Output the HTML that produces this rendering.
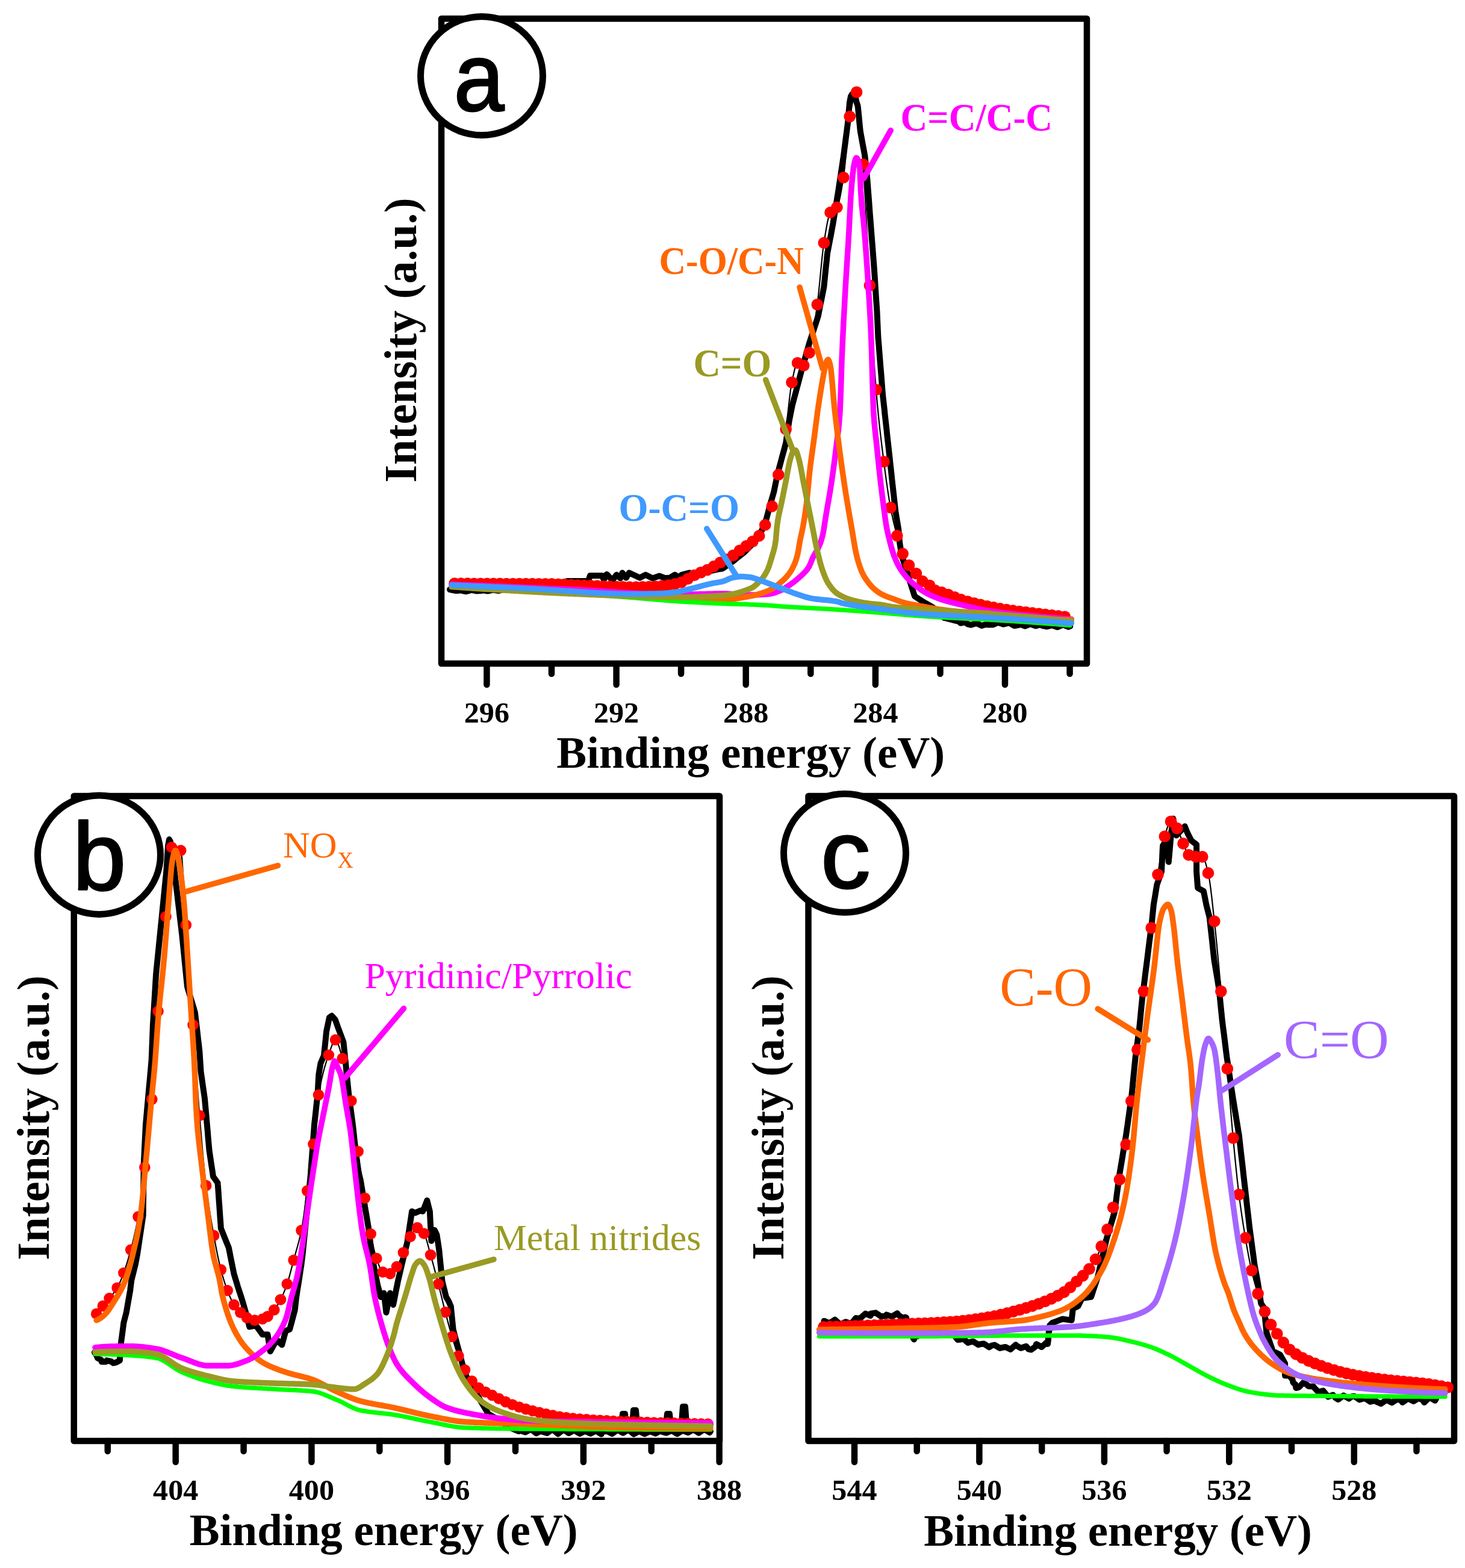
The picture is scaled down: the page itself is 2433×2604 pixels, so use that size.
<!DOCTYPE html><html><head><meta charset="utf-8"><title>XPS spectra</title><style>html,body{margin:0;padding:0;background:#fff}svg{display:block}</style></head><body>
<svg width="2433" height="2604" viewBox="0 0 2433 2604">
<rect width="2433" height="2604" fill="#fff"/>
<rect x="733" y="31" width="1072" height="1071" fill="none" stroke="#000" stroke-width="10.5" stroke-linejoin="round"/>
<line x1="808.4" y1="1102" x2="808.4" y2="1137" stroke="#000" stroke-width="10.5" stroke-linecap="round"/>
<g transform="translate(808.4,0) scale(1.045,1) translate(-808.4,0)">
<text x="772.4" y="1200" font-family="Liberation Serif, serif" font-size="48" font-weight="bold" fill="#000">296</text>
</g>
<line x1="1023.6" y1="1102" x2="1023.6" y2="1137" stroke="#000" stroke-width="10.5" stroke-linecap="round"/>
<g transform="translate(1023.6,0) scale(1.045,1) translate(-1023.6,0)">
<text x="987.6" y="1200" font-family="Liberation Serif, serif" font-size="48" font-weight="bold" fill="#000">292</text>
</g>
<line x1="1238.7" y1="1102" x2="1238.7" y2="1137" stroke="#000" stroke-width="10.5" stroke-linecap="round"/>
<g transform="translate(1238.7,0) scale(1.045,1) translate(-1238.7,0)">
<text x="1202.7" y="1200" font-family="Liberation Serif, serif" font-size="48" font-weight="bold" fill="#000">288</text>
</g>
<line x1="1453.9" y1="1102" x2="1453.9" y2="1137" stroke="#000" stroke-width="10.5" stroke-linecap="round"/>
<g transform="translate(1453.9,0) scale(1.045,1) translate(-1453.9,0)">
<text x="1417.9" y="1200" font-family="Liberation Serif, serif" font-size="48" font-weight="bold" fill="#000">284</text>
</g>
<line x1="1669" y1="1102" x2="1669" y2="1137" stroke="#000" stroke-width="10.5" stroke-linecap="round"/>
<g transform="translate(1669,0) scale(1.045,1) translate(-1669,0)">
<text x="1633" y="1200" font-family="Liberation Serif, serif" font-size="48" font-weight="bold" fill="#000">280</text>
</g>
<line x1="916" y1="1102" x2="916" y2="1119" stroke="#000" stroke-width="10.5" stroke-linecap="round"/>
<line x1="1131.1" y1="1102" x2="1131.1" y2="1119" stroke="#000" stroke-width="10.5" stroke-linecap="round"/>
<line x1="1346.3" y1="1102" x2="1346.3" y2="1119" stroke="#000" stroke-width="10.5" stroke-linecap="round"/>
<line x1="1561.5" y1="1102" x2="1561.5" y2="1119" stroke="#000" stroke-width="10.5" stroke-linecap="round"/>
<line x1="1776.6" y1="1102" x2="1776.6" y2="1119" stroke="#000" stroke-width="10.5" stroke-linecap="round"/>
<text x="924.3" y="1275.4" font-family="Liberation Serif, serif" font-size="74.9" font-weight="bold" fill="#000">Binding energy (eV)</text>
<text transform="translate(690.8,801.4) rotate(-90)" x="0" y="0" font-family="Liberation Serif, serif" font-size="75.7" font-weight="bold" fill="#000">Intensity (a.u.)</text>
<polyline points="747,979 755.9,980.9 760,981 764.8,980.3 773.8,982.3 782.8,979.9 791.8,981.5 800,981 800.8,980.1 809.8,981.6 818.8,979.6 827.8,981.1 836.8,979 845.8,980 850,979 854.8,977.4 863.7,978.1 872.6,974.9 880,975 881.5,974.6 890.2,972.2 898.8,969.7 905,968 907.6,967.6 912,967 916.5,967 925.5,967 933,967 934.5,966.7 943,965 943.3,965 952.3,965 961.3,965 970.3,965 977,965 977.7,962.8 980,956 981.8,956 990.8,956 999.8,956 1000,956 1002.8,962.8 1003.5,961.5 1007.6,953.7 1007.7,953.8 1014,960.3 1017.3,963.6 1019.8,960.1 1023.8,954.6 1025.4,956.1 1030.2,960.4 1031.1,958 1033.5,951.3 1034.7,952.8 1039.9,959.6 1040.1,959.2 1044.7,951.5 1044.8,951.3 1052.8,955 1055,956 1060.9,958.8 1062.6,959.6 1068.9,956.3 1072.2,954.6 1076.9,957 1083.6,960.4 1085,959.9 1093.6,957 1094.9,956.5 1102,959.2 1104,960 1110.8,959.7 1112.6,959.6 1118.7,955.8 1120.7,954.6 1126.4,958.1 1128,959 1132,954.7 1133.3,954.4 1142,952.1 1145,951.3 1150.7,952.6 1155,953.5 1159.4,952.1 1164.3,950.5 1168.1,949.9 1177,948.5 1180,948 1185.8,946.8 1193.9,945.1 1194.6,945 1200,944.2 1202.9,942.1 1210.3,937 1217.7,931.8 1218.1,931.5 1224.7,926.2 1231.7,920.6 1236.2,917 1238.5,914.7 1244.9,908.3 1251.3,901.9 1254.3,898.9 1256.7,894.9 1261.4,887.2 1265.2,880.8 1265.8,879.4 1269.1,871 1272.5,862.7 1272.5,862.7 1274.8,854 1277.1,845.3 1279.4,836.6 1279.7,835.5 1282,827.9 1284.5,819.3 1285.1,817.4 1286.5,810.5 1288.3,801.7 1290.1,792.9 1290.6,790.2 1292.2,784.1 1294.5,775.4 1296.8,766.7 1297.8,763 1299.1,758 1301.5,749.4 1303.8,740.7 1305.1,735.9 1305.7,731.9 1307,723 1308.3,714.1 1309.7,705.2 1310.5,699.6 1311.2,696.3 1312.9,687.5 1314.7,678.6 1315.9,672.5 1316.6,669.9 1318.9,661.2 1321.3,652.5 1323.2,645.3 1323.6,643.8 1325.9,635.1 1328.2,626.4 1330.4,618.1 1330.5,617.7 1333,609 1335.4,600.4 1337.9,591.7 1340.3,583 1342.8,574.4 1344,570 1345.4,565.8 1348.2,557.2 1351,548.7 1353.8,540.1 1356.6,531.6 1358.6,525.4 1359.1,522.9 1360.9,514.1 1362.6,505.3 1364.4,496.5 1366.2,487.6 1367.9,478.8 1368.3,477 1369,469.9 1369.9,460.9 1370.8,452 1371.7,443 1372.7,434.1 1373.6,425.1 1374,420.8 1374.9,416.2 1376.6,407.4 1378,400 1378.3,398.5 1380,389.7 1381.6,380.9 1383.3,372 1383.3,372 1384.7,363.1 1386.2,354.2 1387.6,345.4 1389.1,336.5 1390.5,327.6 1392,318.7 1392.4,316 1393.3,309.8 1394.7,300.9 1396,292 1397.3,283.1 1398.7,274.2 1400,265.3 1400.8,260 1401.3,256.4 1402.4,247.5 1403.6,238.5 1404.7,229.6 1405.9,220.7 1407,211.8 1408,204 1408.1,202.8 1408.9,193.9 1409.7,184.9 1410.5,175.9 1411,170 1411.6,167 1413,160 1414,158.4 1415.5,156 1419,159 1419.5,160.4 1422.3,169 1424.6,176 1424.8,177.6 1425.7,186.6 1426.6,195.5 1427.4,204.5 1428.3,213.4 1428.8,218 1429.6,222.3 1431.2,231.2 1432.8,240 1434.5,248.9 1436.1,257.7 1436.5,260 1437.2,266.7 1438.1,275.6 1439,284.6 1439.9,293.5 1440.7,302 1440.7,302.5 1441.4,311.5 1442.1,320.4 1442.8,329.4 1443.5,338.4 1444.1,347.4 1444.8,356.3 1445.5,365.3 1446,372 1446.2,374.3 1446.9,383.3 1447.6,392.2 1448.3,401.2 1449,410.2 1449.7,419.1 1450.4,428.1 1451.1,437.1 1451.7,445 1451.8,446.1 1452.4,455 1453,464 1453.5,473 1454.1,482 1454.7,491 1455.3,500 1455.9,508.9 1456.5,517.7 1456.5,517.9 1456.9,526.9 1457.3,535.9 1457.7,544.9 1458.1,553.9 1458.4,560 1458.6,562.9 1459.4,571.8 1460.1,580.8 1460.8,589.8 1461.5,598.7 1462.2,607.7 1463,616.7 1463.7,625.7 1464.4,634.6 1465.1,643.6 1465.8,652.6 1466.2,657 1466.7,661.5 1467.7,670.5 1468.7,679.4 1469.6,688.4 1470.6,697.3 1471.6,706.3 1472.6,715.2 1473.5,724.2 1474.5,733.1 1475.5,742 1476.5,751 1476.8,753.9 1477.5,759.9 1478.4,768.9 1479.4,777.8 1480.4,786.8 1481.3,795.7 1482,802 1482.3,804.7 1483.3,813.6 1484.3,822.6 1485.3,831.5 1486.3,840.5 1487.3,849.4 1487.5,850.8 1488.7,858.3 1490.2,867.2 1491.7,876.1 1492.3,880 1492.7,885 1493.5,893.9 1494,900 1494.4,902.9 1495.8,911.8 1497.1,920.7 1497.6,923.7 1499.6,929.3 1502.5,937.8 1505.5,946.3 1505.9,947.4 1508.1,954.9 1510.6,963.6 1511,965 1513.3,972.2 1516,980.8 1518.7,989.3 1518.9,990 1525.8,994.6 1533.3,999.5 1535.6,1001 1541.1,1004 1548,1007.8 1548.9,1008.5 1556.2,1013.7 1558,1015 1562.6,1020.1 1568,1026 1568.9,1026.2 1577.7,1028.4 1586.4,1030.6 1593.9,1032.4 1595.1,1034.8 1603.8,1033 1606.8,1036.3 1612.6,1037.8 1621.6,1035 1630.6,1039.1 1639.6,1036.2 1640,1037.5 1648.6,1037.6 1657.5,1033.8 1666.5,1036.8 1672.6,1035.1 1675.5,1034.2 1684.4,1039.2 1692,1038 1693.3,1036.3 1702.3,1039.8 1711.3,1036.4 1720.3,1039.5 1729.3,1037 1730.8,1039 1738.3,1040.6 1747.3,1038.4 1756.3,1041.5 1765.3,1037.4 1774.3,1041 1777.3,1040" fill="none" stroke="#000" stroke-width="10" stroke-linejoin="round" stroke-linecap="round"/>
<polyline points="755,969 757,969 759,969 761,969 763,969 765,969.1 767,969.1 769,969.1 771,969.1 773,969.1 775,969.1 777,969.1 779,969.1 781,969.1 783,969.2 785,969.2 787,969.2 789,969.2 791,969.2 793,969.2 795,969.2 797,969.2 799,969.2 801,969.2 803,969.3 805,969.3 807,969.3 809,969.3 811,969.3 813,969.3 815,969.3 817,969.3 819,969.3 821,969.4 823,969.4 825,969.4 827,969.4 829,969.4 831,969.4 833,969.4 835,969.4 837,969.4 839,969.4 841,969.4 843,969.5 845,969.5 847,969.5 849,969.5 851,969.5 853,969.5 855,969.5 857,969.5 859,969.5 861,969.5 863,969.5 865,969.5 867,969.5 869,969.6 871,969.6 873,969.6 875,969.6 877,969.6 879,969.6 881,969.6 883,969.6 885,969.6 887,969.6 889,969.6 891,969.6 893,969.7 895,969.7 897,969.7 899,969.7 901,969.7 903,969.7 905,969.7 907,969.8 909,969.8 911,969.8 913,969.8 915,969.8 917,969.9 919,969.9 921,970 923,970 925,970.1 927,970.2 929,970.3 931,970.3 933,970.4 935,970.5 937,970.6 939,970.7 941,970.8 943,970.9 945,971 947,971.1 949,971.2 951,971.3 953,971.4 955,971.5 957,971.6 959,971.7 961,971.8 963,971.9 965,972 967,972 969,972.1 971,972.2 973,972.3 975,972.4 977,972.5 979,972.5 981,972.6 983,972.7 985,972.8 987,972.9 989,973 991,973.1 993,973.2 995,973.3 997,973.4 999,973.5 1001,973.6 1003,973.7 1005,973.8 1007,973.9 1009,973.9 1011,974 1013,974.1 1015,974.2 1017,974.3 1019,974.4 1021,974.4 1023,974.5 1025,974.6 1027,974.6 1029,974.7 1031,974.7 1033,974.8 1035,974.8 1037,974.9 1039,974.9 1041,974.9 1043,975 1045,975 1047,975 1049,975 1051,975 1053,975 1055,975 1057,975 1059,974.9 1061,974.9 1063,974.9 1065,974.8 1067,974.8 1069,974.8 1071,974.7 1073,974.7 1075,974.6 1077,974.6 1079,974.5 1081,974.4 1083,974.4 1085,974.3 1087,974.1 1089,974 1091,973.9 1093,973.7 1095,973.5 1097,973.4 1099,973.2 1101,972.9 1103,972.7 1105,972.5 1107,972.2 1109,971.9 1111,971.6 1113,971.3 1115,971 1117,970.7 1119,970.3 1121,970 1123,969.6 1125,969.2 1127,968.7 1129,968.1 1131,967.3 1133,966.4 1135,965.4 1137,964.3 1139,963.1 1141,962 1143,960.8 1145,959.6 1147,958.4 1149,957.3 1151,956.2 1153,955.2 1155,954.3 1157,953.5 1159,952.7 1161,951.9 1163,951.2 1165,950.4 1167,949.7 1169,948.9 1171,948.1 1173,947.2 1175,946.4 1177,945.4 1179,944.4 1181,943.3 1183,942.1 1185,940.9 1187,939.6 1189,938.3 1191,937.1 1193,935.9 1195,934.8 1197,933.8 1199,932.9 1201,931.9 1203,931 1205,930.1 1207,929.1 1209,928 1211,926.8 1213,925.5 1215,924.1 1217,922.7 1219,921.2 1221,919.7 1223,918.2 1225,916.8 1227,915.3 1229,913.9 1231,912.6 1233,911.2 1235,909.8 1237,908.5 1239,907.1 1241,905.7 1243,904.2 1245,902.7 1247,901.2 1249,899.8 1251,898.4 1253,897 1255,895.4 1257,893.7 1259,891.8 1261,889.5 1263,886.8 1265,883.4 1267,879.5 1269,875.3 1271,871.1 1273,866.6 1275,861.9 1277,856.8 1279,851.2 1281,845 1283,838 1285,829.5 1287,819.8 1289,809.3 1291,798.3 1293,787.3 1295,776.2 1297,764.7 1299,752.8 1301,740.5 1303,727.6 1305,714.1 1307,698.8 1309,681.1 1311,663.2 1313,647.1 1315,635 1317,625.5 1319,616.4 1321,608.9 1323,604 1325,602.7 1327,603.3 1329,604.4 1331,605.7 1333,606.6 1335,607 1337,605.2 1339,601.1 1341,595.5 1343,589 1345,582.1 1347,573.3 1349,562.6 1351,550.3 1353,536.9 1355,522.6 1357,508 1359,491.7 1361,472 1363,451 1365,430.5 1367,412.7 1369,399 1371,386.6 1373,375 1375,365 1377,357.4 1379,352.9 1381,350.8 1383,349.4 1385,348.4 1387,347.2 1389,345.5 1391,342.4 1393,336.5 1395,328 1397,317.6 1399,305.9 1401,293.5 1403,276.5 1405,254.6 1407,231.3 1409,210.1 1411,194.6 1413,184.1 1415,174.1 1417,165.4 1419,158.5 1421,154.2 1423,153.3 1425,162.2 1427,181.3 1429,207.1 1431,236.5 1433,266 1435,295.7 1437,330.8 1439,369.6 1441,409.6 1443,448.6 1445,484.5 1447,520.4 1449,556.3 1451,590.7 1453,621.9 1455,648.4 1457,671.1 1459,691.6 1461,710.5 1463,728 1465,744.5 1467,760.4 1469,776 1471,791.2 1473,805.6 1475,819.2 1477,831.7 1479,843 1481,853.1 1483,862.4 1485,871 1487,879 1489,886.7 1491,894 1493,901.1 1495,907.8 1497,913.8 1499,919.1 1501,923.7 1503,927.8 1505,931.5 1507,934.9 1509,938 1511,940.8 1513,943.2 1515,945.5 1517,947.6 1519,949.8 1521,952 1523,954.5 1525,957.1 1527,959.8 1529,962.3 1531,964.4 1533,966 1535,967.3 1537,968.4 1539,969.5 1541,970.5 1543,971.7 1545,973.3 1547,975.2 1549,977.3 1551,979.1 1553,980.5 1555,981.4 1557,982 1559,982.6 1561,983.1 1563,983.6 1565,984.1 1567,984.7 1569,985.3 1571,986.1 1573,986.8 1575,987.6 1577,988.4 1579,989.2 1581,990.1 1583,990.9 1585,991.8 1587,992.6 1589,993.3 1591,994.1 1593,994.8 1595,995.5 1597,996.1 1599,996.7 1601,997.3 1603,997.9 1605,998.4 1607,999 1609,999.5 1611,1000.1 1613,1000.6 1615,1001.1 1617,1001.6 1619,1002.1 1621,1002.6 1623,1003 1625,1003.5 1627,1004 1629,1004.4 1631,1004.9 1633,1005.3 1635,1005.7 1637,1006.2 1639,1006.6 1641,1007 1643,1007.4 1645,1007.8 1647,1008.3 1649,1008.7 1651,1009 1653,1009.4 1655,1009.8 1657,1010.2 1659,1010.5 1661,1010.9 1663,1011.3 1665,1011.6 1667,1011.9 1669,1012.2 1671,1012.6 1673,1012.9 1675,1013.2 1677,1013.4 1679,1013.7 1681,1014 1683,1014.2 1685,1014.5 1687,1014.7 1689,1015 1691,1015.2 1693,1015.5 1695,1015.7 1697,1015.9 1699,1016.2 1701,1016.4 1703,1016.6 1705,1016.8 1707,1017.1 1709,1017.3 1711,1017.6 1713,1017.8 1715,1018 1717,1018.3 1719,1018.5 1721,1018.8 1723,1019 1725,1019.2 1727,1019.5 1729,1019.7 1731,1019.9 1733,1020.2 1735,1020.4 1737,1020.7 1739,1020.9 1741,1021.1 1743,1021.4 1745,1021.6 1747,1021.8 1749,1022.1 1751,1022.3 1753,1022.5 1755,1022.8 1757,1023 1759,1023.2 1761,1023.5 1763,1023.7 1765,1023.9 1767,1024.1 1769,1024.4 1771,1024.6 1773,1024.8 1775,1025.1 1777,1025.3 1778,1025.4" fill="none" stroke="#000" stroke-width="2.2" stroke-linejoin="round"/>
<g fill="#FF0000"><circle cx="1260.7" cy="889.9" r="9.8"/><circle cx="1270.7" cy="871.7" r="9.8"/><circle cx="1282.2" cy="840.9" r="9.8"/><circle cx="1292.8" cy="788.4" r="9.8"/><circle cx="1305.2" cy="712.7" r="9.8"/><circle cx="1315" cy="635" r="9.8"/><circle cx="1324.6" cy="602.7" r="9.8"/><circle cx="1334.8" cy="607" r="9.8"/><circle cx="1344" cy="585.7" r="9.8"/><circle cx="1357.3" cy="505.8" r="9.8"/><circle cx="1368.3" cy="403.4" r="9.8"/><circle cx="1379" cy="352.9" r="9.8"/><circle cx="1389.9" cy="344.4" r="9.8"/><circle cx="1400.8" cy="294.8" r="9.8"/><circle cx="1411.2" cy="193.5" r="9.8"/><circle cx="1422.6" cy="153" r="9.8"/><circle cx="1433.5" cy="273" r="9.8"/><circle cx="1444.4" cy="474" r="9.8"/><circle cx="1454.9" cy="647.2" r="9.8"/><circle cx="1467.8" cy="766.7" r="9.8"/><circle cx="1479" cy="843" r="9.8"/><circle cx="1489.8" cy="889.6" r="9.8"/><circle cx="1499.2" cy="919.6" r="9.8"/><circle cx="1509.5" cy="938.7" r="9.8"/><circle cx="1521.4" cy="952.5" r="9.8"/><circle cx="1531.9" cy="965.2" r="9.8"/><circle cx="1543.8" cy="972.3" r="9.8"/><circle cx="1553.2" cy="980.6" r="9.8"/><circle cx="1249.9" cy="899.2" r="9.8"/><circle cx="1239.2" cy="906.9" r="9.8"/><circle cx="1228.4" cy="914.3" r="9.8"/><circle cx="1217.7" cy="922.2" r="9.8"/><circle cx="1206.9" cy="929.1" r="9.8"/><circle cx="1196.1" cy="934.2" r="9.8"/><circle cx="1185.4" cy="940.6" r="9.8"/><circle cx="1174.6" cy="946.5" r="9.8"/><circle cx="1163.9" cy="950.8" r="9.8"/><circle cx="1153.1" cy="955.2" r="9.8"/><circle cx="1142.3" cy="961.2" r="9.8"/><circle cx="1131.6" cy="967" r="9.8"/><circle cx="1120.8" cy="970" r="9.8"/><circle cx="1110.1" cy="971.8" r="9.8"/><circle cx="1099.3" cy="973.1" r="9.8"/><circle cx="1088.5" cy="974" r="9.8"/><circle cx="1077.8" cy="974.5" r="9.8"/><circle cx="1067" cy="974.8" r="9.8"/><circle cx="1056.3" cy="975" r="9.8"/><circle cx="1045.5" cy="975" r="9.8"/><circle cx="1034.7" cy="974.8" r="9.8"/><circle cx="1024" cy="974.5" r="9.8"/><circle cx="1013.2" cy="974.1" r="9.8"/><circle cx="1002.5" cy="973.7" r="9.8"/><circle cx="991.7" cy="973.1" r="9.8"/><circle cx="980.9" cy="972.6" r="9.8"/><circle cx="970.2" cy="972.2" r="9.8"/><circle cx="959.4" cy="971.7" r="9.8"/><circle cx="948.7" cy="971.2" r="9.8"/><circle cx="937.9" cy="970.7" r="9.8"/><circle cx="927.1" cy="970.2" r="9.8"/><circle cx="916.4" cy="969.9" r="9.8"/><circle cx="905.6" cy="969.7" r="9.8"/><circle cx="894.9" cy="969.7" r="9.8"/><circle cx="884.1" cy="969.6" r="9.8"/><circle cx="873.3" cy="969.6" r="9.8"/><circle cx="862.6" cy="969.5" r="9.8"/><circle cx="851.8" cy="969.5" r="9.8"/><circle cx="841.1" cy="969.5" r="9.8"/><circle cx="830.3" cy="969.4" r="9.8"/><circle cx="819.5" cy="969.3" r="9.8"/><circle cx="808.8" cy="969.3" r="9.8"/><circle cx="798" cy="969.2" r="9.8"/><circle cx="787.3" cy="969.2" r="9.8"/><circle cx="776.5" cy="969.1" r="9.8"/><circle cx="765.7" cy="969.1" r="9.8"/><circle cx="755" cy="969" r="9.8"/><circle cx="1564" cy="983.9" r="9.8"/><circle cx="1574.7" cy="987.5" r="9.8"/><circle cx="1585.5" cy="991.9" r="9.8"/><circle cx="1596.2" cy="995.9" r="9.8"/><circle cx="1607" cy="999" r="9.8"/><circle cx="1617.8" cy="1001.8" r="9.8"/><circle cx="1628.5" cy="1004.3" r="9.8"/><circle cx="1639.3" cy="1006.7" r="9.8"/><circle cx="1650" cy="1008.9" r="9.8"/><circle cx="1660.8" cy="1010.9" r="9.8"/><circle cx="1671.6" cy="1012.6" r="9.8"/><circle cx="1682.3" cy="1014.1" r="9.8"/><circle cx="1693.1" cy="1015.5" r="9.8"/><circle cx="1703.8" cy="1016.7" r="9.8"/><circle cx="1714.6" cy="1018" r="9.8"/><circle cx="1725.4" cy="1019.3" r="9.8"/><circle cx="1736.1" cy="1020.6" r="9.8"/><circle cx="1746.9" cy="1021.8" r="9.8"/><circle cx="1757.6" cy="1023.1" r="9.8"/><circle cx="1768.4" cy="1024.3" r="9.8"/></g>
<polyline points="750,970.5 751.5,970.6 753,970.6 754.5,970.7 756,970.7 757.5,970.8 759,970.9 760.5,970.9 762,971 763.5,971 765,971.1 766.5,971.2 768,971.2 769.5,971.3 771,971.3 772.5,971.4 774,971.5 775.5,971.5 777,971.6 778.5,971.6 780,971.7 781.5,971.8 783,971.8 784.5,971.9 786,972 787.5,972 789,972.1 790.5,972.1 792,972.2 793.5,972.3 795,972.3 796.5,972.4 798,972.4 799.5,972.5 801,972.6 802.5,972.6 804,972.7 805.5,972.8 807,972.8 808.5,972.9 810,972.9 811.5,973 813,973.1 814.5,973.1 816,973.2 817.5,973.3 819,973.3 820.5,973.4 822,973.4 823.5,973.5 825,973.6 826.5,973.6 828,973.7 829.5,973.8 831,973.8 832.5,973.9 834,973.9 835.5,974 837,974.1 838.5,974.1 840,974.2 841.5,974.3 843,974.3 844.5,974.4 846,974.5 847.5,974.5 849,974.6 850.5,974.6 852,974.7 853.5,974.8 855,974.8 856.5,974.9 858,975 859.5,975 861,975.1 862.5,975.2 864,975.2 865.5,975.3 867,975.4 868.5,975.4 870,975.5 871.5,975.5 873,975.6 874.5,975.7 876,975.7 877.5,975.8 879,975.9 880.5,975.9 882,976 883.5,976.1 885,976.1 886.5,976.2 888,976.3 889.5,976.3 891,976.4 892.5,976.5 894,976.5 895.5,976.6 897,976.7 898.5,976.7 900,976.8 901.5,976.8 903,976.9 904.5,977 906,977 907.5,977.1 909,977.2 910.5,977.2 912,977.3 913.5,977.4 915,977.4 916.5,977.5 918,977.6 919.5,977.6 921,977.7 922.5,977.8 924,977.8 925.5,977.9 927,978 928.5,978 930,978.1 931.5,978.2 933,978.2 934.5,978.3 936,978.4 937.5,978.4 939,978.5 940.5,978.6 942,978.6 943.5,978.7 945,978.8 946.5,978.8 948,978.9 949.5,979 951,979 952.5,979.1 954,979.2 955.5,979.3 957,979.3 958.5,979.4 960,979.5 961.5,979.6 963,979.6 964.5,979.7 966,979.8 967.5,979.9 969,979.9 970.5,980 972,980.1 973.5,980.2 975,980.3 976.5,980.4 978,980.5 979.5,980.5 981,980.6 982.5,980.7 984,980.8 985.5,980.9 987,981 988.5,981.1 990,981.2 991.5,981.3 993,981.4 994.5,981.4 996,981.5 997.5,981.6 999,981.7 1000.5,981.8 1002,981.9 1003.5,982 1005,982.1 1006.5,982.2 1008,982.3 1009.5,982.4 1011,982.5 1012.5,982.6 1014,982.7 1015.5,982.8 1017,982.9 1018.5,983 1020,983.1 1021.5,983.1 1023,983.2 1024.5,983.3 1026,983.4 1027.5,983.5 1029,983.6 1030.5,983.7 1032,983.8 1033.5,983.9 1035,984 1036.5,984.1 1038,984.2 1039.5,984.3 1041,984.3 1042.5,984.4 1044,984.5 1045.5,984.6 1047,984.7 1048.5,984.8 1050,984.9 1051.5,984.9 1053,985 1054.5,985.1 1056,985.2 1057.5,985.3 1059,985.3 1060.5,985.4 1062,985.5 1063.5,985.6 1065,985.6 1066.5,985.7 1068,985.8 1069.5,985.9 1071,985.9 1072.5,986 1074,986.1 1075.5,986.1 1077,986.2 1078.5,986.3 1080,986.3 1081.5,986.4 1083,986.4 1084.5,986.5 1086,986.6 1087.5,986.6 1089,986.7 1090.5,986.7 1092,986.8 1093.5,986.8 1095,986.8 1096.5,986.9 1098,986.9 1099.5,987 1101,987 1102.5,987 1104,987.1 1105.5,987.1 1107,987.1 1108.5,987.2 1110,987.2 1111.5,987.2 1113,987.2 1114.5,987.2 1116,987.3 1117.5,987.3 1119,987.3 1120.5,987.3 1122,987.3 1123.5,987.3 1125,987.3 1126.5,987.3 1128,987.3 1129.5,987.3 1131,987.3 1132.5,987.3 1134,987.2 1135.5,987.2 1137,987.2 1138.5,987.2 1140,987.2 1141.5,987.1 1143,987.1 1144.5,987.1 1146,987.1 1147.5,987 1149,987 1150.5,987 1152,986.9 1153.5,986.9 1155,986.8 1156.5,986.8 1158,986.8 1159.5,986.7 1161,986.7 1162.5,986.6 1164,986.6 1165.5,986.6 1167,986.5 1168.5,986.5 1170,986.5 1171.5,986.4 1173,986.4 1174.5,986.3 1176,986.3 1177.5,986.3 1179,986.2 1180.5,986.2 1182,986.2 1183.5,986.2 1185,986.1 1186.5,986.1 1188,986.1 1189.5,986.1 1191,986.1 1192.5,986 1194,986 1195.5,986 1197,986 1198.5,986 1200,986 1201.5,986 1203,986 1204.5,986.1 1206,986.1 1207.5,986.1 1209,986.2 1210.5,986.3 1212,986.3 1213.5,986.4 1215,986.5 1216.5,986.6 1218,986.7 1219.5,986.7 1221,986.8 1222.5,986.9 1224,987 1225.5,987.1 1227,987.2 1228.5,987.3 1230,987.4 1231.5,987.5 1233,987.6 1234.5,987.7 1236,987.7 1237.5,987.8 1239,987.8 1240.5,987.9 1242,987.9 1243.5,988 1245,988 1246.5,988 1248,988 1249.5,988 1251,988 1252.5,987.9 1254,987.9 1255.5,987.9 1257,987.8 1258.5,987.8 1260,987.7 1261.5,987.6 1263,987.6 1264.5,987.5 1266,987.4 1267.5,987.3 1269,987.2 1270.5,987.1 1272,987 1273.5,986.8 1275,986.7 1276.5,986.6 1278,986.4 1279.5,986.2 1281,985.9 1282.5,985.5 1284,985.1 1285.5,984.7 1287,984.2 1288.5,983.7 1290,983.1 1291.5,982.5 1293,981.9 1294.5,981.3 1296,980.7 1297.5,980.1 1299,979.3 1300.5,978.5 1302,977.7 1303.5,976.8 1305,975.8 1306.5,974.8 1308,973.8 1309.5,972.8 1311,971.8 1312.5,970.8 1314,969.7 1315.5,968.6 1317,967.5 1318.5,966.4 1320,965.2 1321.5,964 1323,962.8 1324.5,961.5 1326,960.2 1327.5,958.8 1329,957.5 1330.5,956.1 1332,954.7 1333.5,953.3 1335,951.9 1336.5,950.3 1338,948.6 1339.5,946.9 1341,944.9 1342.5,942.8 1344,940.2 1345.5,936.9 1347,933.2 1348.5,929.4 1350,926 1351.5,923.1 1353,920.4 1354.5,917.9 1356,915.3 1357.5,912.7 1359,909.8 1360.5,906.5 1362,902.8 1363.5,898.6 1365,893.7 1366.5,887.8 1368,879.8 1369.5,870.3 1371,860.5 1372.5,851.2 1374,842.5 1375.5,833.9 1377,825.3 1378.5,816.4 1380,807.1 1381.5,797.3 1383,786.9 1384.5,776 1386,764.6 1387.5,752.5 1389,740 1390.5,728.8 1392,717.4 1393.5,703.2 1395,683.9 1396.5,646.1 1398,598.9 1399.5,564.3 1401,534.3 1402.5,506.4 1404,479.2 1405.5,454.4 1407,431.1 1408.5,407.7 1410,382.7 1411.5,353.2 1413,325.8 1414.5,306.6 1416,290.5 1417.5,278.5 1419,270.7 1420.5,264.6 1422,262 1423.5,262.9 1425,265.8 1426.5,270.4 1428,280.9 1429.5,316.5 1431,339.6 1432.5,353.4 1434,366.7 1435.5,383.6 1437,402.3 1438.5,422.5 1440,443.9 1441.5,466.6 1443,490.3 1444.5,514.8 1446,542.4 1447.5,580.4 1449,637.1 1450.5,681 1452,702 1453.5,717.4 1455,730.6 1456.5,745 1458,759.8 1459.5,774.3 1461,788.2 1462.5,801.4 1464,814 1465.5,826 1467,837.5 1468.5,848.7 1470,860 1471.5,870.3 1473,878.7 1474.5,885.8 1476,892.2 1477.5,898.1 1479,903.8 1480.5,909.4 1482,914.6 1483.5,919.4 1485,923.6 1486.5,927.3 1488,930.8 1489.5,934.1 1491,937.2 1492.5,940.1 1494,942.7 1495.5,945.2 1497,947.5 1498.5,949.6 1500,951.7 1501.5,953.6 1503,955.5 1504.5,957.3 1506,959 1507.5,960.6 1509,962.2 1510.5,963.7 1512,965.1 1513.5,966.5 1515,967.9 1516.5,969.2 1518,970.5 1519.5,971.7 1521,972.9 1522.5,974.1 1524,975.3 1525.5,976.4 1527,977.6 1528.5,978.6 1530,979.7 1531.5,980.7 1533,981.7 1534.5,982.6 1536,983.5 1537.5,984.4 1539,985.2 1540.5,986 1542,986.8 1543.5,987.5 1545,988.3 1546.5,988.9 1548,989.6 1549.5,990.3 1551,990.9 1552.5,991.5 1554,992.1 1555.5,992.7 1557,993.3 1558.5,993.8 1560,994.4 1561.5,994.9 1563,995.4 1564.5,995.9 1566,996.4 1567.5,996.8 1569,997.3 1570.5,997.8 1572,998.2 1573.5,998.6 1575,999 1576.5,999.4 1578,999.8 1579.5,1000.2 1581,1000.6 1582.5,1001 1584,1001.3 1585.5,1001.7 1587,1002.1 1588.5,1002.4 1590,1002.8 1591.5,1003.1 1593,1003.5 1594.5,1003.9 1596,1004.2 1597.5,1004.6 1599,1004.9 1600.5,1005.3 1602,1005.7 1603.5,1006.1 1605,1006.4 1606.5,1006.8 1608,1007.2 1609.5,1007.5 1611,1007.9 1612.5,1008.3 1614,1008.6 1615.5,1009 1617,1009.3 1618.5,1009.7 1620,1010 1621.5,1010.4 1623,1010.7 1624.5,1011 1626,1011.4 1627.5,1011.7 1629,1012 1630.5,1012.3 1632,1012.6 1633.5,1012.9 1635,1013.1 1636.5,1013.4 1638,1013.7 1639.5,1013.9 1641,1014.2 1642.5,1014.4 1644,1014.6 1645.5,1014.8 1647,1015.1 1648.5,1015.3 1650,1015.5 1651.5,1015.7 1653,1015.9 1654.5,1016.1 1656,1016.3 1657.5,1016.5 1659,1016.7 1660.5,1016.9 1662,1017.1 1663.5,1017.3 1665,1017.5 1666.5,1017.7 1668,1017.9 1669.5,1018.1 1671,1018.2 1672.5,1018.4 1674,1018.6 1675.5,1018.8 1677,1018.9 1678.5,1019.1 1680,1019.3 1681.5,1019.4 1683,1019.6 1684.5,1019.8 1686,1019.9 1687.5,1020.1 1689,1020.2 1690.5,1020.4 1692,1020.5 1693.5,1020.7 1695,1020.9 1696.5,1021 1698,1021.2 1699.5,1021.3 1701,1021.5 1702.5,1021.6 1704,1021.8 1705.5,1021.9 1707,1022.1 1708.5,1022.2 1710,1022.4 1711.5,1022.5 1713,1022.7 1714.5,1022.8 1716,1023 1717.5,1023.1 1719,1023.2 1720.5,1023.4 1722,1023.5 1723.5,1023.7 1725,1023.8 1726.5,1024 1728,1024.1 1729.5,1024.2 1731,1024.4 1732.5,1024.5 1734,1024.7 1735.5,1024.8 1737,1024.9 1738.5,1025.1 1740,1025.2 1741.5,1025.3 1743,1025.5 1744.5,1025.6 1746,1025.7 1747.5,1025.8 1749,1026 1750.5,1026.1 1752,1026.2 1753.5,1026.3 1755,1026.5 1756.5,1026.6 1758,1026.7 1759.5,1026.8 1761,1026.9 1762.5,1027.1 1764,1027.2 1765.5,1027.3 1767,1027.4 1768.5,1027.5 1770,1027.6 1771.5,1027.7 1773,1027.9 1774.5,1028 1776,1028.1 1777.5,1028.2 1779,1028.3 1779.3,1028.3" fill="none" stroke="#FF00FF" stroke-width="9.5" stroke-linejoin="round" stroke-linecap="round"/>
<polyline points="750,973.5 751.5,973.6 753,973.6 754.5,973.7 756,973.8 757.5,973.9 759,973.9 760.5,974 762,974.1 763.5,974.2 765,974.2 766.5,974.3 768,974.4 769.5,974.4 771,974.5 772.5,974.6 774,974.7 775.5,974.7 777,974.8 778.5,974.9 780,975 781.5,975 783,975.1 784.5,975.2 786,975.3 787.5,975.3 789,975.4 790.5,975.5 792,975.6 793.5,975.6 795,975.7 796.5,975.8 798,975.8 799.5,975.9 801,976 802.5,976.1 804,976.1 805.5,976.2 807,976.3 808.5,976.4 810,976.4 811.5,976.5 813,976.6 814.5,976.7 816,976.7 817.5,976.8 819,976.9 820.5,977 822,977 823.5,977.1 825,977.2 826.5,977.3 828,977.3 829.5,977.4 831,977.5 832.5,977.6 834,977.6 835.5,977.7 837,977.8 838.5,977.9 840,977.9 841.5,978 843,978.1 844.5,978.2 846,978.2 847.5,978.3 849,978.4 850.5,978.5 852,978.5 853.5,978.6 855,978.7 856.5,978.8 858,978.9 859.5,978.9 861,979 862.5,979.1 864,979.2 865.5,979.2 867,979.3 868.5,979.4 870,979.5 871.5,979.5 873,979.6 874.5,979.7 876,979.8 877.5,979.8 879,979.9 880.5,980 882,980.1 883.5,980.2 885,980.2 886.5,980.3 888,980.4 889.5,980.5 891,980.5 892.5,980.6 894,980.7 895.5,980.8 897,980.8 898.5,980.9 900,981 901.5,981.1 903,981.2 904.5,981.2 906,981.3 907.5,981.4 909,981.5 910.5,981.5 912,981.6 913.5,981.7 915,981.8 916.5,981.9 918,981.9 919.5,982 921,982.1 922.5,982.2 924,982.3 925.5,982.3 927,982.4 928.5,982.5 930,982.6 931.5,982.6 933,982.7 934.5,982.8 936,982.9 937.5,983 939,983 940.5,983.1 942,983.2 943.5,983.3 945,983.4 946.5,983.4 948,983.5 949.5,983.6 951,983.7 952.5,983.8 954,983.8 955.5,983.9 957,984 958.5,984.1 960,984.2 961.5,984.2 963,984.3 964.5,984.4 966,984.5 967.5,984.6 969,984.6 970.5,984.7 972,984.8 973.5,984.9 975,985 976.5,985 978,985.1 979.5,985.2 981,985.3 982.5,985.4 984,985.5 985.5,985.5 987,985.6 988.5,985.7 990,985.8 991.5,985.9 993,985.9 994.5,986 996,986.1 997.5,986.2 999,986.3 1000.5,986.3 1002,986.4 1003.5,986.5 1005,986.6 1006.5,986.7 1008,986.7 1009.5,986.8 1011,986.9 1012.5,987 1014,987.1 1015.5,987.1 1017,987.2 1018.5,987.3 1020,987.4 1021.5,987.5 1023,987.6 1024.5,987.6 1026,987.7 1027.5,987.8 1029,987.9 1030.5,988 1032,988 1033.5,988.1 1035,988.2 1036.5,988.3 1038,988.4 1039.5,988.4 1041,988.5 1042.5,988.6 1044,988.7 1045.5,988.8 1047,988.8 1048.5,988.9 1050,989 1051.5,989.1 1053,989.2 1054.5,989.2 1056,989.3 1057.5,989.4 1059,989.5 1060.5,989.6 1062,989.7 1063.5,989.7 1065,989.8 1066.5,989.9 1068,990 1069.5,990.1 1071,990.2 1072.5,990.2 1074,990.3 1075.5,990.4 1077,990.5 1078.5,990.6 1080,990.7 1081.5,990.7 1083,990.8 1084.5,990.9 1086,991 1087.5,991.1 1089,991.2 1090.5,991.2 1092,991.3 1093.5,991.4 1095,991.5 1096.5,991.6 1098,991.6 1099.5,991.7 1101,991.8 1102.5,991.9 1104,992 1105.5,992 1107,992.1 1108.5,992.2 1110,992.3 1111.5,992.3 1113,992.4 1114.5,992.5 1116,992.6 1117.5,992.6 1119,992.7 1120.5,992.8 1122,992.9 1123.5,992.9 1125,993 1126.5,993.1 1128,993.1 1129.5,993.2 1131,993.3 1132.5,993.4 1134,993.4 1135.5,993.5 1137,993.6 1138.5,993.7 1140,993.8 1141.5,993.8 1143,993.9 1144.5,994 1146,994.1 1147.5,994.2 1149,994.2 1150.5,994.3 1152,994.4 1153.5,994.5 1155,994.5 1156.5,994.6 1158,994.7 1159.5,994.8 1161,994.9 1162.5,994.9 1164,995 1165.5,995.1 1167,995.1 1168.5,995.2 1170,995.3 1171.5,995.3 1173,995.4 1174.5,995.5 1176,995.5 1177.5,995.6 1179,995.6 1180.5,995.7 1182,995.7 1183.5,995.8 1185,995.8 1186.5,995.8 1188,995.9 1189.5,995.9 1191,995.9 1192.5,995.9 1194,996 1195.5,996 1197,996 1198.5,996 1200,996 1201.5,996 1203,996 1204.5,995.9 1206,995.8 1207.5,995.8 1209,995.7 1210.5,995.5 1212,995.4 1213.5,995.3 1215,995.1 1216.5,994.9 1218,994.8 1219.5,994.6 1221,994.3 1222.5,994.1 1224,993.9 1225.5,993.7 1227,993.4 1228.5,993.2 1230,992.9 1231.5,992.7 1233,992.4 1234.5,992.1 1236,991.9 1237.5,991.6 1239,991.3 1240.5,991 1242,990.7 1243.5,990.5 1245,990.2 1246.5,989.9 1248,989.6 1249.5,989.3 1251,989 1252.5,988.6 1254,988.3 1255.5,987.9 1257,987.5 1258.5,987.1 1260,986.6 1261.5,986.2 1263,985.7 1264.5,985.3 1266,984.8 1267.5,984.3 1269,983.7 1270.5,983.2 1272,982.7 1273.5,982.1 1275,981.4 1276.5,980.8 1278,980.1 1279.5,979.3 1281,978.5 1282.5,977.7 1284,976.9 1285.5,975.9 1287,974.9 1288.5,973.8 1290,972.7 1291.5,971.5 1293,970.3 1294.5,969 1296,967.7 1297.5,966.4 1299,965.1 1300.5,963.8 1302,962.4 1303.5,960.9 1305,959.3 1306.5,957.7 1308,955.9 1309.5,954 1311,952 1312.5,949.8 1314,947.4 1315.5,944.8 1317,941.9 1318.5,938.8 1320,935.3 1321.5,931.2 1323,926.5 1324.5,921 1326,913.6 1327.5,904.1 1329,895.9 1330.5,889 1332,882.2 1333.5,874.9 1335,866.5 1336.5,857.2 1338,846.9 1339.5,835.5 1341,821.6 1342.5,805.5 1344,789.6 1345.5,776.1 1347,764.3 1348.5,753.3 1350,742.7 1351.5,732 1353,720.7 1354.5,709.1 1356,697.4 1357.5,686 1359,675.2 1360.5,665.2 1362,655.5 1363.5,646.2 1365,637.3 1366.5,628.7 1368,620.7 1369.5,612.8 1371,605.4 1372.5,600.8 1374,597.8 1375.5,597.2 1377,600.2 1378.5,605 1380,613.8 1381.5,628.2 1383,645.6 1384.5,663.5 1386,679.2 1387.5,692.3 1389,705 1390.5,717.3 1392,729.4 1393.5,741.1 1395,752.5 1396.5,763.7 1398,774.6 1399.5,785.2 1401,795.5 1402.5,805.6 1404,815.4 1405.5,824.7 1407,833.9 1408.5,842.7 1410,851.5 1411.5,860.1 1413,868.7 1414.5,877.3 1416,886.3 1417.5,895.4 1419,904.3 1420.5,912.6 1422,919.9 1423.5,926 1425,931.4 1426.5,936.4 1428,941 1429.5,945.2 1431,948.9 1432.5,952.2 1434,955.2 1435.5,957.8 1437,960.3 1438.5,962.5 1440,964.6 1441.5,966.7 1443,968.6 1444.5,970.5 1446,972.2 1447.5,973.9 1449,975.5 1450.5,976.9 1452,978.3 1453.5,979.5 1455,980.7 1456.5,981.9 1458,983 1459.5,984 1461,985 1462.5,985.9 1464,986.7 1465.5,987.5 1467,988.2 1468.5,988.9 1470,989.6 1471.5,990.2 1473,990.8 1474.5,991.4 1476,991.9 1477.5,992.5 1479,993 1480.5,993.5 1482,994.1 1483.5,994.6 1485,995.1 1486.5,995.7 1488,996.2 1489.5,996.8 1491,997.3 1492.5,997.9 1494,998.4 1495.5,999 1497,999.5 1498.5,1000 1500,1000.4 1501.5,1000.9 1503,1001.3 1504.5,1001.7 1506,1002 1507.5,1002.4 1509,1002.7 1510.5,1003 1512,1003.3 1513.5,1003.6 1515,1003.9 1516.5,1004.2 1518,1004.5 1519.5,1004.8 1521,1005 1522.5,1005.3 1524,1005.6 1525.5,1005.8 1527,1006.1 1528.5,1006.4 1530,1006.6 1531.5,1006.9 1533,1007.2 1534.5,1007.5 1536,1007.7 1537.5,1008 1539,1008.3 1540.5,1008.6 1542,1008.8 1543.5,1009.1 1545,1009.4 1546.5,1009.6 1548,1009.9 1549.5,1010.2 1551,1010.4 1552.5,1010.7 1554,1010.9 1555.5,1011.2 1557,1011.4 1558.5,1011.6 1560,1011.9 1561.5,1012.1 1563,1012.3 1564.5,1012.5 1566,1012.7 1567.5,1012.9 1569,1013.1 1570.5,1013.3 1572,1013.5 1573.5,1013.7 1575,1013.9 1576.5,1014.1 1578,1014.3 1579.5,1014.5 1581,1014.6 1582.5,1014.8 1584,1015 1585.5,1015.1 1587,1015.3 1588.5,1015.4 1590,1015.6 1591.5,1015.7 1593,1015.8 1594.5,1016 1596,1016.1 1597.5,1016.2 1599,1016.3 1600.5,1016.4 1602,1016.5 1603.5,1016.5 1605,1016.6 1606.5,1016.7 1608,1016.8 1609.5,1016.8 1611,1016.9 1612.5,1017 1614,1017.1 1615.5,1017.1 1617,1017.2 1618.5,1017.2 1620,1017.3 1621.5,1017.4 1623,1017.5 1624.5,1017.5 1626,1017.6 1627.5,1017.7 1629,1017.8 1630.5,1017.8 1632,1017.9 1633.5,1018 1635,1018.1 1636.5,1018.2 1638,1018.3 1639.5,1018.5 1641,1018.6 1642.5,1018.7 1644,1018.9 1645.5,1019.1 1647,1019.4 1648.5,1019.6 1650,1019.8 1651.5,1020.1 1653,1020.4 1654.5,1020.6 1656,1020.9 1657.5,1021.2 1659,1021.5 1660.5,1021.8 1662,1022 1663.5,1022.3 1665,1022.5 1666.5,1022.8 1668,1023 1669.5,1023.2 1671,1023.3 1672.5,1023.5 1674,1023.6 1675.5,1023.8 1677,1023.9 1678.5,1024 1680,1024.1 1681.5,1024.3 1683,1024.4 1684.5,1024.5 1686,1024.6 1687.5,1024.8 1689,1024.9 1690.5,1025 1692,1025.1 1693.5,1025.3 1695,1025.4 1696.5,1025.5 1698,1025.6 1699.5,1025.7 1701,1025.9 1702.5,1026 1704,1026.1 1705.5,1026.2 1707,1026.3 1708.5,1026.4 1710,1026.5 1711.5,1026.6 1713,1026.7 1714.5,1026.8 1716,1026.9 1717.5,1027 1719,1027.1 1720.5,1027.2 1722,1027.3 1723.5,1027.4 1725,1027.5 1726.5,1027.6 1728,1027.7 1729.5,1027.8 1731,1027.9 1732.5,1027.9 1734,1028 1735.5,1028.1 1737,1028.2 1738.5,1028.2 1740,1028.3 1741.5,1028.4 1743,1028.5 1744.5,1028.5 1746,1028.6 1747.5,1028.6 1749,1028.7 1750.5,1028.8 1752,1028.8 1753.5,1028.9 1755,1028.9 1756.5,1029 1758,1029 1759.5,1029 1761,1029.1 1762.5,1029.1 1764,1029.1 1765.5,1029.2 1767,1029.2 1768.5,1029.2 1770,1029.2 1771.5,1029.3 1773,1029.3 1774.5,1029.3 1776,1029.3 1777.5,1029.3 1779,1029.3 1779.3,1029.3" fill="none" stroke="#FF6600" stroke-width="9.5" stroke-linejoin="round" stroke-linecap="round"/>
<polyline points="750,975 751.5,975.1 753,975.1 754.5,975.2 756,975.2 757.5,975.3 759,975.4 760.5,975.4 762,975.5 763.5,975.5 765,975.6 766.5,975.7 768,975.7 769.5,975.8 771,975.8 772.5,975.9 774,976 775.5,976 777,976.1 778.5,976.2 780,976.2 781.5,976.3 783,976.3 784.5,976.4 786,976.5 787.5,976.5 789,976.6 790.5,976.7 792,976.7 793.5,976.8 795,976.9 796.5,976.9 798,977 799.5,977.1 801,977.1 802.5,977.2 804,977.3 805.5,977.3 807,977.4 808.5,977.5 810,977.6 811.5,977.6 813,977.7 814.5,977.8 816,977.8 817.5,977.9 819,978 820.5,978 822,978.1 823.5,978.2 825,978.3 826.5,978.3 828,978.4 829.5,978.5 831,978.6 832.5,978.6 834,978.7 835.5,978.8 837,978.9 838.5,978.9 840,979 841.5,979.1 843,979.2 844.5,979.2 846,979.3 847.5,979.4 849,979.5 850.5,979.5 852,979.6 853.5,979.7 855,979.8 856.5,979.9 858,979.9 859.5,980 861,980.1 862.5,980.2 864,980.2 865.5,980.3 867,980.4 868.5,980.5 870,980.6 871.5,980.6 873,980.7 874.5,980.8 876,980.9 877.5,981 879,981.1 880.5,981.1 882,981.2 883.5,981.3 885,981.4 886.5,981.5 888,981.6 889.5,981.6 891,981.7 892.5,981.8 894,981.9 895.5,982 897,982.1 898.5,982.2 900,982.2 901.5,982.3 903,982.4 904.5,982.5 906,982.6 907.5,982.7 909,982.8 910.5,982.9 912,983 913.5,983.1 915,983.1 916.5,983.2 918,983.3 919.5,983.4 921,983.5 922.5,983.6 924,983.7 925.5,983.8 927,983.9 928.5,984 930,984.1 931.5,984.2 933,984.3 934.5,984.4 936,984.5 937.5,984.6 939,984.7 940.5,984.8 942,984.9 943.5,985 945,985.1 946.5,985.2 948,985.3 949.5,985.4 951,985.5 952.5,985.6 954,985.7 955.5,985.8 957,985.9 958.5,986 960,986.1 961.5,986.2 963,986.3 964.5,986.4 966,986.5 967.5,986.6 969,986.7 970.5,986.8 972,986.9 973.5,987 975,987.1 976.5,987.2 978,987.3 979.5,987.4 981,987.5 982.5,987.6 984,987.7 985.5,987.8 987,987.9 988.5,988 990,988.1 991.5,988.2 993,988.3 994.5,988.5 996,988.6 997.5,988.7 999,988.8 1000.5,988.9 1002,989 1003.5,989.1 1005,989.2 1006.5,989.3 1008,989.4 1009.5,989.5 1011,989.6 1012.5,989.7 1014,989.9 1015.5,990 1017,990.1 1018.5,990.2 1020,990.3 1021.5,990.4 1023,990.5 1024.5,990.6 1026,990.7 1027.5,990.8 1029,990.9 1030.5,991.1 1032,991.2 1033.5,991.3 1035,991.4 1036.5,991.5 1038,991.6 1039.5,991.7 1041,991.8 1042.5,991.9 1044,992.1 1045.5,992.2 1047,992.3 1048.5,992.4 1050,992.5 1051.5,992.6 1053,992.7 1054.5,992.8 1056,993 1057.5,993.1 1059,993.2 1060.5,993.3 1062,993.4 1063.5,993.6 1065,993.7 1066.5,993.8 1068,994 1069.5,994.1 1071,994.2 1072.5,994.3 1074,994.5 1075.5,994.6 1077,994.7 1078.5,994.9 1080,995 1081.5,995.1 1083,995.3 1084.5,995.4 1086,995.5 1087.5,995.7 1089,995.8 1090.5,995.9 1092,996.1 1093.5,996.2 1095,996.3 1096.5,996.4 1098,996.6 1099.5,996.7 1101,996.8 1102.5,996.9 1104,997.1 1105.5,997.2 1107,997.3 1108.5,997.4 1110,997.5 1111.5,997.7 1113,997.8 1114.5,997.9 1116,998 1117.5,998.1 1119,998.2 1120.5,998.3 1122,998.4 1123.5,998.5 1125,998.6 1126.5,998.7 1128,998.8 1129.5,998.9 1131,999 1132.5,999.1 1134,999.1 1135.5,999.2 1137,999.3 1138.5,999.4 1140,999.5 1141.5,999.6 1143,999.7 1144.5,999.8 1146,999.8 1147.5,999.9 1149,1000 1150.5,1000.1 1152,1000.2 1153.5,1000.3 1155,1000.3 1156.5,1000.4 1158,1000.5 1159.5,1000.6 1161,1000.6 1162.5,1000.7 1164,1000.8 1165.5,1000.9 1167,1000.9 1168.5,1001 1170,1001.1 1171.5,1001.2 1173,1001.2 1174.5,1001.3 1176,1001.4 1177.5,1001.4 1179,1001.5 1180.5,1001.6 1182,1001.6 1183.5,1001.7 1185,1001.8 1186.5,1001.8 1188,1001.9 1189.5,1002 1191,1002 1192.5,1002.1 1194,1002.2 1195.5,1002.2 1197,1002.3 1198.5,1002.3 1200,1002.4 1201.5,1002.5 1203,1002.5 1204.5,1002.6 1206,1002.6 1207.5,1002.7 1209,1002.7 1210.5,1002.8 1212,1002.8 1213.5,1002.9 1215,1002.9 1216.5,1003 1218,1003 1219.5,1003 1221,1003.1 1222.5,1003.1 1224,1003.2 1225.5,1003.2 1227,1003.3 1228.5,1003.3 1230,1003.4 1231.5,1003.4 1233,1003.4 1234.5,1003.5 1236,1003.5 1237.5,1003.6 1239,1003.6 1240.5,1003.7 1242,1003.7 1243.5,1003.8 1245,1003.9 1246.5,1003.9 1248,1004 1249.5,1004 1251,1004.1 1252.5,1004.2 1254,1004.2 1255.5,1004.3 1257,1004.4 1258.5,1004.5 1260,1004.5 1261.5,1004.6 1263,1004.7 1264.5,1004.8 1266,1004.8 1267.5,1004.9 1269,1005 1270.5,1005.1 1272,1005.2 1273.5,1005.3 1275,1005.3 1276.5,1005.4 1278,1005.5 1279.5,1005.6 1281,1005.7 1282.5,1005.8 1284,1006 1285.5,1006.1 1287,1006.2 1288.5,1006.3 1290,1006.5 1291.5,1006.6 1293,1006.7 1294.5,1006.8 1296,1007 1297.5,1007.1 1299,1007.2 1300.5,1007.3 1302,1007.4 1303.5,1007.5 1305,1007.6 1306.5,1007.7 1308,1007.8 1309.5,1007.9 1311,1008 1312.5,1008.1 1314,1008.2 1315.5,1008.2 1317,1008.3 1318.5,1008.4 1320,1008.5 1321.5,1008.6 1323,1008.6 1324.5,1008.7 1326,1008.8 1327.5,1008.9 1329,1008.9 1330.5,1009 1332,1009.1 1333.5,1009.2 1335,1009.2 1336.5,1009.3 1338,1009.4 1339.5,1009.5 1341,1009.6 1342.5,1009.6 1344,1009.7 1345.5,1009.8 1347,1009.9 1348.5,1010 1350,1010.1 1351.5,1010.1 1353,1010.2 1354.5,1010.3 1356,1010.4 1357.5,1010.5 1359,1010.6 1360.5,1010.6 1362,1010.7 1363.5,1010.8 1365,1010.9 1366.5,1011 1368,1011.1 1369.5,1011.1 1371,1011.2 1372.5,1011.3 1374,1011.4 1375.5,1011.5 1377,1011.6 1378.5,1011.7 1380,1011.8 1381.5,1011.8 1383,1011.9 1384.5,1012 1386,1012.1 1387.5,1012.2 1389,1012.3 1390.5,1012.4 1392,1012.5 1393.5,1012.6 1395,1012.7 1396.5,1012.8 1398,1012.9 1399.5,1013 1401,1013.1 1402.5,1013.2 1404,1013.3 1405.5,1013.4 1407,1013.5 1408.5,1013.6 1410,1013.7 1411.5,1013.8 1413,1013.9 1414.5,1014 1416,1014.1 1417.5,1014.2 1419,1014.3 1420.5,1014.4 1422,1014.5 1423.5,1014.6 1425,1014.7 1426.5,1014.9 1428,1015 1429.5,1015.1 1431,1015.2 1432.5,1015.3 1434,1015.4 1435.5,1015.5 1437,1015.6 1438.5,1015.8 1440,1015.9 1441.5,1016 1443,1016.1 1444.5,1016.2 1446,1016.3 1447.5,1016.5 1449,1016.6 1450.5,1016.7 1452,1016.8 1453.5,1016.9 1455,1017 1456.5,1017.1 1458,1017.3 1459.5,1017.4 1461,1017.5 1462.5,1017.6 1464,1017.7 1465.5,1017.8 1467,1018 1468.5,1018.1 1470,1018.2 1471.5,1018.3 1473,1018.5 1474.5,1018.6 1476,1018.7 1477.5,1018.8 1479,1019 1480.5,1019.1 1482,1019.2 1483.5,1019.3 1485,1019.5 1486.5,1019.6 1488,1019.7 1489.5,1019.8 1491,1020 1492.5,1020.1 1494,1020.2 1495.5,1020.4 1497,1020.5 1498.5,1020.6 1500,1020.7 1501.5,1020.9 1503,1021 1504.5,1021.1 1506,1021.2 1507.5,1021.3 1509,1021.5 1510.5,1021.6 1512,1021.7 1513.5,1021.8 1515,1022 1516.5,1022.1 1518,1022.2 1519.5,1022.3 1521,1022.4 1522.5,1022.5 1524,1022.6 1525.5,1022.7 1527,1022.9 1528.5,1023 1530,1023.1 1531.5,1023.2 1533,1023.3 1534.5,1023.4 1536,1023.5 1537.5,1023.6 1539,1023.7 1540.5,1023.8 1542,1023.9 1543.5,1024 1545,1024.1 1546.5,1024.2 1548,1024.3 1549.5,1024.4 1551,1024.5 1552.5,1024.6 1554,1024.6 1555.5,1024.7 1557,1024.8 1558.5,1024.9 1560,1025 1561.5,1025.1 1563,1025.2 1564.5,1025.3 1566,1025.3 1567.5,1025.4 1569,1025.5 1570.5,1025.6 1572,1025.7 1573.5,1025.7 1575,1025.8 1576.5,1025.9 1578,1026 1579.5,1026 1581,1026.1 1582.5,1026.2 1584,1026.3 1585.5,1026.3 1587,1026.4 1588.5,1026.5 1590,1026.5 1591.5,1026.6 1593,1026.7 1594.5,1026.7 1596,1026.8 1597.5,1026.9 1599,1027 1600.5,1027 1602,1027.1 1603.5,1027.2 1605,1027.2 1606.5,1027.3 1608,1027.4 1609.5,1027.4 1611,1027.5 1612.5,1027.6 1614,1027.7 1615.5,1027.7 1617,1027.8 1618.5,1027.9 1620,1027.9 1621.5,1028 1623,1028.1 1624.5,1028.2 1626,1028.2 1627.5,1028.3 1629,1028.4 1630.5,1028.5 1632,1028.6 1633.5,1028.6 1635,1028.7 1636.5,1028.8 1638,1028.9 1639.5,1029 1641,1029.1 1642.5,1029.1 1644,1029.2 1645.5,1029.3 1647,1029.4 1648.5,1029.5 1650,1029.6 1651.5,1029.7 1653,1029.8 1654.5,1029.8 1656,1029.9 1657.5,1030 1659,1030.1 1660.5,1030.2 1662,1030.3 1663.5,1030.4 1665,1030.5 1666.5,1030.6 1668,1030.7 1669.5,1030.8 1671,1030.9 1672.5,1031 1674,1031 1675.5,1031.1 1677,1031.2 1678.5,1031.3 1680,1031.4 1681.5,1031.5 1683,1031.6 1684.5,1031.7 1686,1031.8 1687.5,1031.9 1689,1032 1690.5,1032.1 1692,1032.2 1693.5,1032.3 1695,1032.4 1696.5,1032.5 1698,1032.6 1699.5,1032.7 1701,1032.8 1702.5,1032.9 1704,1033 1705.5,1033.1 1707,1033.2 1708.5,1033.3 1710,1033.4 1711.5,1033.5 1713,1033.6 1714.5,1033.8 1716,1033.9 1717.5,1034 1719,1034.1 1720.5,1034.2 1722,1034.3 1723.5,1034.4 1725,1034.5 1726.5,1034.6 1728,1034.7 1729.5,1034.8 1731,1034.9 1732.5,1035 1734,1035.2 1735.5,1035.3 1737,1035.4 1738.5,1035.5 1740,1035.6 1741.5,1035.7 1743,1035.8 1744.5,1035.9 1746,1036.1 1747.5,1036.2 1749,1036.3 1750.5,1036.4 1752,1036.5 1753.5,1036.6 1755,1036.7 1756.5,1036.9 1758,1037 1759.5,1037.1 1761,1037.2 1762.5,1037.3 1764,1037.5 1765.5,1037.6 1767,1037.7 1768.5,1037.8 1770,1037.9 1771.5,1038.1 1773,1038.2 1774.5,1038.3 1776,1038.4 1777,1038.5" fill="none" stroke="#00FF00" stroke-width="7.5" stroke-linejoin="round" stroke-linecap="round"/>
<polyline points="750,974.5 751.5,974.6 753,974.7 754.5,974.8 756,974.9 757.5,975 759,975.1 760.5,975.2 762,975.3 763.5,975.5 765,975.6 766.5,975.7 768,975.8 769.5,975.9 771,976 772.5,976.1 774,976.2 775.5,976.3 777,976.4 778.5,976.5 780,976.6 781.5,976.7 783,976.8 784.5,976.9 786,977 787.5,977.1 789,977.2 790.5,977.3 792,977.4 793.5,977.5 795,977.6 796.5,977.7 798,977.8 799.5,977.9 801,978 802.5,978.1 804,978.2 805.5,978.3 807,978.4 808.5,978.5 810,978.5 811.5,978.6 813,978.7 814.5,978.8 816,978.9 817.5,979 819,979.1 820.5,979.2 822,979.3 823.5,979.4 825,979.5 826.5,979.6 828,979.7 829.5,979.8 831,979.8 832.5,979.9 834,980 835.5,980.1 837,980.2 838.5,980.3 840,980.4 841.5,980.5 843,980.6 844.5,980.6 846,980.7 847.5,980.8 849,980.9 850.5,981 852,981.1 853.5,981.2 855,981.3 856.5,981.3 858,981.4 859.5,981.5 861,981.6 862.5,981.7 864,981.8 865.5,981.8 867,981.9 868.5,982 870,982.1 871.5,982.2 873,982.3 874.5,982.3 876,982.4 877.5,982.5 879,982.6 880.5,982.7 882,982.8 883.5,982.8 885,982.9 886.5,983 888,983.1 889.5,983.2 891,983.2 892.5,983.3 894,983.4 895.5,983.5 897,983.5 898.5,983.6 900,983.7 901.5,983.8 903,983.9 904.5,983.9 906,984 907.5,984.1 909,984.2 910.5,984.2 912,984.3 913.5,984.4 915,984.5 916.5,984.5 918,984.6 919.5,984.7 921,984.7 922.5,984.8 924,984.9 925.5,985 927,985 928.5,985.1 930,985.2 931.5,985.3 933,985.3 934.5,985.4 936,985.5 937.5,985.5 939,985.6 940.5,985.7 942,985.7 943.5,985.8 945,985.9 946.5,985.9 948,986 949.5,986.1 951,986.1 952.5,986.2 954,986.3 955.5,986.4 957,986.4 958.5,986.5 960,986.5 961.5,986.6 963,986.7 964.5,986.7 966,986.8 967.5,986.9 969,986.9 970.5,987 972,987.1 973.5,987.1 975,987.2 976.5,987.3 978,987.3 979.5,987.4 981,987.4 982.5,987.5 984,987.6 985.5,987.6 987,987.7 988.5,987.7 990,987.8 991.5,987.9 993,987.9 994.5,988 996,988 997.5,988.1 999,988.2 1000.5,988.2 1002,988.3 1003.5,988.3 1005,988.4 1006.5,988.5 1008,988.5 1009.5,988.6 1011,988.6 1012.5,988.7 1014,988.7 1015.5,988.8 1017,988.8 1018.5,988.9 1020,989 1021.5,989 1023,989.1 1024.5,989.1 1026,989.2 1027.5,989.2 1029,989.3 1030.5,989.3 1032,989.4 1033.5,989.4 1035,989.5 1036.5,989.5 1038,989.6 1039.5,989.6 1041,989.7 1042.5,989.7 1044,989.8 1045.5,989.9 1047,989.9 1048.5,990 1050,990 1051.5,990.1 1053,990.1 1054.5,990.2 1056,990.2 1057.5,990.3 1059,990.3 1060.5,990.4 1062,990.4 1063.5,990.5 1065,990.5 1066.5,990.6 1068,990.6 1069.5,990.7 1071,990.7 1072.5,990.8 1074,990.9 1075.5,990.9 1077,991 1078.5,991 1080,991.1 1081.5,991.1 1083,991.2 1084.5,991.2 1086,991.3 1087.5,991.3 1089,991.4 1090.5,991.4 1092,991.4 1093.5,991.5 1095,991.5 1096.5,991.6 1098,991.6 1099.5,991.7 1101,991.7 1102.5,991.7 1104,991.8 1105.5,991.8 1107,991.8 1108.5,991.8 1110,991.9 1111.5,991.9 1113,991.9 1114.5,991.9 1116,992 1117.5,992 1119,992 1120.5,992 1122,992 1123.5,992 1125,992 1126.5,992 1128,992 1129.5,992 1131,992 1132.5,992 1134,992 1135.5,991.9 1137,991.9 1138.5,991.9 1140,991.9 1141.5,991.8 1143,991.8 1144.5,991.8 1146,991.7 1147.5,991.7 1149,991.7 1150.5,991.6 1152,991.6 1153.5,991.5 1155,991.5 1156.5,991.4 1158,991.4 1159.5,991.3 1161,991.2 1162.5,991.2 1164,991.1 1165.5,991.1 1167,991 1168.5,990.9 1170,990.8 1171.5,990.8 1173,990.7 1174.5,990.6 1176,990.5 1177.5,990.5 1179,990.4 1180.5,990.3 1182,990.2 1183.5,990.1 1185,990 1186.5,989.9 1188,989.8 1189.5,989.7 1191,989.6 1192.5,989.5 1194,989.4 1195.5,989.3 1197,989.2 1198.5,989.1 1200,989 1201.5,988.9 1203,988.7 1204.5,988.6 1206,988.4 1207.5,988.2 1209,988 1210.5,987.8 1212,987.5 1213.5,987.3 1215,987 1216.5,986.7 1218,986.4 1219.5,986 1221,985.7 1222.5,985.3 1224,984.9 1225.5,984.5 1227,984.1 1228.5,983.7 1230,983.2 1231.5,982.8 1233,982.3 1234.5,981.8 1236,981.3 1237.5,980.7 1239,980.2 1240.5,979.6 1242,979 1243.5,978.4 1245,977.8 1246.5,977.2 1248,976.5 1249.5,975.7 1251,974.8 1252.5,973.7 1254,972.5 1255.5,971.2 1257,969.9 1258.5,968.5 1260,967 1261.5,965.5 1263,964 1264.5,962.3 1266,960.5 1267.5,958.5 1269,956.4 1270.5,954.1 1272,951.6 1273.5,948.8 1275,945.7 1276.5,942 1278,937.7 1279.5,932.9 1281,927.9 1282.5,922.8 1284,917.9 1285.5,912.5 1287,905.7 1288.5,895.8 1290,877.4 1291.5,865.6 1293,857.2 1294.5,850.2 1296,843.7 1297.5,837 1299,829.5 1300.5,822.1 1302,814.7 1303.5,807.3 1305,799.8 1306.5,791.9 1308,783.5 1309.5,775.4 1311,768.1 1312.5,762.3 1314,757.4 1315.5,753 1317,749.9 1318.5,748.5 1320,747.7 1321.5,747.7 1323,750.2 1324.5,754.7 1326,760.2 1327.5,765.6 1329,772.3 1330.5,780 1332,788.2 1333.5,796.2 1335,803.8 1336.5,811.4 1338,818.9 1339.5,826.5 1341,834 1342.5,841.5 1344,848.9 1345.5,856.3 1347,863.7 1348.5,871.2 1350,878.9 1351.5,886.7 1353,894.5 1354.5,902 1356,908.9 1357.5,915.4 1359,921.8 1360.5,927.9 1362,933.7 1363.5,939.2 1365,944.1 1366.5,948.5 1368,952.6 1369.5,956.4 1371,960 1372.5,963.2 1374,966.2 1375.5,968.7 1377,971 1378.5,973.2 1380,975.2 1381.5,977.1 1383,978.9 1384.5,980.5 1386,982.1 1387.5,983.4 1389,984.7 1390.5,985.8 1392,986.8 1393.5,987.7 1395,988.5 1396.5,989.3 1398,990.1 1399.5,990.8 1401,991.5 1402.5,992.2 1404,992.8 1405.5,993.5 1407,994.1 1408.5,994.6 1410,995.2 1411.5,995.6 1413,996.1 1414.5,996.5 1416,996.9 1417.5,997.3 1419,997.7 1420.5,998 1422,998.4 1423.5,998.7 1425,999.1 1426.5,999.4 1428,999.7 1429.5,1000 1431,1000.3 1432.5,1000.6 1434,1000.8 1435.5,1001.1 1437,1001.3 1438.5,1001.6 1440,1001.8 1441.5,1002 1443,1002.2 1444.5,1002.4 1446,1002.6 1447.5,1002.7 1449,1002.9 1450.5,1003 1452,1003.2 1453.5,1003.3 1455,1003.4 1456.5,1003.6 1458,1003.7 1459.5,1003.9 1461,1004 1462.5,1004.2 1464,1004.4 1465.5,1004.6 1467,1004.9 1468.5,1005.2 1470,1005.5 1471.5,1005.8 1473,1006.1 1474.5,1006.4 1476,1006.7 1477.5,1007 1479,1007.3 1480.5,1007.6 1482,1007.8 1483.5,1008 1485,1008.2 1486.5,1008.3 1488,1008.5 1489.5,1008.7 1491,1008.8 1492.5,1009 1494,1009.2 1495.5,1009.3 1497,1009.5 1498.5,1009.6 1500,1009.8 1501.5,1009.9 1503,1010 1504.5,1010.2 1506,1010.3 1507.5,1010.4 1509,1010.5 1510.5,1010.7 1512,1010.8 1513.5,1010.9 1515,1011 1516.5,1011.1 1518,1011.2 1519.5,1011.3 1521,1011.5 1522.5,1011.6 1524,1011.7 1525.5,1011.8 1527,1011.9 1528.5,1012 1530,1012.1 1531.5,1012.2 1533,1012.3 1534.5,1012.3 1536,1012.4 1537.5,1012.5 1539,1012.6 1540.5,1012.7 1542,1012.7 1543.5,1012.8 1545,1012.9 1546.5,1013 1548,1013 1549.5,1013.1 1551,1013.2 1552.5,1013.3 1554,1013.4 1555.5,1013.4 1557,1013.5 1558.5,1013.6 1560,1013.7 1561.5,1013.8 1563,1013.9 1564.5,1014 1566,1014.1 1567.5,1014.2 1569,1014.3 1570.5,1014.4 1572,1014.5 1573.5,1014.6 1575,1014.6 1576.5,1014.7 1578,1014.8 1579.5,1014.9 1581,1015 1582.5,1015.1 1584,1015.2 1585.5,1015.3 1587,1015.4 1588.5,1015.5 1590,1015.6 1591.5,1015.7 1593,1015.8 1594.5,1015.9 1596,1016 1597.5,1016.1 1599,1016.2 1600.5,1016.3 1602,1016.4 1603.5,1016.5 1605,1016.6 1606.5,1016.7 1608,1016.8 1609.5,1016.9 1611,1017 1612.5,1017.1 1614,1017.2 1615.5,1017.4 1617,1017.5 1618.5,1017.6 1620,1017.7 1621.5,1017.8 1623,1017.9 1624.5,1018 1626,1018.1 1627.5,1018.2 1629,1018.3 1630.5,1018.4 1632,1018.5 1633.5,1018.6 1635,1018.7 1636.5,1018.9 1638,1019 1639.5,1019.1 1641,1019.2 1642.5,1019.3 1644,1019.4 1645.5,1019.5 1647,1019.6 1648.5,1019.7 1650,1019.9 1651.5,1020 1653,1020.1 1654.5,1020.2 1656,1020.3 1657.5,1020.4 1659,1020.5 1660.5,1020.7 1662,1020.8 1663.5,1020.9 1665,1021 1666.5,1021.1 1668,1021.2 1669.5,1021.4 1671,1021.5 1672.5,1021.6 1674,1021.7 1675.5,1021.8 1677,1021.9 1678.5,1022.1 1680,1022.2 1681.5,1022.3 1683,1022.4 1684.5,1022.6 1686,1022.7 1687.5,1022.8 1689,1022.9 1690.5,1023 1692,1023.2 1693.5,1023.3 1695,1023.4 1696.5,1023.5 1698,1023.7 1699.5,1023.8 1701,1023.9 1702.5,1024.1 1704,1024.2 1705.5,1024.3 1707,1024.4 1708.5,1024.6 1710,1024.7 1711.5,1024.8 1713,1025 1714.5,1025.1 1716,1025.2 1717.5,1025.4 1719,1025.5 1720.5,1025.6 1722,1025.7 1723.5,1025.9 1725,1026 1726.5,1026.2 1728,1026.3 1729.5,1026.4 1731,1026.6 1732.5,1026.7 1734,1026.8 1735.5,1027 1737,1027.1 1738.5,1027.2 1740,1027.4 1741.5,1027.5 1743,1027.7 1744.5,1027.8 1746,1027.9 1747.5,1028.1 1749,1028.2 1750.5,1028.4 1752,1028.5 1753.5,1028.7 1755,1028.8 1756.5,1028.9 1758,1029.1 1759.5,1029.2 1761,1029.4 1762.5,1029.5 1764,1029.7 1765.5,1029.8 1767,1030 1768.5,1030.1 1770,1030.3 1771.5,1030.4 1773,1030.6 1774.5,1030.7 1776,1030.9 1777.5,1031 1779,1031.2 1779.3,1031.2" fill="none" stroke="#9A9A24" stroke-width="9.5" stroke-linejoin="round" stroke-linecap="round"/>
<polyline points="750,971.7 751.5,971.8 753,971.8 754.5,971.9 756,972 757.5,972 759,972.1 760.5,972.2 762,972.2 763.5,972.3 765,972.4 766.5,972.4 768,972.5 769.5,972.6 771,972.6 772.5,972.7 774,972.8 775.5,972.8 777,972.9 778.5,973 780,973 781.5,973.1 783,973.2 784.5,973.2 786,973.3 787.5,973.4 789,973.4 790.5,973.5 792,973.6 793.5,973.6 795,973.7 796.5,973.8 798,973.8 799.5,973.9 801,974 802.5,974 804,974.1 805.5,974.2 807,974.3 808.5,974.3 810,974.4 811.5,974.5 813,974.5 814.5,974.6 816,974.7 817.5,974.7 819,974.8 820.5,974.9 822,974.9 823.5,975 825,975.1 826.5,975.2 828,975.2 829.5,975.3 831,975.4 832.5,975.4 834,975.5 835.5,975.6 837,975.6 838.5,975.7 840,975.8 841.5,975.9 843,975.9 844.5,976 846,976.1 847.5,976.1 849,976.2 850.5,976.3 852,976.4 853.5,976.4 855,976.5 856.5,976.6 858,976.6 859.5,976.7 861,976.8 862.5,976.9 864,976.9 865.5,977 867,977.1 868.5,977.1 870,977.2 871.5,977.3 873,977.4 874.5,977.4 876,977.5 877.5,977.6 879,977.7 880.5,977.7 882,977.8 883.5,977.9 885,978 886.5,978 888,978.1 889.5,978.2 891,978.3 892.5,978.4 894,978.5 895.5,978.5 897,978.6 898.5,978.7 900,978.8 901.5,978.9 903,979 904.5,979.1 906,979.2 907.5,979.3 909,979.4 910.5,979.5 912,979.6 913.5,979.7 915,979.8 916.5,979.9 918,980 919.5,980.1 921,980.2 922.5,980.3 924,980.4 925.5,980.5 927,980.6 928.5,980.7 930,980.8 931.5,980.9 933,981 934.5,981.1 936,981.2 937.5,981.3 939,981.4 940.5,981.5 942,981.6 943.5,981.7 945,981.8 946.5,981.9 948,982 949.5,982.1 951,982.2 952.5,982.3 954,982.4 955.5,982.5 957,982.6 958.5,982.7 960,982.8 961.5,982.9 963,983 964.5,983.1 966,983.2 967.5,983.3 969,983.4 970.5,983.5 972,983.6 973.5,983.7 975,983.8 976.5,983.9 978,984 979.5,984.1 981,984.2 982.5,984.2 984,984.3 985.5,984.4 987,984.5 988.5,984.6 990,984.7 991.5,984.8 993,984.8 994.5,984.9 996,985 997.5,985.1 999,985.1 1000.5,985.2 1002,985.3 1003.5,985.3 1005,985.4 1006.5,985.5 1008,985.5 1009.5,985.6 1011,985.7 1012.5,985.7 1014,985.8 1015.5,985.8 1017,985.9 1018.5,985.9 1020,986 1021.5,986 1023,986.1 1024.5,986.1 1026,986.2 1027.5,986.2 1029,986.2 1030.5,986.3 1032,986.3 1033.5,986.3 1035,986.4 1036.5,986.4 1038,986.4 1039.5,986.4 1041,986.5 1042.5,986.5 1044,986.5 1045.5,986.5 1047,986.5 1048.5,986.5 1050,986.5 1051.5,986.5 1053,986.5 1054.5,986.5 1056,986.5 1057.5,986.5 1059,986.5 1060.5,986.4 1062,986.4 1063.5,986.4 1065,986.4 1066.5,986.4 1068,986.4 1069.5,986.3 1071,986.3 1072.5,986.3 1074,986.2 1075.5,986.2 1077,986.2 1078.5,986.1 1080,986.1 1081.5,986.1 1083,986 1084.5,986 1086,986 1087.5,985.9 1089,985.9 1090.5,985.8 1092,985.8 1093.5,985.7 1095,985.7 1096.5,985.6 1098,985.6 1099.5,985.5 1101,985.5 1102.5,985.4 1104,985.3 1105.5,985.2 1107,985.1 1108.5,984.9 1110,984.8 1111.5,984.6 1113,984.5 1114.5,984.3 1116,984.1 1117.5,983.9 1119,983.7 1120.5,983.5 1122,983.3 1123.5,983.1 1125,982.9 1126.5,982.6 1128,982.4 1129.5,982.1 1131,981.8 1132.5,981.5 1134,981.1 1135.5,980.7 1137,980.4 1138.5,980 1140,979.6 1141.5,979.2 1143,978.8 1144.5,978.4 1146,978 1147.5,977.6 1149,977.2 1150.5,976.9 1152,976.5 1153.5,976.1 1155,975.8 1156.5,975.4 1158,975 1159.5,974.6 1161,974.2 1162.5,973.8 1164,973.4 1165.5,973 1167,972.6 1168.5,972.2 1170,971.9 1171.5,971.5 1173,971.1 1174.5,970.7 1176,970.4 1177.5,970 1179,969.7 1180.5,969.3 1182,969 1183.5,968.7 1185,968.4 1186.5,968.1 1188,967.9 1189.5,967.6 1191,967.4 1192.5,967.1 1194,966.9 1195.5,966.6 1197,966.3 1198.5,966 1200,965.6 1201.5,965.2 1203,964.7 1204.5,964.1 1206,963.4 1207.5,962.8 1209,962.1 1210.5,961.4 1212,960.7 1213.5,960.2 1215,959.7 1216.5,959.4 1218,959.1 1219.5,958.8 1221,958.5 1222.5,958.3 1224,958.1 1225.5,957.9 1227,957.7 1228.5,957.6 1230,957.5 1231.5,957.5 1233,957.5 1234.5,957.6 1236,957.7 1237.5,957.8 1239,957.9 1240.5,958 1242,958.2 1243.5,958.3 1245,958.5 1246.5,958.7 1248,958.9 1249.5,959.3 1251,959.7 1252.5,960.2 1254,960.7 1255.5,961.2 1257,961.7 1258.5,962.2 1260,962.7 1261.5,963.2 1263,963.8 1264.5,964.4 1266,964.9 1267.5,965.5 1269,966.1 1270.5,966.7 1272,967.3 1273.5,967.8 1275,968.4 1276.5,969 1278,969.5 1279.5,970.1 1281,970.7 1282.5,971.2 1284,971.8 1285.5,972.4 1287,973 1288.5,973.5 1290,974.1 1291.5,974.7 1293,975.2 1294.5,975.8 1296,976.4 1297.5,976.9 1299,977.5 1300.5,978.1 1302,978.7 1303.5,979.3 1305,979.8 1306.5,980.4 1308,981 1309.5,981.6 1311,982.2 1312.5,982.7 1314,983.3 1315.5,983.8 1317,984.4 1318.5,984.9 1320,985.4 1321.5,985.9 1323,986.4 1324.5,986.9 1326,987.5 1327.5,988 1329,988.5 1330.5,989 1332,989.5 1333.5,990 1335,990.5 1336.5,990.9 1338,991.4 1339.5,991.8 1341,992.2 1342.5,992.6 1344,993 1345.5,993.3 1347,993.6 1348.5,993.9 1350,994.1 1351.5,994.4 1353,994.6 1354.5,994.8 1356,995 1357.5,995.2 1359,995.3 1360.5,995.5 1362,995.6 1363.5,995.8 1365,995.9 1366.5,996.1 1368,996.2 1369.5,996.4 1371,996.5 1372.5,996.6 1374,996.8 1375.5,997 1377,997.1 1378.5,997.3 1380,997.5 1381.5,997.6 1383,997.9 1384.5,998.1 1386,998.3 1387.5,998.5 1389,998.8 1390.5,999.1 1392,999.5 1393.5,1000 1395,1000.5 1396.5,1001 1398,1001.5 1399.5,1001.9 1401,1002.2 1402.5,1002.5 1404,1002.9 1405.5,1003.2 1407,1003.4 1408.5,1003.7 1410,1004 1411.5,1004.3 1413,1004.6 1414.5,1004.8 1416,1005.1 1417.5,1005.3 1419,1005.6 1420.5,1005.8 1422,1006 1423.5,1006.3 1425,1006.5 1426.5,1006.7 1428,1006.9 1429.5,1007.2 1431,1007.4 1432.5,1007.6 1434,1007.8 1435.5,1008 1437,1008.2 1438.5,1008.4 1440,1008.6 1441.5,1008.8 1443,1009 1444.5,1009.2 1446,1009.4 1447.5,1009.6 1449,1009.7 1450.5,1009.9 1452,1010.1 1453.5,1010.3 1455,1010.5 1456.5,1010.7 1458,1010.9 1459.5,1011.1 1461,1011.3 1462.5,1011.5 1464,1011.7 1465.5,1012 1467,1012.2 1468.5,1012.4 1470,1012.6 1471.5,1012.8 1473,1013 1474.5,1013.2 1476,1013.4 1477.5,1013.6 1479,1013.8 1480.5,1014 1482,1014.2 1483.5,1014.4 1485,1014.6 1486.5,1014.8 1488,1015 1489.5,1015.2 1491,1015.4 1492.5,1015.6 1494,1015.7 1495.5,1015.9 1497,1016.1 1498.5,1016.3 1500,1016.5 1501.5,1016.7 1503,1016.8 1504.5,1017 1506,1017.2 1507.5,1017.4 1509,1017.5 1510.5,1017.7 1512,1017.9 1513.5,1018 1515,1018.2 1516.5,1018.3 1518,1018.5 1519.5,1018.6 1521,1018.8 1522.5,1018.9 1524,1019.1 1525.5,1019.2 1527,1019.3 1528.5,1019.4 1530,1019.6 1531.5,1019.7 1533,1019.8 1534.5,1019.9 1536,1020 1537.5,1020.1 1539,1020.2 1540.5,1020.3 1542,1020.4 1543.5,1020.5 1545,1020.6 1546.5,1020.7 1548,1020.8 1549.5,1020.9 1551,1021 1552.5,1021.1 1554,1021.2 1555.5,1021.2 1557,1021.3 1558.5,1021.4 1560,1021.5 1561.5,1021.6 1563,1021.7 1564.5,1021.8 1566,1021.8 1567.5,1021.9 1569,1022 1570.5,1022.1 1572,1022.2 1573.5,1022.2 1575,1022.3 1576.5,1022.4 1578,1022.5 1579.5,1022.5 1581,1022.6 1582.5,1022.7 1584,1022.8 1585.5,1022.8 1587,1022.9 1588.5,1023 1590,1023 1591.5,1023.1 1593,1023.2 1594.5,1023.3 1596,1023.3 1597.5,1023.4 1599,1023.5 1600.5,1023.5 1602,1023.6 1603.5,1023.7 1605,1023.7 1606.5,1023.8 1608,1023.9 1609.5,1023.9 1611,1024 1612.5,1024.1 1614,1024.2 1615.5,1024.2 1617,1024.3 1618.5,1024.4 1620,1024.5 1621.5,1024.5 1623,1024.6 1624.5,1024.7 1626,1024.7 1627.5,1024.8 1629,1024.9 1630.5,1025 1632,1025.1 1633.5,1025.1 1635,1025.2 1636.5,1025.3 1638,1025.4 1639.5,1025.5 1641,1025.6 1642.5,1025.6 1644,1025.7 1645.5,1025.8 1647,1025.9 1648.5,1026 1650,1026.1 1651.5,1026.2 1653,1026.3 1654.5,1026.3 1656,1026.4 1657.5,1026.5 1659,1026.6 1660.5,1026.7 1662,1026.8 1663.5,1026.9 1665,1027 1666.5,1027.1 1668,1027.2 1669.5,1027.2 1671,1027.3 1672.5,1027.4 1674,1027.5 1675.5,1027.6 1677,1027.7 1678.5,1027.8 1680,1027.9 1681.5,1028 1683,1028.1 1684.5,1028.2 1686,1028.3 1687.5,1028.4 1689,1028.5 1690.5,1028.6 1692,1028.7 1693.5,1028.8 1695,1028.9 1696.5,1029 1698,1029.1 1699.5,1029.2 1701,1029.3 1702.5,1029.4 1704,1029.5 1705.5,1029.6 1707,1029.7 1708.5,1029.8 1710,1029.9 1711.5,1030 1713,1030.1 1714.5,1030.2 1716,1030.3 1717.5,1030.4 1719,1030.5 1720.5,1030.6 1722,1030.7 1723.5,1030.8 1725,1030.9 1726.5,1031 1728,1031.1 1729.5,1031.2 1731,1031.3 1732.5,1031.5 1734,1031.6 1735.5,1031.7 1737,1031.8 1738.5,1031.9 1740,1032 1741.5,1032.1 1743,1032.2 1744.5,1032.3 1746,1032.4 1747.5,1032.5 1749,1032.7 1750.5,1032.8 1752,1032.9 1753.5,1033 1755,1033.1 1756.5,1033.2 1758,1033.3 1759.5,1033.5 1761,1033.6 1762.5,1033.7 1764,1033.8 1765.5,1033.9 1767,1034 1768.5,1034.1 1770,1034.3 1771.5,1034.4 1773,1034.5 1774.5,1034.6 1776,1034.7 1777.5,1034.9 1779,1035 1779.3,1035" fill="none" stroke="#3F99FF" stroke-width="9.5" stroke-linejoin="round" stroke-linecap="round"/>
<line x1="1479.2" y1="216.6" x2="1434.4" y2="296.5" stroke="#FF00FF" stroke-width="9.5" stroke-linecap="round"/>
<line x1="1328" y1="477" x2="1366" y2="612" stroke="#FF6600" stroke-width="9.5" stroke-linecap="round"/>
<line x1="1271.6" y1="630.8" x2="1317.8" y2="750.4" stroke="#9A9A24" stroke-width="9.5" stroke-linecap="round"/>
<line x1="1173.7" y1="878" x2="1223" y2="956.4" stroke="#3F99FF" stroke-width="9.5" stroke-linecap="round"/>
<text transform="translate(1495.5,217.3) scale(0.9475,1)" x="0" y="0" font-family="Liberation Serif, serif" font-size="65.5" font-weight="bold" fill="#FF00FF">C=C/C-C</text>
<text transform="translate(1094.4,455) scale(0.9589,1)" x="0" y="0" font-family="Liberation Serif, serif" font-size="64.5" font-weight="bold" fill="#FF6600">C-O/C-N</text>
<text transform="translate(1151.4,625.3) scale(0.9737,1)" x="0" y="0" font-family="Liberation Serif, serif" font-size="64.5" font-weight="bold" fill="#9A9A24">C=O</text>
<text transform="translate(1027.4,864.8) scale(0.9780,1)" x="0" y="0" font-family="Liberation Serif, serif" font-size="64.5" font-weight="bold" fill="#3F99FF">O-C=O</text>
<ellipse cx="800" cy="126" rx="101.5" ry="98.5" fill="#fff" stroke="#000" stroke-width="11"/>
<text transform="translate(795.5,182.5) scale(0.91,0.97)" x="-46" y="0" font-family="Liberation Sans, sans-serif" font-size="165" fill="#000" stroke="#000" stroke-width="3" stroke-linejoin="round">a</text>
<rect x="122.8" y="1322" width="1072.2" height="1071" fill="none" stroke="#000" stroke-width="10.5" stroke-linejoin="round"/>
<line x1="291.7" y1="2393" x2="291.7" y2="2428" stroke="#000" stroke-width="10.5" stroke-linecap="round"/>
<g transform="translate(291.7,0) scale(1.045,1) translate(-291.7,0)">
<text x="255.7" y="2491" font-family="Liberation Serif, serif" font-size="48" font-weight="bold" fill="#000">404</text>
</g>
<line x1="517.4" y1="2393" x2="517.4" y2="2428" stroke="#000" stroke-width="10.5" stroke-linecap="round"/>
<g transform="translate(517.4,0) scale(1.045,1) translate(-517.4,0)">
<text x="481.4" y="2491" font-family="Liberation Serif, serif" font-size="48" font-weight="bold" fill="#000">400</text>
</g>
<line x1="743.1" y1="2393" x2="743.1" y2="2428" stroke="#000" stroke-width="10.5" stroke-linecap="round"/>
<g transform="translate(743.1,0) scale(1.045,1) translate(-743.1,0)">
<text x="707.1" y="2491" font-family="Liberation Serif, serif" font-size="48" font-weight="bold" fill="#000">396</text>
</g>
<line x1="968.9" y1="2393" x2="968.9" y2="2428" stroke="#000" stroke-width="10.5" stroke-linecap="round"/>
<g transform="translate(968.9,0) scale(1.045,1) translate(-968.9,0)">
<text x="932.9" y="2491" font-family="Liberation Serif, serif" font-size="48" font-weight="bold" fill="#000">392</text>
</g>
<line x1="1194.6" y1="2393" x2="1194.6" y2="2428" stroke="#000" stroke-width="10.5" stroke-linecap="round"/>
<g transform="translate(1194.6,0) scale(1.045,1) translate(-1194.6,0)">
<text x="1158.6" y="2491" font-family="Liberation Serif, serif" font-size="48" font-weight="bold" fill="#000">388</text>
</g>
<line x1="178.8" y1="2393" x2="178.8" y2="2410" stroke="#000" stroke-width="10.5" stroke-linecap="round"/>
<line x1="404.6" y1="2393" x2="404.6" y2="2410" stroke="#000" stroke-width="10.5" stroke-linecap="round"/>
<line x1="630.3" y1="2393" x2="630.3" y2="2410" stroke="#000" stroke-width="10.5" stroke-linecap="round"/>
<line x1="856" y1="2393" x2="856" y2="2410" stroke="#000" stroke-width="10.5" stroke-linecap="round"/>
<line x1="1081.7" y1="2393" x2="1081.7" y2="2410" stroke="#000" stroke-width="10.5" stroke-linecap="round"/>
<text x="314.8" y="2566.3" font-family="Liberation Serif, serif" font-size="74.9" font-weight="bold" fill="#000">Binding energy (eV)</text>
<text transform="translate(80.8,2092.8) rotate(-90)" x="0" y="0" font-family="Liberation Serif, serif" font-size="75.7" font-weight="bold" fill="#000">Intensity (a.u.)</text>
<polyline points="157,2246 160.2,2250.8 162.2,2255.5 167.9,2258.2 168.8,2261.5 176.1,2261.4 177.4,2259.4 184.5,2261 188.2,2263.7 192.9,2262.7 198.9,2259.4 199.1,2255.5 199.7,2249.4 200.4,2239 201,2230 201.1,2229.2 202.2,2221.1 203.4,2212.1 204.6,2203.2 205.4,2196.9 206,2194.4 208.3,2185.6 209.7,2180 210.3,2176.9 211.8,2168 213.4,2159.1 214.9,2150.3 216.2,2143.1 216.4,2141.4 217.5,2132.5 218.3,2126.2 218.9,2123.6 221.1,2114.9 223.3,2106.1 224.8,2100 225.3,2097.3 227,2088.5 228,2083.1 228.5,2079.6 229.9,2070.7 231.2,2061.8 232.5,2052.9 233.9,2044 235.2,2035.1 236.5,2026.2 237.7,2018.5 237.7,2017.3 237.8,2008.3 237.9,1999.3 238.1,1990.3 238.2,1981.3 238.3,1972.3 238.4,1963.3 238.5,1954.3 238.6,1945.3 238.7,1936.3 238.8,1932.3 239,1927.3 239.5,1918.3 239.9,1909.4 240.4,1900.4 240.8,1891.4 241.3,1882.4 241.7,1873.4 242,1867.7 242.3,1864.4 243.1,1855.5 243.9,1846.5 244.7,1837.5 245.5,1828.6 246.3,1819.6 247.1,1810.6 247.9,1801.7 248.8,1792.7 249.6,1783.8 250.4,1774.8 251.2,1765.8 251.7,1760 251.8,1756.9 252.2,1747.9 252.5,1738.9 252.9,1729.9 253.2,1720.9 253.6,1711.9 253.9,1703 253.9,1702.9 254.5,1693.9 255,1684.9 255.6,1675.9 256.1,1667 256.7,1658 257.2,1649 257.8,1640 258.3,1631 258.9,1622 259.2,1617 259.6,1613.1 260.5,1604.1 261.4,1595.2 262.3,1586.2 263.2,1577.3 264.1,1568.3 265,1559.3 265.9,1550.4 266.8,1541.4 267.7,1532.5 267.9,1530.8 268.6,1523.5 269.5,1514.6 270.4,1505.6 271.3,1496.7 272.2,1487.7 273.1,1478.7 274,1469.8 274.9,1460.8 275.8,1451.9 276.5,1444.6 276.6,1442.9 277.2,1433.9 277.7,1425 278.3,1416 278.9,1407 279,1405 280.3,1398.1 281,1394 283,1398 283,1398.3 284.3,1407.3 285.5,1416.2 286.7,1425.1 287.9,1434 289.2,1442.9 289.4,1444.6 290.3,1451.9 291.3,1460.8 292.4,1469.7 293.5,1478.7 294.6,1487.6 295.6,1496.5 296.7,1505.5 297.8,1514.4 298.8,1523.3 299.9,1532.3 301,1541.2 302,1550.2 302.3,1552.3 303,1559.1 303.9,1568.1 304.8,1577 305.7,1586 306.6,1594.9 307.5,1603.9 308.4,1612.8 309.3,1621.8 310.2,1630.7 311,1638.5 311.3,1639.7 313.9,1648.3 316.5,1656.9 319.1,1665.5 321.7,1674.1 323.9,1681.6 324,1682.8 325.1,1691.7 326.1,1700.7 327.2,1709.6 328.2,1718.6 329.2,1727.5 330.3,1736.4 331.3,1745.4 331.4,1746.2 331.9,1754.4 332.5,1763.3 333.1,1772.3 333.6,1780 333.8,1781.3 335.1,1790.2 336.3,1799.1 337.6,1808 338.9,1816.9 340,1824.6 340.1,1825.8 340.9,1834.8 341.7,1843.8 342.5,1852.7 343.3,1861.7 344.1,1870.7 344.9,1879.6 345.6,1888.6 346.4,1897.6 347.2,1906.5 347.6,1910.8 348.3,1915.5 349.6,1924.4 350.9,1933.3 352.3,1942.2 353.6,1951.1 354,1953.9 357.6,1958.9 361.6,1964.6 361.7,1966.6 362.4,1975.6 363,1984.6 363.6,1993.5 364.3,2002.5 364.9,2011.5 365.5,2020.5 366.2,2029.5 366.8,2038.4 366.9,2040 369.7,2046.9 373,2055.2 376.4,2063.6 379.8,2071.9 379.9,2072.3 381.6,2080.8 383.3,2089.6 385.1,2098.4 386.9,2107.2 388.5,2115.4 388.7,2116 391.3,2124.7 393.9,2133.3 395,2137 396.6,2141.9 399.4,2150.4 402.2,2159 402.5,2160 404.7,2167.6 407.2,2176.3 409.6,2184.9 410,2186.2 411.9,2193.6 414,2202.4 414.3,2203.4 422.1,2201.8 425.1,2201.2 428.5,2206 433.8,2213.3 435.9,2216.3 441.3,2216.3 444.5,2216.3 445.4,2222 446.7,2230.9 448.1,2239.8 448.8,2244.3 451,2240.4 455.3,2232.6 459.6,2224.9 459.8,2225.1 466.1,2231.4 468.2,2233.5 469.8,2227.7 472.1,2219 474.5,2210.3 474.6,2209.9 481.1,2207.7 481.5,2206 483.9,2197.3 486.2,2188.6 488.5,2179.9 489.7,2175.4 490.2,2171.1 491.2,2162.2 492,2155 492.3,2153.2 493.6,2144.3 495,2135.4 496.4,2126.6 497.8,2117.7 499.1,2108.8 500.5,2100 500.5,2099.9 501.6,2090.9 502.6,2083.1 502.7,2082 503.6,2073 504.5,2064.1 505.4,2055.1 506.3,2046.2 507.2,2037.2 508.1,2028.3 509,2019.3 509.1,2018.5 509.9,2010.4 510.8,2001.4 511.7,1992.5 512.6,1983.5 513.5,1974.5 514.4,1965.6 515.3,1956.6 515.6,1953.9 516.1,1947.7 516.7,1938.7 517.4,1929.7 518.1,1920.7 518.7,1911.8 519.4,1902.8 520.1,1893.8 520.7,1884.8 521.4,1875.9 522,1867.7 522.1,1866.9 523.1,1857.9 524.1,1849 525,1840.1 526,1831.1 527,1822.2 527.5,1817.7 527.7,1813.2 528.2,1804.2 528.7,1795.2 529.2,1786.2 529.2,1785.4 530.5,1777.3 532,1768.5 532.4,1766 535,1760 538,1753 538.1,1751.7 539,1742.7 540,1733.7 540.9,1724.8 541.8,1715.8 542.1,1712.7 543.3,1707 545.2,1698.2 546.9,1690 547.4,1689.6 551,1687 554,1690.4 556.6,1693.3 558.4,1698.1 561.4,1706.6 563.1,1711.1 564.6,1715 567.7,1723.4 570.4,1730.5 570.5,1731.9 571.5,1740.9 572.4,1749.9 573.3,1758.8 574.3,1767.8 574.4,1769.2 575.1,1776.7 576,1785.7 576.9,1794.6 577.8,1803.6 578.7,1812.5 579.2,1817.7 579.7,1821.5 580.9,1830.4 582.1,1839.3 583.3,1848.2 584.5,1857.2 585.7,1866.1 585.7,1866.2 586.7,1875 587.7,1884 588.6,1892.9 589.6,1901.9 590.6,1910.8 591.6,1919.8 592.6,1928.7 593.5,1937.6 593.8,1940 595.4,1946.4 597.6,1955.2 598.8,1960 599.5,1964 600.9,1972.8 602.4,1981.7 603.9,1990.6 605.4,1999.5 606.8,2008.4 608.3,2017.2 609.8,2026.1 611.3,2035 611.7,2037.5 612.5,2043.9 613.6,2052.8 614.8,2061.8 615.9,2070.7 617,2079.6 618.1,2088.6 618.2,2089.2 619.8,2097.4 621.6,2106.2 623.3,2115 625.1,2123.9 626.8,2132.7 627.2,2134.5 629.1,2141.4 631.4,2150.1 632.4,2153.9 635.5,2149.9 637.5,2147.4 638.2,2153.2 639.3,2162.1 640.4,2171 641.4,2179.7 641.5,2179.4 643.2,2170.6 645,2161.8 646.8,2153 647.9,2147.4 648.8,2150.6 651.1,2159.3 653.1,2166.8 653.3,2165.6 655.1,2156.7 656.8,2147.9 658.6,2139.1 660.4,2130.3 660.8,2128 662.3,2121.5 664.4,2112.7 666.4,2104 668.5,2095.2 669.9,2089.2 670.6,2086.4 672.7,2077.7 674.9,2069 676.3,2063.4 676.8,2060.2 678.1,2051.3 679.5,2042.4 680.8,2033.5 682.2,2024.6 683.5,2015.7 684.1,2011.7 688.5,2014 689.2,2014.3 696.8,2011.1 698.3,2010.4 702.2,2011.7 703.4,2008.7 706.7,2000.3 709.3,1993.6 709.7,1995.3 711.9,2004.1 713.8,2011.7 713.9,2012.8 714.3,2021.8 714.8,2030.8 715.3,2039.8 715.8,2048.8 716.2,2057.8 716.4,2060.8 718,2055.1 720.5,2046.4 721.6,2042.7 723.9,2047.3 725.4,2050.5 726.2,2055.9 727.6,2064.8 728.9,2073.7 729.3,2076.3 729.9,2082.6 730.8,2091.6 731.7,2100.5 732.6,2109.5 733.5,2118.5 734.4,2127.4 734.5,2128 736.5,2136.2 738.7,2144.9 740.8,2153.6 740.9,2153.9 744.8,2160.3 745.3,2161.4 748.8,2169.4 748.8,2169.7 749.7,2178.6 750.6,2187.6 751.5,2196.6 752.4,2205.5 752.7,2208.2 754.3,2214.3 756.6,2223 758.9,2231.7 760.4,2237.2 761.3,2240.4 763.6,2249.1 765.9,2257.8 768.2,2266.3 768.3,2266.5 771.1,2275 773.9,2283.5 775.9,2289.6 777.3,2291.8 782,2299.5 786.7,2307.2 791.4,2314.8 791.4,2314.8 796,2322.6 800.5,2330.4 805.1,2338.1 809.7,2345.9 810.8,2347.8 816.6,2351.3 824.3,2355.9 830.2,2359.4 832,2360.6 839.6,2365.5 847.1,2370.4 849.6,2372 855.1,2374.4 861.2,2377 863.6,2375.7 872.6,2378.5 881.6,2373.3 890.6,2380.4 899.6,2375.6 900,2377.5 908.6,2380 917.6,2373.7 926.6,2381.3 935.6,2374.1 944.6,2380 953.6,2375.2 962.6,2380.9 971.6,2376.5 980.6,2380.7 989.6,2376 998.6,2381.7 1000,2378 1007.6,2376.6 1016.6,2381.1 1025.6,2374.4 1034.6,2379.8 1043.6,2374.3 1052.6,2381.6 1061.6,2376.7 1070.6,2381.2 1079.6,2376.8 1088.6,2380.6 1097.6,2375.6 1100,2378 1106.6,2379.7 1115.6,2375.7 1124.6,2381.2 1133.6,2375.5 1142.6,2379.1 1151.6,2374.2 1160.6,2379.7 1169.6,2373.7 1178.6,2378.9 1180,2377" fill="none" stroke="#000" stroke-width="10" stroke-linejoin="round" stroke-linecap="round"/>
<polyline points="1031,2376 1034,2348 1038,2348 1041,2376" fill="none" stroke="#000" stroke-width="10" stroke-linejoin="round" stroke-linecap="round"/>
<polyline points="1049,2376 1052,2342 1056,2342 1059,2376" fill="none" stroke="#000" stroke-width="10" stroke-linejoin="round" stroke-linecap="round"/>
<polyline points="1105,2376 1108,2348 1112,2348 1115,2376" fill="none" stroke="#000" stroke-width="10" stroke-linejoin="round" stroke-linecap="round"/>
<polyline points="1131,2376 1134,2336 1138,2336 1141,2376" fill="none" stroke="#000" stroke-width="10" stroke-linejoin="round" stroke-linecap="round"/>
<polyline points="160.2,2181.9 162.2,2179.5 164.2,2177 166.2,2174.6 168.2,2172.2 170.2,2169.7 172.2,2167.3 174.2,2165 176.2,2162.6 178.2,2160.3 180.2,2157.9 182.2,2155.4 184.2,2152.9 186.2,2150.5 188.2,2148.1 190.2,2145.4 192.2,2142.6 194.2,2139.5 196.2,2135.9 198.2,2131.8 200.2,2127.3 202.2,2122.4 204.2,2117.2 206.2,2111.8 208.2,2106.1 210.2,2099.9 212.2,2093.4 214.2,2086.5 216.2,2079.3 218.2,2071.8 220.2,2064.1 222.2,2055.9 224.2,2047.3 226.2,2037.9 228.2,2027.7 230.2,2016.5 232.2,2003.5 234.2,1988.8 236.2,1973 238.2,1956.4 240.2,1939.6 242.2,1922.8 244.2,1905.6 246.2,1887.8 248.2,1868.9 250.2,1848.7 252.2,1826.8 254.2,1801.8 256.2,1773 258.2,1742.5 260.2,1712 262.2,1683.4 264.2,1657.3 266.2,1632.3 268.2,1608 270.2,1584.1 272.2,1560.4 274.2,1536.6 276.2,1511.8 278.2,1481.5 280.2,1450.1 282.2,1423.7 284.2,1408.5 286.2,1407 288.2,1407.2 290.2,1407.6 292.2,1408.1 294.2,1408.8 296.2,1409.8 298.2,1410.9 300.2,1412.3 302.2,1425.1 304.2,1454.5 306.2,1491.5 308.2,1527.1 310.2,1556.1 312.2,1584.3 314.2,1612.4 316.2,1640.5 318.2,1668.4 320.2,1696.4 322.2,1724.7 324.2,1753.7 326.2,1782.7 328.2,1810.9 330.2,1837.6 332.2,1862.3 334.2,1886.3 336.2,1909.5 338.2,1931.3 340.2,1951.3 342.2,1968.9 344.2,1984.4 346.2,1998.6 348.2,2011.8 350.2,2024.1 352.2,2035.7 354.2,2046.9 356.2,2057.9 358.2,2068.5 360.2,2078.8 362.2,2088.5 364.2,2097.5 366.2,2105.9 368.2,2113.5 370.2,2120.6 372.2,2127.2 374.2,2133.4 376.2,2139.1 378.2,2144.4 380.2,2149.5 382.2,2154.3 384.2,2158.8 386.2,2162.8 388.2,2166.3 390.2,2169.3 392.2,2172 394.2,2174.4 396.2,2176.6 398.2,2178.6 400.2,2180.6 402.2,2182.5 404.2,2184.3 406.2,2185.9 408.2,2187.3 410.2,2188.4 412.2,2189.3 414.2,2190.3 416.2,2191.1 418.2,2191.8 420.2,2192.3 422.2,2192.6 424.2,2192.6 426.2,2192.4 428.2,2192.2 430.2,2191.8 432.2,2191.4 434.2,2190.9 436.2,2190.4 438.2,2189.7 440.2,2188.8 442.2,2187.7 444.2,2186.4 446.2,2185 448.2,2183.2 450.2,2181.3 452.2,2179.1 454.2,2176.7 456.2,2174.3 458.2,2171.5 460.2,2168.4 462.2,2165.1 464.2,2161.6 466.2,2157.8 468.2,2153.8 470.2,2149.4 472.2,2144.6 474.2,2139.5 476.2,2134 478.2,2128 480.2,2121.1 482.2,2113.7 484.2,2105.9 486.2,2098.1 488.2,2090.6 490.2,2083.5 492.2,2076.5 494.2,2069.5 496.2,2062 498.2,2053.9 500.2,2044.8 502.2,2034 504.2,2021.1 506.2,2006.9 508.2,1992.2 510.2,1977.6 512.2,1963.4 514.2,1949 516.2,1934.2 518.2,1918.8 520.2,1902.5 522.2,1883.9 524.2,1862.4 526.2,1841.2 528.2,1823.6 530.2,1811.5 532.2,1801.1 534.2,1791.8 536.2,1783.4 538.2,1775.8 540.2,1768.9 542.2,1762.5 544.2,1756.5 546.2,1750.9 548.2,1744.9 550.2,1738.9 552.2,1733.5 554.2,1729.4 556.2,1727.1 558.2,1727.3 560.2,1730.2 562.2,1735.3 564.2,1741.7 566.2,1748.9 568.2,1756.2 570.2,1763.3 572.2,1771.2 574.2,1780 576.2,1789.5 578.2,1799.7 580.2,1810.5 582.2,1821.8 584.2,1833.7 586.2,1847.5 588.2,1862.6 590.2,1878.4 592.2,1894.2 594.2,1909.3 596.2,1923.6 598.2,1937.7 600.2,1951.5 602.2,1965.2 604.2,1978.6 606.2,1991.6 608.2,2004.7 610.2,2017.7 612.2,2030.3 614.2,2041.8 616.2,2052.2 618.2,2061.9 620.2,2071 622.2,2079.3 624.2,2086.5 626.2,2092.5 628.2,2098.4 630.2,2103.8 632.2,2108.3 634.2,2111.4 636.2,2112.7 638.2,2113.4 640.2,2114 642.2,2114.5 644.2,2114.8 646.2,2115 648.2,2115.1 650.2,2114.3 652.2,2112.6 654.2,2110.2 656.2,2107.4 658.2,2104.5 660.2,2101.5 662.2,2097.7 664.2,2093.4 666.2,2088.8 668.2,2084.1 670.2,2079.5 672.2,2074.8 674.2,2069.9 676.2,2064.9 678.2,2060.2 680.2,2056 682.2,2052.5 684.2,2049 686.2,2045.6 688.2,2042.6 690.2,2040.2 692.2,2038.9 694.2,2038.9 696.2,2039.8 698.2,2041.4 700.2,2043.5 702.2,2045.9 704.2,2048.6 706.2,2052.7 708.2,2058.6 710.2,2065.7 712.2,2073.3 714.2,2080.9 716.2,2088 718.2,2095.1 720.2,2102.5 722.2,2110.1 724.2,2117.8 726.2,2125.5 728.2,2133.3 730.2,2141.2 732.2,2149.3 734.2,2157.5 736.2,2165.7 738.2,2173.7 740.2,2181.4 742.2,2189.1 744.2,2196.6 746.2,2204.1 748.2,2211.3 750.2,2218.1 752.2,2224.7 754.2,2231.1 756.2,2237.3 758.2,2243.2 760.2,2248.7 762.2,2253.8 764.2,2258.6 766.2,2263.2 768.2,2267.5 770.2,2271.6 772.2,2275.4 774.2,2279 776.2,2282.4 778.2,2285.7 780.2,2288.8 782.2,2291.6 784.2,2294.1 786.2,2296.5 788.2,2298.7 790.2,2300.7 792.2,2302.6 794.2,2304.3 796.2,2305.7 798.2,2307.1 800.2,2308.4 802.2,2309.6 804.2,2310.7 806.2,2311.7 808.2,2312.8 810.2,2313.8 812.2,2314.7 814.2,2315.7 816.2,2316.6 818.2,2317.6 820.2,2318.6 822.2,2319.6 824.2,2320.6 826.2,2321.6 828.2,2322.5 830.2,2323.5 832.2,2324.5 834.2,2325.5 836.2,2326.4 838.2,2327.4 840.2,2328.3 842.2,2329.2 844.2,2330 846.2,2330.9 848.2,2331.7 850.2,2332.4 852.2,2333.2 854.2,2333.9 856.2,2334.6 858.2,2335.3 860.2,2336 862.2,2336.7 864.2,2337.4 866.2,2338 868.2,2338.6 870.2,2339.2 872.2,2339.8 874.2,2340.4 876.2,2340.9 878.2,2341.4 880.2,2341.9 882.2,2342.4 884.2,2342.9 886.2,2343.4 888.2,2343.9 890.2,2344.4 892.2,2344.9 894.2,2345.4 896.2,2345.8 898.2,2346.3 900.2,2346.8 902.2,2347.2 904.2,2347.7 906.2,2348.1 908.2,2348.6 910.2,2349 912.2,2349.4 914.2,2349.8 916.2,2350.2 918.2,2350.6 920.2,2351 922.2,2351.4 924.2,2351.8 926.2,2352.1 928.2,2352.5 930.2,2352.8 932.2,2353.1 934.2,2353.5 936.2,2353.8 938.2,2354 940.2,2354.3 942.2,2354.6 944.2,2354.8 946.2,2355.1 948.2,2355.3 950.2,2355.5 952.2,2355.7 954.2,2355.8 956.2,2356 958.2,2356.2 960.2,2356.4 962.2,2356.5 964.2,2356.7 966.2,2356.8 968.2,2357 970.2,2357.2 972.2,2357.3 974.2,2357.4 976.2,2357.6 978.2,2357.7 980.2,2357.9 982.2,2358 984.2,2358.1 986.2,2358.2 988.2,2358.4 990.2,2358.5 992.2,2358.6 994.2,2358.7 996.2,2358.8 998.2,2358.9 1000.2,2359.1 1002.2,2359.2 1004.2,2359.3 1006.2,2359.4 1008.2,2359.5 1010.2,2359.6 1012.2,2359.7 1014.2,2359.8 1016.2,2359.9 1018.2,2359.9 1020.2,2360 1022.2,2360.1 1024.2,2360.2 1026.2,2360.3 1028.2,2360.4 1030.2,2360.5 1032.2,2360.6 1034.2,2360.6 1036.2,2360.7 1038.2,2360.8 1040.2,2360.9 1042.2,2361 1044.2,2361 1046.2,2361.1 1048.2,2361.2 1050.2,2361.3 1052.2,2361.4 1054.2,2361.4 1056.2,2361.5 1058.2,2361.6 1060.2,2361.6 1062.2,2361.7 1064.2,2361.8 1066.2,2361.8 1068.2,2361.9 1070.2,2362 1072.2,2362 1074.2,2362.1 1076.2,2362.2 1078.2,2362.2 1080.2,2362.3 1082.2,2362.3 1084.2,2362.4 1086.2,2362.5 1088.2,2362.5 1090.2,2362.6 1092.2,2362.6 1094.2,2362.7 1096.2,2362.7 1098.2,2362.8 1100.2,2362.8 1102.2,2362.9 1104.2,2363 1106.2,2363 1108.2,2363.1 1110.2,2363.1 1112.2,2363.2 1114.2,2363.2 1116.2,2363.3 1118.2,2363.3 1120.2,2363.4 1122.2,2363.5 1124.2,2363.5 1126.2,2363.6 1128.2,2363.6 1130.2,2363.7 1132.2,2363.7 1134.2,2363.8 1136.2,2363.8 1138.2,2363.9 1140.2,2364 1142.2,2364 1144.2,2364.1 1146.2,2364.1 1148.2,2364.2 1150.2,2364.2 1152.2,2364.3 1154.2,2364.4 1156.2,2364.4 1158.2,2364.5 1160.2,2364.5 1162.2,2364.6 1164.2,2364.6 1166.2,2364.7 1168.2,2364.7 1170.2,2364.8 1172.2,2364.8 1174.2,2364.9 1176.2,2365 1178,2365" fill="none" stroke="#000" stroke-width="2.2" stroke-linejoin="round"/>
<g fill="#FF0000"><circle cx="160.2" cy="2181.9" r="9.3"/><circle cx="170.9" cy="2168.9" r="9.3"/><circle cx="181.7" cy="2156" r="9.3"/><circle cx="194.6" cy="2138.8" r="9.3"/><circle cx="205.4" cy="2114" r="9.3"/><circle cx="217.2" cy="2075.6" r="9.3"/><circle cx="229.5" cy="2020.6" r="9.3"/><circle cx="240.3" cy="1938.8" r="9.3"/><circle cx="252.3" cy="1825.7" r="9.3"/><circle cx="262.5" cy="1679.4" r="9.3"/><circle cx="275.4" cy="1522.2" r="9.3"/><circle cx="285" cy="1407" r="9.3"/><circle cx="300.2" cy="1412.3" r="9.3"/><circle cx="308.8" cy="1536.2" r="9.3"/><circle cx="320.6" cy="1702" r="9.3"/><circle cx="331.4" cy="1852.6" r="9.3"/><circle cx="342.2" cy="1968.9" r="9.3"/><circle cx="355.1" cy="2051.9" r="9.3"/><circle cx="366.9" cy="2108.6" r="9.3"/><circle cx="377.7" cy="2143.1" r="9.3"/><circle cx="388.5" cy="2166.8" r="9.3"/><circle cx="399.3" cy="2179.7" r="9.3"/><circle cx="410" cy="2188.3" r="9.3"/><circle cx="423" cy="2192.6" r="9.3"/><circle cx="435.9" cy="2190.5" r="9.3"/><circle cx="444.5" cy="2186.2" r="9.3"/><circle cx="455.3" cy="2175.4" r="9.3"/><circle cx="466" cy="2158.2" r="9.3"/><circle cx="476.8" cy="2132.3" r="9.3"/><circle cx="487.6" cy="2092.8" r="9.3"/><circle cx="500.5" cy="2043.3" r="9.3"/><circle cx="510.2" cy="1977.6" r="9.3"/><circle cx="520.5" cy="1900" r="9.3"/><circle cx="529" cy="1818.3" r="9.3"/><circle cx="545.8" cy="1752" r="9.3"/><circle cx="557.1" cy="1726.8" r="9.3"/><circle cx="568.7" cy="1757.9" r="9.3"/><circle cx="583.3" cy="1828.2" r="9.3"/><circle cx="594.6" cy="1912.2" r="9.3"/><circle cx="605.9" cy="1989.7" r="9.3"/><circle cx="615.6" cy="2049.2" r="9.3"/><circle cx="625.3" cy="2089.9" r="9.3"/><circle cx="635.6" cy="2112.5" r="9.3"/><circle cx="647.9" cy="2115.1" r="9.3"/><circle cx="658.9" cy="2103.5" r="9.3"/><circle cx="669.9" cy="2080.2" r="9.3"/><circle cx="681.5" cy="2053.7" r="9.3"/><circle cx="693.1" cy="2038.8" r="9.3"/><circle cx="704.1" cy="2048.5" r="9.3"/><circle cx="715.1" cy="2084.1" r="9.3"/><circle cx="728" cy="2132.5" r="9.3"/><circle cx="739.6" cy="2179.1" r="9.3"/><circle cx="750.7" cy="2219.8" r="9.3"/><circle cx="761.4" cy="2251.8" r="9.3"/><circle cx="772" cy="2275" r="9.3"/><circle cx="783.7" cy="2293.5" r="9.3"/><circle cx="794.9" cy="2304.8" r="9.3"/><circle cx="806.1" cy="2311.7" r="9.3"/><circle cx="817.3" cy="2317.1" r="9.3"/><circle cx="828.5" cy="2322.7" r="9.3"/><circle cx="839.7" cy="2328.1" r="9.3"/><circle cx="850.9" cy="2332.7" r="9.3"/><circle cx="862.1" cy="2336.7" r="9.3"/><circle cx="873.3" cy="2340.1" r="9.3"/><circle cx="884.5" cy="2343" r="9.3"/><circle cx="895.7" cy="2345.7" r="9.3"/><circle cx="906.9" cy="2348.3" r="9.3"/><circle cx="918.1" cy="2350.6" r="9.3"/><circle cx="929.3" cy="2352.7" r="9.3"/><circle cx="940.5" cy="2354.4" r="9.3"/><circle cx="951.7" cy="2355.6" r="9.3"/><circle cx="962.9" cy="2356.6" r="9.3"/><circle cx="974.1" cy="2357.4" r="9.3"/><circle cx="985.3" cy="2358.2" r="9.3"/><circle cx="996.5" cy="2358.9" r="9.3"/><circle cx="1007.7" cy="2359.4" r="9.3"/><circle cx="1018.9" cy="2360" r="9.3"/><circle cx="1030.1" cy="2360.5" r="9.3"/><circle cx="1041.3" cy="2360.9" r="9.3"/><circle cx="1052.5" cy="2361.4" r="9.3"/><circle cx="1063.7" cy="2361.8" r="9.3"/><circle cx="1074.9" cy="2362.1" r="9.3"/><circle cx="1086.1" cy="2362.5" r="9.3"/><circle cx="1097.3" cy="2362.8" r="9.3"/><circle cx="1108.5" cy="2363.1" r="9.3"/><circle cx="1119.7" cy="2363.4" r="9.3"/><circle cx="1130.9" cy="2363.7" r="9.3"/><circle cx="1142.1" cy="2364" r="9.3"/><circle cx="1153.3" cy="2364.3" r="9.3"/><circle cx="1164.5" cy="2364.6" r="9.3"/><circle cx="1175.7" cy="2364.9" r="9.3"/></g>
<polyline points="158,2248.6 159.5,2248.6 161,2248.6 162.5,2248.6 164,2248.6 165.5,2248.7 167,2248.7 168.5,2248.7 170,2248.7 171.5,2248.8 173,2248.8 174.5,2248.9 176,2248.9 177.5,2248.9 179,2249 180.5,2249 182,2249.1 183.5,2249.2 185,2249.2 186.5,2249.3 188,2249.3 189.5,2249.4 191,2249.5 192.5,2249.5 194,2249.6 195.5,2249.7 197,2249.8 198.5,2249.8 200,2249.9 201.5,2250 203,2250.1 204.5,2250.2 206,2250.2 207.5,2250.3 209,2250.4 210.5,2250.5 212,2250.6 213.5,2250.6 215,2250.7 216.5,2250.8 218,2250.9 219.5,2251 221,2251.1 222.5,2251.2 224,2251.3 225.5,2251.4 227,2251.5 228.5,2251.6 230,2251.7 231.5,2251.8 233,2251.9 234.5,2252.1 236,2252.2 237.5,2252.3 239,2252.5 240.5,2252.6 242,2252.8 243.5,2252.9 245,2253.1 246.5,2253.3 248,2253.5 249.5,2253.7 251,2253.9 252.5,2254.1 254,2254.3 255.5,2254.5 257,2254.7 258.5,2255 260,2255.2 261.5,2255.6 263,2256 264.5,2256.5 266,2257.1 267.5,2257.8 269,2258.5 270.5,2259.2 272,2260.1 273.5,2260.9 275,2261.8 276.5,2262.8 278,2263.7 279.5,2264.7 281,2265.7 282.5,2266.7 284,2267.8 285.5,2268.8 287,2269.8 288.5,2270.8 290,2271.8 291.5,2272.8 293,2273.8 294.5,2274.7 296,2275.6 297.5,2276.4 299,2277.2 300.5,2278 302,2278.7 303.5,2279.3 305,2279.9 306.5,2280.6 308,2281.2 309.5,2281.8 311,2282.4 312.5,2283 314,2283.6 315.5,2284.2 317,2284.8 318.5,2285.3 320,2285.9 321.5,2286.4 323,2287 324.5,2287.5 326,2288 327.5,2288.6 329,2289.1 330.5,2289.6 332,2290 333.5,2290.5 335,2291 336.5,2291.4 338,2291.9 339.5,2292.3 341,2292.7 342.5,2293.1 344,2293.5 345.5,2293.9 347,2294.3 348.5,2294.7 350,2295.1 351.5,2295.4 353,2295.8 354.5,2296.2 356,2296.5 357.5,2296.9 359,2297.2 360.5,2297.6 362,2297.9 363.5,2298.3 365,2298.6 366.5,2298.9 368,2299.2 369.5,2299.5 371,2299.8 372.5,2300.1 374,2300.4 375.5,2300.7 377,2300.9 378.5,2301.2 380,2301.4 381.5,2301.6 383,2301.8 384.5,2302 386,2302.2 387.5,2302.4 389,2302.6 390.5,2302.7 392,2302.8 393.5,2303 395,2303.1 396.5,2303.3 398,2303.4 399.5,2303.5 401,2303.6 402.5,2303.8 404,2303.9 405.5,2304 407,2304.1 408.5,2304.2 410,2304.3 411.5,2304.4 413,2304.5 414.5,2304.6 416,2304.7 417.5,2304.8 419,2304.9 420.5,2305 422,2305 423.5,2305.1 425,2305.2 426.5,2305.3 428,2305.4 429.5,2305.5 431,2305.5 432.5,2305.6 434,2305.7 435.5,2305.8 437,2305.9 438.5,2305.9 440,2306 441.5,2306.1 443,2306.2 444.5,2306.3 446,2306.4 447.5,2306.5 449,2306.5 450.5,2306.6 452,2306.7 453.5,2306.8 455,2306.9 456.5,2307 458,2307.1 459.5,2307.2 461,2307.3 462.5,2307.3 464,2307.4 465.5,2307.5 467,2307.6 468.5,2307.6 470,2307.7 471.5,2307.8 473,2307.8 474.5,2307.9 476,2308 477.5,2308 479,2308.1 480.5,2308.2 482,2308.2 483.5,2308.3 485,2308.4 486.5,2308.5 488,2308.5 489.5,2308.6 491,2308.7 492.5,2308.8 494,2308.8 495.5,2308.9 497,2309 498.5,2309.1 500,2309.2 501.5,2309.3 503,2309.4 504.5,2309.5 506,2309.6 507.5,2309.7 509,2309.8 510.5,2310 512,2310.1 513.5,2310.2 515,2310.4 516.5,2310.5 518,2310.7 519.5,2310.8 521,2311 522.5,2311.2 524,2311.5 525.5,2311.8 527,2312.2 528.5,2312.6 530,2313 531.5,2313.5 533,2314 534.5,2314.5 536,2315 537.5,2315.6 539,2316.2 540.5,2316.8 542,2317.4 543.5,2318 545,2318.7 546.5,2319.3 548,2320 549.5,2320.6 551,2321.2 552.5,2321.9 554,2322.5 555.5,2323.2 557,2323.8 558.5,2324.4 560,2325 561.5,2325.6 563,2326.3 564.5,2327 566,2327.7 567.5,2328.5 569,2329.2 570.5,2330 572,2330.8 573.5,2331.6 575,2332.4 576.5,2333.2 578,2334 579.5,2334.8 581,2335.5 582.5,2336.3 584,2337 585.5,2337.7 587,2338.4 588.5,2339 590,2339.6 591.5,2340.2 593,2340.7 594.5,2341.1 596,2341.5 597.5,2341.9 599,2342.2 600.5,2342.5 602,2342.8 603.5,2343.1 605,2343.3 606.5,2343.6 608,2343.8 609.5,2344.1 611,2344.3 612.5,2344.5 614,2344.7 615.5,2344.9 617,2345.1 618.5,2345.3 620,2345.5 621.5,2345.6 623,2345.8 624.5,2346 626,2346.1 627.5,2346.3 629,2346.4 630.5,2346.6 632,2346.8 633.5,2346.9 635,2347.1 636.5,2347.2 638,2347.4 639.5,2347.6 641,2347.7 642.5,2347.9 644,2348.1 645.5,2348.3 647,2348.5 648.5,2348.7 650,2348.9 651.5,2349.1 653,2349.3 654.5,2349.5 656,2349.7 657.5,2350 659,2350.2 660.5,2350.5 662,2350.8 663.5,2351 665,2351.3 666.5,2351.6 668,2351.9 669.5,2352.2 671,2352.5 672.5,2352.8 674,2353.1 675.5,2353.4 677,2353.7 678.5,2354 680,2354.3 681.5,2354.6 683,2355 684.5,2355.3 686,2355.6 687.5,2355.9 689,2356.2 690.5,2356.6 692,2356.9 693.5,2357.2 695,2357.5 696.5,2357.8 698,2358.2 699.5,2358.5 701,2358.8 702.5,2359.1 704,2359.4 705.5,2359.7 707,2360 708.5,2360.3 710,2360.6 711.5,2360.9 713,2361.1 714.5,2361.4 716,2361.7 717.5,2362 719,2362.3 720.5,2362.6 722,2362.9 723.5,2363.2 725,2363.5 726.5,2363.8 728,2364.1 729.5,2364.4 731,2364.7 732.5,2365.1 734,2365.4 735.5,2365.7 737,2366 738.5,2366.3 740,2366.6 741.5,2366.9 743,2367.2 744.5,2367.5 746,2367.8 747.5,2368.1 749,2368.3 750.5,2368.6 752,2368.9 753.5,2369.1 755,2369.3 756.5,2369.5 758,2369.8 759.5,2370 761,2370.1 762.5,2370.3 764,2370.5 765.5,2370.6 767,2370.7 768.5,2370.8 770,2370.9 771.5,2371 773,2371 774.5,2371.1 776,2371.1 777.5,2371.2 779,2371.2 780.5,2371.3 782,2371.3 783.5,2371.4 785,2371.4 786.5,2371.5 788,2371.5 789.5,2371.6 791,2371.6 792.5,2371.7 794,2371.7 795.5,2371.7 797,2371.8 798.5,2371.8 800,2371.9 801.5,2371.9 803,2371.9 804.5,2372 806,2372 807.5,2372 809,2372.1 810.5,2372.1 812,2372.1 813.5,2372.2 815,2372.2 816.5,2372.2 818,2372.3 819.5,2372.3 821,2372.3 822.5,2372.3 824,2372.4 825.5,2372.4 827,2372.4 828.5,2372.4 830,2372.5 831.5,2372.5 833,2372.5 834.5,2372.5 836,2372.6 837.5,2372.6 839,2372.6 840.5,2372.6 842,2372.6 843.5,2372.7 845,2372.7 846.5,2372.7 848,2372.7 849.5,2372.7 851,2372.8 852.5,2372.8 854,2372.8 855.5,2372.8 857,2372.8 858.5,2372.8 860,2372.8 861.5,2372.9 863,2372.9 864.5,2372.9 866,2372.9 867.5,2372.9 869,2372.9 870.5,2372.9 872,2372.9 873.5,2373 875,2373 876.5,2373 878,2373 879.5,2373 881,2373 882.5,2373 884,2373 885.5,2373 887,2373 888.5,2373.1 890,2373.1 891.5,2373.1 893,2373.1 894.5,2373.1 896,2373.1 897.5,2373.1 899,2373.1 900.5,2373.1 902,2373.1 903.5,2373.1 905,2373.2 906.5,2373.2 908,2373.2 909.5,2373.2 911,2373.2 912.5,2373.2 914,2373.2 915.5,2373.2 917,2373.2 918.5,2373.2 920,2373.2 921.5,2373.2 923,2373.3 924.5,2373.3 926,2373.3 927.5,2373.3 929,2373.3 930.5,2373.3 932,2373.3 933.5,2373.3 935,2373.3 936.5,2373.3 938,2373.3 939.5,2373.3 941,2373.4 942.5,2373.4 944,2373.4 945.5,2373.4 947,2373.4 948.5,2373.4 950,2373.4 951.5,2373.4 953,2373.4 954.5,2373.4 956,2373.4 957.5,2373.4 959,2373.4 960.5,2373.5 962,2373.5 963.5,2373.5 965,2373.5 966.5,2373.5 968,2373.5 969.5,2373.5 971,2373.5 972.5,2373.5 974,2373.5 975.5,2373.5 977,2373.5 978.5,2373.5 980,2373.5 981.5,2373.5 983,2373.6 984.5,2373.6 986,2373.6 987.5,2373.6 989,2373.6 990.5,2373.6 992,2373.6 993.5,2373.6 995,2373.6 996.5,2373.6 998,2373.6 999.5,2373.6 1001,2373.6 1002.5,2373.6 1004,2373.6 1005.5,2373.6 1007,2373.7 1008.5,2373.7 1010,2373.7 1011.5,2373.7 1013,2373.7 1014.5,2373.7 1016,2373.7 1017.5,2373.7 1019,2373.7 1020.5,2373.7 1022,2373.7 1023.5,2373.7 1025,2373.7 1026.5,2373.7 1028,2373.7 1029.5,2373.7 1031,2373.7 1032.5,2373.7 1034,2373.8 1035.5,2373.8 1037,2373.8 1038.5,2373.8 1040,2373.8 1041.5,2373.8 1043,2373.8 1044.5,2373.8 1046,2373.8 1047.5,2373.8 1049,2373.8 1050.5,2373.8 1052,2373.8 1053.5,2373.8 1055,2373.8 1056.5,2373.8 1058,2373.8 1059.5,2373.8 1061,2373.8 1062.5,2373.8 1064,2373.8 1065.5,2373.8 1067,2373.8 1068.5,2373.9 1070,2373.9 1071.5,2373.9 1073,2373.9 1074.5,2373.9 1076,2373.9 1077.5,2373.9 1079,2373.9 1080.5,2373.9 1082,2373.9 1083.5,2373.9 1085,2373.9 1086.5,2373.9 1088,2373.9 1089.5,2373.9 1091,2373.9 1092.5,2373.9 1094,2373.9 1095.5,2373.9 1097,2373.9 1098.5,2373.9 1100,2373.9 1101.5,2373.9 1103,2373.9 1104.5,2373.9 1106,2373.9 1107.5,2373.9 1109,2373.9 1110.5,2373.9 1112,2373.9 1113.5,2373.9 1115,2373.9 1116.5,2374 1118,2374 1119.5,2374 1121,2374 1122.5,2374 1124,2374 1125.5,2374 1127,2374 1128.5,2374 1130,2374 1131.5,2374 1133,2374 1134.5,2374 1136,2374 1137.5,2374 1139,2374 1140.5,2374 1142,2374 1143.5,2374 1145,2374 1146.5,2374 1148,2374 1149.5,2374 1151,2374 1152.5,2374 1154,2374 1155.5,2374 1157,2374 1158.5,2374 1160,2374 1161.5,2374 1163,2374 1164.5,2374 1166,2374 1167.5,2374 1169,2374 1170.5,2374 1172,2374 1173.5,2374 1175,2374 1176.5,2374 1178,2374 1179.5,2374 1180,2374" fill="none" stroke="#00FF00" stroke-width="7.5" stroke-linejoin="round" stroke-linecap="round"/>
<polyline points="160.2,2192.6 161.7,2192 163.2,2191.3 164.7,2190.4 166.2,2189.5 167.7,2188.4 169.2,2187.3 170.7,2186.1 172.2,2184.8 173.7,2183.5 175.2,2181.9 176.7,2180.2 178.2,2178.4 179.7,2176.4 181.2,2174.3 182.7,2172 184.2,2169.7 185.7,2167.4 187.2,2165 188.7,2162.6 190.2,2160.2 191.7,2157.8 193.2,2155.4 194.7,2153 196.2,2150.5 197.7,2147.9 199.2,2145.3 200.7,2142.6 202.2,2139.7 203.7,2136.6 205.2,2133.4 206.7,2129.9 208.2,2126.2 209.7,2122.1 211.2,2117.6 212.7,2112.7 214.2,2107.5 215.7,2102 217.2,2096.3 218.7,2090.4 220.2,2084.3 221.7,2078.2 223.2,2071.9 224.7,2065.5 226.2,2058.7 227.7,2051.6 229.2,2043.9 230.7,2035.5 232.2,2026.4 233.7,2016.4 235.2,2004.2 236.7,1989.8 238.2,1974 239.7,1957.4 241.2,1940.9 242.7,1924.9 244.2,1908.5 245.7,1891.6 247.2,1874.6 248.7,1857.6 250.2,1840.9 251.7,1824.6 253.2,1809.3 254.7,1794.5 256.2,1779 257.7,1761.4 259.2,1740.9 260.7,1719.1 262.2,1698 263.7,1679.3 265.2,1663.3 266.7,1648.7 268.2,1634.8 269.7,1620.8 271.2,1606 272.7,1589.8 274.2,1571.8 275.7,1552.7 277.2,1533.1 278.7,1513.6 280.2,1494.8 281.7,1476.6 283.2,1457.1 284.7,1439.9 286.2,1429 287.7,1421.8 289.2,1416 290.7,1412.5 292.2,1412.5 293.7,1416 295.2,1421.8 296.7,1428.6 298.2,1436.2 299.7,1445.8 301.2,1457.3 302.7,1470.4 304.2,1484.7 305.7,1501.1 307.2,1521.2 308.7,1543.7 310.2,1567.3 311.7,1590.8 313.2,1614 314.7,1638 316.2,1662.3 317.7,1686.3 319.2,1708.5 320.7,1730.4 322.2,1754.9 323.7,1786.8 325.2,1829.3 326.7,1856.5 328.2,1875.3 329.7,1890.8 331.2,1904 332.7,1916.3 334.2,1928.8 335.7,1941.9 337.2,1954.6 338.7,1966.7 340.2,1978.6 341.7,1990.2 343.2,2001.6 344.7,2013.1 346.2,2024.8 347.7,2037.1 349.2,2049.4 350.7,2061.3 352.2,2072.2 353.7,2081.5 355.2,2089 356.7,2095.4 358.2,2101.1 359.7,2106.3 361.2,2111.6 362.7,2117.1 364.2,2123.4 365.7,2131 367.2,2140.3 368.7,2148.7 370.2,2154.9 371.7,2160.7 373.2,2166.2 374.7,2171.4 376.2,2176.4 377.7,2181 379.2,2185.4 380.7,2189.6 382.2,2193.5 383.7,2197.2 385.2,2200.7 386.7,2204 388.2,2207.1 389.7,2210.1 391.2,2212.9 392.7,2215.6 394.2,2218.3 395.7,2220.8 397.2,2223.2 398.7,2225.5 400.2,2227.7 401.7,2229.8 403.2,2231.8 404.7,2233.8 406.2,2235.6 407.7,2237.4 409.2,2239.1 410.7,2240.8 412.2,2242.4 413.7,2243.9 415.2,2245.5 416.7,2247 418.2,2248.4 419.7,2249.9 421.2,2251.2 422.7,2252.6 424.2,2253.9 425.7,2255.1 427.2,2256.4 428.7,2257.5 430.2,2258.6 431.7,2259.7 433.2,2260.7 434.7,2261.7 436.2,2262.6 437.7,2263.5 439.2,2264.4 440.7,2265.2 442.2,2266 443.7,2266.7 445.2,2267.5 446.7,2268.2 448.2,2268.9 449.7,2269.5 451.2,2270.2 452.7,2270.8 454.2,2271.4 455.7,2272.1 457.2,2272.6 458.7,2273.2 460.2,2273.8 461.7,2274.3 463.2,2274.9 464.7,2275.4 466.2,2275.9 467.7,2276.5 469.2,2277 470.7,2277.5 472.2,2278 473.7,2278.5 475.2,2279 476.7,2279.5 478.2,2280 479.7,2280.4 481.2,2280.8 482.7,2281.3 484.2,2281.7 485.7,2282.1 487.2,2282.5 488.7,2282.9 490.2,2283.3 491.7,2283.6 493.2,2284 494.7,2284.4 496.2,2284.7 497.7,2285.1 499.2,2285.5 500.7,2285.8 502.2,2286.2 503.7,2286.6 505.2,2287 506.7,2287.4 508.2,2287.8 509.7,2288.2 511.2,2288.6 512.7,2289.1 514.2,2289.6 515.7,2290 517.2,2290.5 518.7,2291 520.2,2291.6 521.7,2292.1 523.2,2292.7 524.7,2293.4 526.2,2294 527.7,2294.7 529.2,2295.4 530.7,2296.2 532.2,2297 533.7,2297.7 535.2,2298.5 536.7,2299.3 538.2,2300.1 539.7,2301 541.2,2301.8 542.7,2302.6 544.2,2303.4 545.7,2304.3 547.2,2305.1 548.7,2305.9 550.2,2306.7 551.7,2307.5 553.2,2308.2 554.7,2309 556.2,2309.7 557.7,2310.4 559.2,2311.1 560.7,2311.7 562.2,2312.4 563.7,2313.1 565.2,2313.8 566.7,2314.4 568.2,2315.1 569.7,2315.8 571.2,2316.5 572.7,2317.1 574.2,2317.8 575.7,2318.4 577.2,2319.1 578.7,2319.7 580.2,2320.3 581.7,2320.9 583.2,2321.5 584.7,2322.1 586.2,2322.7 587.7,2323.2 589.2,2323.8 590.7,2324.3 592.2,2324.8 593.7,2325.3 595.2,2325.7 596.7,2326.2 598.2,2326.6 599.7,2327 601.2,2327.4 602.7,2327.8 604.2,2328.1 605.7,2328.5 607.2,2328.8 608.7,2329.2 610.2,2329.5 611.7,2329.8 613.2,2330.1 614.7,2330.4 616.2,2330.7 617.7,2331 619.2,2331.3 620.7,2331.6 622.2,2331.9 623.7,2332.2 625.2,2332.4 626.7,2332.7 628.2,2333 629.7,2333.2 631.2,2333.5 632.7,2333.8 634.2,2334 635.7,2334.3 637.2,2334.5 638.7,2334.8 640.2,2335.1 641.7,2335.4 643.2,2335.6 644.7,2335.9 646.2,2336.2 647.7,2336.5 649.2,2336.8 650.7,2337.1 652.2,2337.4 653.7,2337.7 655.2,2338 656.7,2338.3 658.2,2338.6 659.7,2339 661.2,2339.3 662.7,2339.7 664.2,2340 665.7,2340.4 667.2,2340.7 668.7,2341.1 670.2,2341.4 671.7,2341.8 673.2,2342.2 674.7,2342.5 676.2,2342.9 677.7,2343.3 679.2,2343.6 680.7,2344 682.2,2344.4 683.7,2344.7 685.2,2345.1 686.7,2345.5 688.2,2345.8 689.7,2346.2 691.2,2346.6 692.7,2346.9 694.2,2347.3 695.7,2347.6 697.2,2348 698.7,2348.3 700.2,2348.7 701.7,2349 703.2,2349.4 704.7,2349.7 706.2,2350 707.7,2350.3 709.2,2350.7 710.7,2351 712.2,2351.3 713.7,2351.6 715.2,2351.9 716.7,2352.1 718.2,2352.4 719.7,2352.8 721.2,2353.1 722.7,2353.4 724.2,2353.7 725.7,2354 727.2,2354.3 728.7,2354.6 730.2,2354.9 731.7,2355.2 733.2,2355.5 734.7,2355.8 736.2,2356.1 737.7,2356.4 739.2,2356.7 740.7,2357 742.2,2357.3 743.7,2357.5 745.2,2357.8 746.7,2358.1 748.2,2358.3 749.7,2358.6 751.2,2358.8 752.7,2359.1 754.2,2359.3 755.7,2359.5 757.2,2359.8 758.7,2360 760.2,2360.2 761.7,2360.3 763.2,2360.5 764.7,2360.7 766.2,2360.8 767.7,2361 769.2,2361.1 770.7,2361.2 772.2,2361.3 773.7,2361.4 775.2,2361.5 776.7,2361.6 778.2,2361.7 779.7,2361.8 781.2,2361.8 782.7,2361.9 784.2,2362 785.7,2362.1 787.2,2362.2 788.7,2362.2 790.2,2362.3 791.7,2362.4 793.2,2362.4 794.7,2362.5 796.2,2362.6 797.7,2362.6 799.2,2362.7 800.7,2362.7 802.2,2362.8 803.7,2362.9 805.2,2362.9 806.7,2363 808.2,2363 809.7,2363.1 811.2,2363.1 812.7,2363.2 814.2,2363.2 815.7,2363.3 817.2,2363.3 818.7,2363.4 820.2,2363.4 821.7,2363.5 823.2,2363.5 824.7,2363.5 826.2,2363.6 827.7,2363.6 829.2,2363.7 830.7,2363.7 832.2,2363.8 833.7,2363.8 835.2,2363.8 836.7,2363.9 838.2,2363.9 839.7,2364 841.2,2364 842.7,2364 844.2,2364.1 845.7,2364.1 847.2,2364.2 848.7,2364.2 850.2,2364.2 851.7,2364.3 853.2,2364.3 854.7,2364.4 856.2,2364.4 857.7,2364.5 859.2,2364.5 860.7,2364.5 862.2,2364.6 863.7,2364.6 865.2,2364.7 866.7,2364.7 868.2,2364.8 869.7,2364.8 871.2,2364.9 872.7,2364.9 874.2,2365 875.7,2365 877.2,2365.1 878.7,2365.2 880.2,2365.2 881.7,2365.3 883.2,2365.3 884.7,2365.4 886.2,2365.4 887.7,2365.5 889.2,2365.6 890.7,2365.6 892.2,2365.7 893.7,2365.8 895.2,2365.8 896.7,2365.9 898.2,2365.9 899.7,2366 901.2,2366.1 902.7,2366.1 904.2,2366.2 905.7,2366.3 907.2,2366.3 908.7,2366.4 910.2,2366.5 911.7,2366.5 913.2,2366.6 914.7,2366.7 916.2,2366.7 917.7,2366.8 919.2,2366.9 920.7,2366.9 922.2,2367 923.7,2367.1 925.2,2367.1 926.7,2367.2 928.2,2367.3 929.7,2367.3 931.2,2367.4 932.7,2367.5 934.2,2367.5 935.7,2367.6 937.2,2367.6 938.7,2367.7 940.2,2367.8 941.7,2367.8 943.2,2367.9 944.7,2367.9 946.2,2368 947.7,2368.1 949.2,2368.1 950.7,2368.2 952.2,2368.2 953.7,2368.3 955.2,2368.3 956.7,2368.4 958.2,2368.4 959.7,2368.5 961.2,2368.5 962.7,2368.6 964.2,2368.6 965.7,2368.7 967.2,2368.7 968.7,2368.8 970.2,2368.8 971.7,2368.9 973.2,2368.9 974.7,2369 976.2,2369 977.7,2369.1 979.2,2369.1 980.7,2369.2 982.2,2369.2 983.7,2369.3 985.2,2369.4 986.7,2369.4 988.2,2369.4 989.7,2369.5 991.2,2369.5 992.7,2369.6 994.2,2369.6 995.7,2369.7 997.2,2369.7 998.7,2369.8 1000.2,2369.8 1001.7,2369.9 1003.2,2369.9 1004.7,2370 1006.2,2370 1007.7,2370.1 1009.2,2370.1 1010.7,2370.2 1012.2,2370.2 1013.7,2370.2 1015.2,2370.3 1016.7,2370.3 1018.2,2370.4 1019.7,2370.4 1021.2,2370.4 1022.7,2370.5 1024.2,2370.5 1025.7,2370.5 1027.2,2370.6 1028.7,2370.6 1030.2,2370.7 1031.7,2370.7 1033.2,2370.7 1034.7,2370.7 1036.2,2370.8 1037.7,2370.8 1039.2,2370.8 1040.7,2370.9 1042.2,2370.9 1043.7,2370.9 1045.2,2370.9 1046.7,2371 1048.2,2371 1049.7,2371 1051.2,2371 1052.7,2371 1054.2,2371.1 1055.7,2371.1 1057.2,2371.1 1058.7,2371.1 1060.2,2371.1 1061.7,2371.1 1063.2,2371.2 1064.7,2371.2 1066.2,2371.2 1067.7,2371.2 1069.2,2371.2 1070.7,2371.3 1072.2,2371.3 1073.7,2371.3 1075.2,2371.3 1076.7,2371.3 1078.2,2371.3 1079.7,2371.4 1081.2,2371.4 1082.7,2371.4 1084.2,2371.4 1085.7,2371.4 1087.2,2371.4 1088.7,2371.5 1090.2,2371.5 1091.7,2371.5 1093.2,2371.5 1094.7,2371.5 1096.2,2371.5 1097.7,2371.5 1099.2,2371.6 1100.7,2371.6 1102.2,2371.6 1103.7,2371.6 1105.2,2371.6 1106.7,2371.6 1108.2,2371.6 1109.7,2371.7 1111.2,2371.7 1112.7,2371.7 1114.2,2371.7 1115.7,2371.7 1117.2,2371.7 1118.7,2371.7 1120.2,2371.7 1121.7,2371.8 1123.2,2371.8 1124.7,2371.8 1126.2,2371.8 1127.7,2371.8 1129.2,2371.8 1130.7,2371.8 1132.2,2371.8 1133.7,2371.8 1135.2,2371.9 1136.7,2371.9 1138.2,2371.9 1139.7,2371.9 1141.2,2371.9 1142.7,2371.9 1144.2,2371.9 1145.7,2371.9 1147.2,2371.9 1148.7,2371.9 1150.2,2371.9 1151.7,2371.9 1153.2,2371.9 1154.7,2372 1156.2,2372 1157.7,2372 1159.2,2372 1160.7,2372 1162.2,2372 1163.7,2372 1165.2,2372 1166.7,2372 1168.2,2372 1169.7,2372 1171.2,2372 1172.7,2372 1174.2,2372 1175.7,2372 1177.2,2372 1178.7,2372 1180,2372" fill="none" stroke="#FF6600" stroke-width="9.5" stroke-linejoin="round" stroke-linecap="round"/>
<polyline points="158,2237.9 159.5,2237.7 161,2237.6 162.5,2237.4 164,2237.3 165.5,2237.2 167,2237 168.5,2236.9 170,2236.8 171.5,2236.7 173,2236.6 174.5,2236.5 176,2236.4 177.5,2236.3 179,2236.3 180.5,2236.2 182,2236.1 183.5,2236.1 185,2236 186.5,2236 188,2236 189.5,2235.9 191,2235.9 192.5,2235.8 194,2235.8 195.5,2235.8 197,2235.8 198.5,2235.8 200,2235.7 201.5,2235.7 203,2235.7 204.5,2235.7 206,2235.7 207.5,2235.7 209,2235.7 210.5,2235.7 212,2235.7 213.5,2235.7 215,2235.7 216.5,2235.7 218,2235.7 219.5,2235.7 221,2235.8 222.5,2235.8 224,2235.9 225.5,2236 227,2236.1 228.5,2236.2 230,2236.3 231.5,2236.4 233,2236.5 234.5,2236.7 236,2236.8 237.5,2237 239,2237.2 240.5,2237.3 242,2237.5 243.5,2237.7 245,2237.9 246.5,2238.1 248,2238.3 249.5,2238.5 251,2238.8 252.5,2239 254,2239.2 255.5,2239.4 257,2239.7 258.5,2239.9 260,2240.1 261.5,2240.4 263,2240.7 264.5,2241.1 266,2241.5 267.5,2241.9 269,2242.3 270.5,2242.8 272,2243.3 273.5,2243.9 275,2244.4 276.5,2245 278,2245.5 279.5,2246.1 281,2246.8 282.5,2247.4 284,2248 285.5,2248.6 287,2249.2 288.5,2249.9 290,2250.5 291.5,2251.1 293,2251.7 294.5,2252.3 296,2252.9 297.5,2253.4 299,2254 300.5,2254.5 302,2255 303.5,2255.5 305,2256 306.5,2256.5 308,2257.1 309.5,2257.7 311,2258.3 312.5,2258.8 314,2259.4 315.5,2260 317,2260.6 318.5,2261.2 320,2261.8 321.5,2262.4 323,2263 324.5,2263.5 326,2264.1 327.5,2264.6 329,2265.1 330.5,2265.5 332,2266 333.5,2266.4 335,2266.7 336.5,2267 338,2267.3 339.5,2267.6 341,2267.8 342.5,2267.9 344,2268 345.5,2268 347,2268 348.5,2268 350,2268 351.5,2268 353,2268 354.5,2268 356,2268 357.5,2268 359,2268 360.5,2268 362,2268 363.5,2268 365,2268 366.5,2268 368,2268 369.5,2268 371,2268 372.5,2268 374,2268 375.5,2268 377,2268 378.5,2268 380,2267.9 381.5,2267.8 383,2267.7 384.5,2267.4 386,2267.2 387.5,2266.9 389,2266.6 390.5,2266.2 392,2265.8 393.5,2265.3 395,2264.9 396.5,2264.4 398,2263.9 399.5,2263.3 401,2262.8 402.5,2262.2 404,2261.7 405.5,2261.1 407,2260.5 408.5,2260 410,2259.4 411.5,2258.8 413,2258.1 414.5,2257.4 416,2256.6 417.5,2255.8 419,2255 420.5,2254.1 422,2253.1 423.5,2252.1 425,2251.1 426.5,2250.1 428,2249.1 429.5,2248 431,2246.9 432.5,2245.8 434,2244.7 435.5,2243.6 437,2242.5 438.5,2241.3 440,2240 441.5,2238.8 443,2237.5 444.5,2236.1 446,2234.7 447.5,2233.2 449,2231.7 450.5,2230.1 452,2228.4 453.5,2226.6 455,2224.8 456.5,2222.9 458,2221 459.5,2218.9 461,2216.8 462.5,2214.5 464,2212.1 465.5,2209.6 467,2206.9 468.5,2204 470,2201 471.5,2197.8 473,2194.4 474.5,2190.8 476,2186.4 477.5,2180.9 479,2174.8 480.5,2168.3 482,2162 483.5,2156.1 485,2150.7 486.5,2145.5 488,2140.4 489.5,2135.1 491,2129.6 492.5,2123.6 494,2117 495.5,2109.5 497,2101.2 498.5,2092.1 500,2082.6 501.5,2072.7 503,2062.7 504.5,2052.8 506,2042.8 507.5,2032.5 509,2021.9 510.5,2011.2 512,2000.5 513.5,1989.9 515,1979.5 516.5,1969.4 518,1959.5 519.5,1949.7 521,1940 522.5,1930.2 524,1920.2 525.5,1910.5 527,1901.4 528.5,1893 530,1885.1 531.5,1877.6 533,1870.3 534.5,1863.1 536,1855.9 537.5,1848.5 539,1841.1 540.5,1833.8 542,1826.5 543.5,1819.2 545,1811.6 546.5,1803.7 548,1795.1 549.5,1785.6 551,1777.2 552.5,1770.9 554,1765.2 555.5,1762.1 557,1763.1 558.5,1766.6 560,1770.8 561.5,1774.1 563,1777.1 564.5,1780.4 566,1784.5 567.5,1790.2 569,1798.3 570.5,1807.9 572,1818.2 573.5,1828.3 575,1837.4 576.5,1845.9 578,1854.3 579.5,1862.9 581,1872.1 582.5,1882.3 584,1894.4 585.5,1908.2 587,1922.6 588.5,1936.5 590,1949.5 591.5,1962.8 593,1976.2 594.5,1989.4 596,2002.4 597.5,2014.8 599,2026.5 600.5,2037.3 602,2047 603.5,2055.4 605,2062.6 606.5,2069.1 608,2075.1 609.5,2080.9 611,2086.9 612.5,2093.4 614,2100.6 615.5,2109.2 617,2119.3 618.5,2129.9 620,2140.2 621.5,2149.4 623,2156.9 624.5,2163.9 626,2170.4 627.5,2176.6 629,2182.5 630.5,2188.1 632,2193.5 633.5,2198.7 635,2203.8 636.5,2208.9 638,2213.8 639.5,2218.6 641,2223.3 642.5,2227.7 644,2231.9 645.5,2235.9 647,2239.7 648.5,2243.4 650,2247 651.5,2250.5 653,2253.8 654.5,2257 656,2260 657.5,2262.8 659,2265.4 660.5,2267.7 662,2269.9 663.5,2272 665,2274 666.5,2275.9 668,2277.8 669.5,2279.5 671,2281.3 672.5,2282.9 674,2284.5 675.5,2286.1 677,2287.6 678.5,2289.2 680,2290.7 681.5,2292.1 683,2293.6 684.5,2295.1 686,2296.6 687.5,2298.1 689,2299.5 690.5,2300.9 692,2302.4 693.5,2303.8 695,2305.1 696.5,2306.5 698,2307.8 699.5,2309.2 701,2310.5 702.5,2311.7 704,2313 705.5,2314.2 707,2315.4 708.5,2316.6 710,2317.7 711.5,2318.9 713,2320 714.5,2321 716,2322.1 717.5,2323.2 719,2324.2 720.5,2325.3 722,2326.3 723.5,2327.4 725,2328.4 726.5,2329.4 728,2330.4 729.5,2331.3 731,2332.2 732.5,2333.1 734,2334 735.5,2334.8 737,2335.5 738.5,2336.2 740,2336.9 741.5,2337.5 743,2338.1 744.5,2338.6 746,2339.1 747.5,2339.6 749,2340.1 750.5,2340.6 752,2341 753.5,2341.5 755,2341.9 756.5,2342.3 758,2342.7 759.5,2343.1 761,2343.5 762.5,2343.8 764,2344.2 765.5,2344.6 767,2344.9 768.5,2345.2 770,2345.6 771.5,2345.9 773,2346.2 774.5,2346.5 776,2346.8 777.5,2347.1 779,2347.4 780.5,2347.7 782,2348 783.5,2348.2 785,2348.5 786.5,2348.8 788,2349.1 789.5,2349.4 791,2349.6 792.5,2349.9 794,2350.2 795.5,2350.4 797,2350.7 798.5,2351 800,2351.2 801.5,2351.5 803,2351.7 804.5,2352 806,2352.2 807.5,2352.5 809,2352.7 810.5,2352.9 812,2353.2 813.5,2353.4 815,2353.6 816.5,2353.8 818,2354 819.5,2354.2 821,2354.4 822.5,2354.6 824,2354.8 825.5,2355 827,2355.2 828.5,2355.3 830,2355.5 831.5,2355.6 833,2355.8 834.5,2355.9 836,2356.1 837.5,2356.2 839,2356.4 840.5,2356.5 842,2356.7 843.5,2356.8 845,2357 846.5,2357.1 848,2357.3 849.5,2357.4 851,2357.5 852.5,2357.7 854,2357.8 855.5,2357.9 857,2358 858.5,2358.2 860,2358.3 861.5,2358.4 863,2358.5 864.5,2358.6 866,2358.7 867.5,2358.8 869,2358.9 870.5,2359 872,2359.1 873.5,2359.1 875,2359.2 876.5,2359.3 878,2359.3 879.5,2359.4 881,2359.4 882.5,2359.5 884,2359.5 885.5,2359.6 887,2359.6 888.5,2359.7 890,2359.7 891.5,2359.8 893,2359.8 894.5,2359.8 896,2359.9 897.5,2359.9 899,2360 900.5,2360 902,2360 903.5,2360.1 905,2360.1 906.5,2360.1 908,2360.2 909.5,2360.2 911,2360.2 912.5,2360.3 914,2360.3 915.5,2360.3 917,2360.3 918.5,2360.4 920,2360.4 921.5,2360.4 923,2360.5 924.5,2360.5 926,2360.5 927.5,2360.5 929,2360.6 930.5,2360.6 932,2360.6 933.5,2360.6 935,2360.7 936.5,2360.7 938,2360.7 939.5,2360.7 941,2360.7 942.5,2360.8 944,2360.8 945.5,2360.8 947,2360.8 948.5,2360.8 950,2360.9 951.5,2360.9 953,2360.9 954.5,2360.9 956,2360.9 957.5,2361 959,2361 960.5,2361 962,2361 963.5,2361 965,2361.1 966.5,2361.1 968,2361.1 969.5,2361.1 971,2361.1 972.5,2361.2 974,2361.2 975.5,2361.2 977,2361.2 978.5,2361.2 980,2361.3 981.5,2361.3 983,2361.3 984.5,2361.3 986,2361.3 987.5,2361.4 989,2361.4 990.5,2361.4 992,2361.4 993.5,2361.4 995,2361.5 996.5,2361.5 998,2361.5 999.5,2361.5 1001,2361.5 1002.5,2361.6 1004,2361.6 1005.5,2361.6 1007,2361.6 1008.5,2361.6 1010,2361.6 1011.5,2361.7 1013,2361.7 1014.5,2361.7 1016,2361.7 1017.5,2361.7 1019,2361.8 1020.5,2361.8 1022,2361.8 1023.5,2361.8 1025,2361.8 1026.5,2361.9 1028,2361.9 1029.5,2361.9 1031,2361.9 1032.5,2361.9 1034,2361.9 1035.5,2362 1037,2362 1038.5,2362 1040,2362 1041.5,2362 1043,2362 1044.5,2362.1 1046,2362.1 1047.5,2362.1 1049,2362.1 1050.5,2362.1 1052,2362.1 1053.5,2362.2 1055,2362.2 1056.5,2362.2 1058,2362.2 1059.5,2362.2 1061,2362.2 1062.5,2362.3 1064,2362.3 1065.5,2362.3 1067,2362.3 1068.5,2362.3 1070,2362.3 1071.5,2362.4 1073,2362.4 1074.5,2362.4 1076,2362.4 1077.5,2362.4 1079,2362.4 1080.5,2362.4 1082,2362.5 1083.5,2362.5 1085,2362.5 1086.5,2362.5 1088,2362.5 1089.5,2362.5 1091,2362.5 1092.5,2362.5 1094,2362.6 1095.5,2362.6 1097,2362.6 1098.5,2362.6 1100,2362.6 1101.5,2362.6 1103,2362.6 1104.5,2362.6 1106,2362.7 1107.5,2362.7 1109,2362.7 1110.5,2362.7 1112,2362.7 1113.5,2362.7 1115,2362.7 1116.5,2362.7 1118,2362.7 1119.5,2362.8 1121,2362.8 1122.5,2362.8 1124,2362.8 1125.5,2362.8 1127,2362.8 1128.5,2362.8 1130,2362.8 1131.5,2362.8 1133,2362.8 1134.5,2362.8 1136,2362.9 1137.5,2362.9 1139,2362.9 1140.5,2362.9 1142,2362.9 1143.5,2362.9 1145,2362.9 1146.5,2362.9 1148,2362.9 1149.5,2362.9 1151,2362.9 1152.5,2362.9 1154,2362.9 1155.5,2362.9 1157,2362.9 1158.5,2363 1160,2363 1161.5,2363 1163,2363 1164.5,2363 1166,2363 1167.5,2363 1169,2363 1170.5,2363 1172,2363 1173.5,2363 1175,2363 1176.5,2363 1178,2363 1179.5,2363 1180,2363" fill="none" stroke="#FF00FF" stroke-width="9.5" stroke-linejoin="round" stroke-linecap="round"/>
<polyline points="158,2245.4 159.5,2245.3 161,2245.2 162.5,2245.2 164,2245.1 165.5,2245 167,2245 168.5,2244.9 170,2244.9 171.5,2244.8 173,2244.7 174.5,2244.7 176,2244.7 177.5,2244.6 179,2244.6 180.5,2244.6 182,2244.5 183.5,2244.5 185,2244.5 186.5,2244.4 188,2244.4 189.5,2244.4 191,2244.4 192.5,2244.4 194,2244.4 195.5,2244.3 197,2244.3 198.5,2244.3 200,2244.3 201.5,2244.3 203,2244.3 204.5,2244.3 206,2244.3 207.5,2244.3 209,2244.3 210.5,2244.3 212,2244.3 213.5,2244.3 215,2244.3 216.5,2244.3 218,2244.3 219.5,2244.3 221,2244.4 222.5,2244.4 224,2244.5 225.5,2244.5 227,2244.6 228.5,2244.7 230,2244.8 231.5,2245 233,2245.1 234.5,2245.2 236,2245.4 237.5,2245.5 239,2245.7 240.5,2245.9 242,2246 243.5,2246.2 245,2246.4 246.5,2246.6 248,2246.8 249.5,2247.1 251,2247.3 252.5,2247.5 254,2247.7 255.5,2248 257,2248.2 258.5,2248.5 260,2248.7 261.5,2249.1 263,2249.5 264.5,2250.1 266,2250.6 267.5,2251.3 269,2252 270.5,2252.8 272,2253.7 273.5,2254.5 275,2255.5 276.5,2256.4 278,2257.4 279.5,2258.4 281,2259.4 282.5,2260.5 284,2261.5 285.5,2262.6 287,2263.6 288.5,2264.6 290,2265.6 291.5,2266.6 293,2267.5 294.5,2268.4 296,2269.3 297.5,2270.1 299,2270.9 300.5,2271.6 302,2272.2 303.5,2272.8 305,2273.3 306.5,2273.9 308,2274.4 309.5,2275 311,2275.5 312.5,2276 314,2276.5 315.5,2277 317,2277.5 318.5,2277.9 320,2278.4 321.5,2278.8 323,2279.3 324.5,2279.7 326,2280.2 327.5,2280.6 329,2281 330.5,2281.4 332,2281.8 333.5,2282.2 335,2282.6 336.5,2283 338,2283.4 339.5,2283.8 341,2284.1 342.5,2284.5 344,2284.9 345.5,2285.2 347,2285.6 348.5,2286 350,2286.3 351.5,2286.7 353,2287.1 354.5,2287.4 356,2287.8 357.5,2288.2 359,2288.5 360.5,2288.9 362,2289.3 363.5,2289.6 365,2290 366.5,2290.3 368,2290.6 369.5,2291 371,2291.3 372.5,2291.6 374,2291.9 375.5,2292.1 377,2292.4 378.5,2292.7 380,2292.9 381.5,2293.1 383,2293.3 384.5,2293.5 386,2293.7 387.5,2293.8 389,2293.9 390.5,2294.1 392,2294.2 393.5,2294.3 395,2294.4 396.5,2294.5 398,2294.6 399.5,2294.7 401,2294.8 402.5,2294.9 404,2295 405.5,2295.1 407,2295.2 408.5,2295.3 410,2295.3 411.5,2295.4 413,2295.5 414.5,2295.6 416,2295.6 417.5,2295.7 419,2295.8 420.5,2295.8 422,2295.9 423.5,2296 425,2296 426.5,2296.1 428,2296.1 429.5,2296.2 431,2296.3 432.5,2296.3 434,2296.4 435.5,2296.4 437,2296.5 438.5,2296.5 440,2296.6 441.5,2296.7 443,2296.7 444.5,2296.8 446,2296.8 447.5,2296.9 449,2296.9 450.5,2297 452,2297.1 453.5,2297.1 455,2297.2 456.5,2297.2 458,2297.3 459.5,2297.3 461,2297.4 462.5,2297.4 464,2297.5 465.5,2297.5 467,2297.6 468.5,2297.6 470,2297.6 471.5,2297.7 473,2297.7 474.5,2297.8 476,2297.8 477.5,2297.8 479,2297.9 480.5,2297.9 482,2297.9 483.5,2298 485,2298 486.5,2298 488,2298.1 489.5,2298.1 491,2298.2 492.5,2298.2 494,2298.2 495.5,2298.3 497,2298.3 498.5,2298.4 500,2298.4 501.5,2298.5 503,2298.5 504.5,2298.6 506,2298.6 507.5,2298.7 509,2298.8 510.5,2298.8 512,2298.9 513.5,2299 515,2299 516.5,2299.1 518,2299.2 519.5,2299.3 521,2299.4 522.5,2299.5 524,2299.6 525.5,2299.8 527,2300 528.5,2300.1 530,2300.4 531.5,2300.6 533,2300.8 534.5,2301 536,2301.3 537.5,2301.5 539,2301.8 540.5,2302 542,2302.2 543.5,2302.5 545,2302.7 546.5,2302.9 548,2303.1 549.5,2303.2 551,2303.4 552.5,2303.6 554,2303.8 555.5,2304 557,2304.2 558.5,2304.4 560,2304.6 561.5,2304.8 563,2305 564.5,2305.2 566,2305.3 567.5,2305.5 569,2305.7 570.5,2305.9 572,2306 573.5,2306.2 575,2306.3 576.5,2306.5 578,2306.6 579.5,2306.7 581,2306.8 582.5,2306.9 584,2306.9 585.5,2307 587,2307 588.5,2307 590,2306.8 591.5,2306.5 593,2305.9 594.5,2305.3 596,2304.5 597.5,2303.7 599,2302.7 600.5,2301.8 602,2300.7 603.5,2299.7 605,2298.7 606.5,2297.7 608,2296.8 609.5,2295.9 611,2294.9 612.5,2293.9 614,2292.9 615.5,2291.9 617,2290.8 618.5,2289.6 620,2288.3 621.5,2287 623,2285.6 624.5,2284.1 626,2282.5 627.5,2280.7 629,2278.6 630.5,2276.3 632,2273.7 633.5,2270.9 635,2267.9 636.5,2264.7 638,2261.5 639.5,2258.2 641,2254.8 642.5,2251.2 644,2247.4 645.5,2243.5 647,2239.3 648.5,2234.9 650,2230.4 651.5,2225.6 653,2220.6 654.5,2215.3 656,2209.1 657.5,2202.7 659,2197.1 660.5,2192 662,2187.1 663.5,2182.4 665,2177.7 666.5,2172.9 668,2168.1 669.5,2163.4 671,2158.7 672.5,2153.9 674,2149 675.5,2143.9 677,2138.7 678.5,2133.4 680,2128.2 681.5,2123.2 683,2118.4 684.5,2113.9 686,2109.4 687.5,2105.2 689,2101.6 690.5,2099.4 692,2097.5 693.5,2095.9 695,2094.7 696.5,2094 698,2094.2 699.5,2095 701,2096.4 702.5,2098.1 704,2100 705.5,2102.4 707,2105.6 708.5,2109.5 710,2113.9 711.5,2118.5 713,2123.2 714.5,2128.6 716,2134.7 717.5,2141 719,2147.2 720.5,2153.1 722,2158.9 723.5,2164.6 725,2170.1 726.5,2175.4 728,2180.6 729.5,2185.8 731,2190.9 732.5,2195.9 734,2200.8 735.5,2205.8 737,2210.8 738.5,2215.8 740,2220.7 741.5,2225.6 743,2230.3 744.5,2234.9 746,2239.3 747.5,2243.5 749,2247.4 750.5,2251.2 752,2254.9 753.5,2258.5 755,2262.1 756.5,2265.6 758,2269 759.5,2272.3 761,2275.5 762.5,2278.6 764,2281.6 765.5,2284.4 767,2287.2 768.5,2289.8 770,2292.3 771.5,2294.6 773,2296.9 774.5,2299.1 776,2301.2 777.5,2303.3 779,2305.3 780.5,2307.3 782,2309.2 783.5,2311.1 785,2312.9 786.5,2314.6 788,2316.3 789.5,2317.9 791,2319.5 792.5,2321 794,2322.5 795.5,2323.9 797,2325.2 798.5,2326.4 800,2327.6 801.5,2328.7 803,2329.7 804.5,2330.8 806,2331.8 807.5,2332.7 809,2333.7 810.5,2334.6 812,2335.4 813.5,2336.3 815,2337.1 816.5,2337.9 818,2338.6 819.5,2339.4 821,2340.1 822.5,2340.8 824,2341.4 825.5,2342.1 827,2342.7 828.5,2343.3 830,2343.8 831.5,2344.4 833,2344.9 834.5,2345.5 836,2346 837.5,2346.5 839,2347.1 840.5,2347.6 842,2348.1 843.5,2348.6 845,2349.1 846.5,2349.6 848,2350 849.5,2350.5 851,2350.9 852.5,2351.4 854,2351.8 855.5,2352.3 857,2352.7 858.5,2353.1 860,2353.5 861.5,2353.8 863,2354.2 864.5,2354.6 866,2354.9 867.5,2355.2 869,2355.5 870.5,2355.8 872,2356.1 873.5,2356.4 875,2356.7 876.5,2356.9 878,2357.1 879.5,2357.3 881,2357.5 882.5,2357.7 884,2357.9 885.5,2358.1 887,2358.3 888.5,2358.5 890,2358.6 891.5,2358.8 893,2359 894.5,2359.1 896,2359.3 897.5,2359.4 899,2359.6 900.5,2359.8 902,2359.9 903.5,2360 905,2360.2 906.5,2360.3 908,2360.5 909.5,2360.6 911,2360.7 912.5,2360.9 914,2361 915.5,2361.1 917,2361.2 918.5,2361.3 920,2361.5 921.5,2361.6 923,2361.7 924.5,2361.8 926,2361.9 927.5,2362 929,2362.1 930.5,2362.2 932,2362.3 933.5,2362.4 935,2362.5 936.5,2362.5 938,2362.6 939.5,2362.7 941,2362.8 942.5,2362.9 944,2362.9 945.5,2363 947,2363.1 948.5,2363.2 950,2363.2 951.5,2363.3 953,2363.4 954.5,2363.4 956,2363.5 957.5,2363.6 959,2363.6 960.5,2363.7 962,2363.7 963.5,2363.8 965,2363.9 966.5,2363.9 968,2364 969.5,2364 971,2364.1 972.5,2364.1 974,2364.2 975.5,2364.2 977,2364.3 978.5,2364.3 980,2364.4 981.5,2364.4 983,2364.5 984.5,2364.5 986,2364.6 987.5,2364.6 989,2364.7 990.5,2364.7 992,2364.8 993.5,2364.8 995,2364.8 996.5,2364.9 998,2364.9 999.5,2365 1001,2365 1002.5,2365 1004,2365.1 1005.5,2365.1 1007,2365.2 1008.5,2365.2 1010,2365.2 1011.5,2365.3 1013,2365.3 1014.5,2365.3 1016,2365.4 1017.5,2365.4 1019,2365.5 1020.5,2365.5 1022,2365.5 1023.5,2365.6 1025,2365.6 1026.5,2365.6 1028,2365.7 1029.5,2365.7 1031,2365.7 1032.5,2365.8 1034,2365.8 1035.5,2365.8 1037,2365.9 1038.5,2365.9 1040,2365.9 1041.5,2366 1043,2366 1044.5,2366 1046,2366.1 1047.5,2366.1 1049,2366.1 1050.5,2366.2 1052,2366.2 1053.5,2366.2 1055,2366.3 1056.5,2366.3 1058,2366.3 1059.5,2366.4 1061,2366.4 1062.5,2366.4 1064,2366.5 1065.5,2366.5 1067,2366.5 1068.5,2366.6 1070,2366.6 1071.5,2366.6 1073,2366.7 1074.5,2366.7 1076,2366.7 1077.5,2366.7 1079,2366.8 1080.5,2366.8 1082,2366.8 1083.5,2366.9 1085,2366.9 1086.5,2366.9 1088,2367 1089.5,2367 1091,2367 1092.5,2367 1094,2367.1 1095.5,2367.1 1097,2367.1 1098.5,2367.2 1100,2367.2 1101.5,2367.2 1103,2367.2 1104.5,2367.3 1106,2367.3 1107.5,2367.3 1109,2367.4 1110.5,2367.4 1112,2367.4 1113.5,2367.4 1115,2367.5 1116.5,2367.5 1118,2367.5 1119.5,2367.5 1121,2367.6 1122.5,2367.6 1124,2367.6 1125.5,2367.7 1127,2367.7 1128.5,2367.7 1130,2367.7 1131.5,2367.7 1133,2367.8 1134.5,2367.8 1136,2367.8 1137.5,2367.8 1139,2367.9 1140.5,2367.9 1142,2367.9 1143.5,2367.9 1145,2368 1146.5,2368 1148,2368 1149.5,2368 1151,2368 1152.5,2368.1 1154,2368.1 1155.5,2368.1 1157,2368.1 1158.5,2368.1 1160,2368.2 1161.5,2368.2 1163,2368.2 1164.5,2368.2 1166,2368.2 1167.5,2368.3 1169,2368.3 1170.5,2368.3 1172,2368.3 1173.5,2368.3 1175,2368.3 1176.5,2368.4 1178,2368.4 1179.5,2368.4 1180,2368.4" fill="none" stroke="#9A9A24" stroke-width="9.5" stroke-linejoin="round" stroke-linecap="round"/>
<line x1="461.5" y1="1437.5" x2="306.6" y2="1481.2" stroke="#FF6600" stroke-width="9.5" stroke-linecap="round"/>
<line x1="670.5" y1="1674.7" x2="572.8" y2="1790.2" stroke="#FF00FF" stroke-width="9.5" stroke-linecap="round"/>
<line x1="820" y1="2091.5" x2="716.4" y2="2120.3" stroke="#9A9A24" stroke-width="9.5" stroke-linecap="round"/>
<text x="470" y="1423.8" font-family="Liberation Serif, serif" font-size="62" font-weight="normal" fill="#FF6600">NO</text>
<text x="560.2" y="1440.8" font-family="Liberation Serif, serif" font-size="37" font-weight="normal" fill="#FF6600">X</text>
<text x="605.4" y="1640.5" font-family="Liberation Serif, serif" font-size="62" font-weight="normal" fill="#FF00FF">Pyridinic/Pyrrolic</text>
<text x="819.9" y="2076" font-family="Liberation Serif, serif" font-size="61.7" font-weight="normal" fill="#9A9A24">Metal nitrides</text>
<ellipse cx="164.5" cy="1419.7" rx="102" ry="98.7" fill="#fff" stroke="#000" stroke-width="11"/>
<text transform="translate(165,1477.5) scale(0.965,0.965)" x="-46" y="0" font-family="Liberation Sans, sans-serif" font-size="165" fill="#000" stroke="#000" stroke-width="3" stroke-linejoin="round">b</text>
<rect x="1342.5" y="1322" width="1072.5" height="1071" fill="none" stroke="#000" stroke-width="10.5" stroke-linejoin="round"/>
<line x1="1419" y1="2393" x2="1419" y2="2428" stroke="#000" stroke-width="10.5" stroke-linecap="round"/>
<g transform="translate(1419,0) scale(1.045,1) translate(-1419,0)">
<text x="1383" y="2491" font-family="Liberation Serif, serif" font-size="48" font-weight="bold" fill="#000">544</text>
</g>
<line x1="1626.4" y1="2393" x2="1626.4" y2="2428" stroke="#000" stroke-width="10.5" stroke-linecap="round"/>
<g transform="translate(1626.4,0) scale(1.045,1) translate(-1626.4,0)">
<text x="1590.4" y="2491" font-family="Liberation Serif, serif" font-size="48" font-weight="bold" fill="#000">540</text>
</g>
<line x1="1833.9" y1="2393" x2="1833.9" y2="2428" stroke="#000" stroke-width="10.5" stroke-linecap="round"/>
<g transform="translate(1833.9,0) scale(1.045,1) translate(-1833.9,0)">
<text x="1797.9" y="2491" font-family="Liberation Serif, serif" font-size="48" font-weight="bold" fill="#000">536</text>
</g>
<line x1="2041.3" y1="2393" x2="2041.3" y2="2428" stroke="#000" stroke-width="10.5" stroke-linecap="round"/>
<g transform="translate(2041.3,0) scale(1.045,1) translate(-2041.3,0)">
<text x="2005.3" y="2491" font-family="Liberation Serif, serif" font-size="48" font-weight="bold" fill="#000">532</text>
</g>
<line x1="2248.8" y1="2393" x2="2248.8" y2="2428" stroke="#000" stroke-width="10.5" stroke-linecap="round"/>
<g transform="translate(2248.8,0) scale(1.045,1) translate(-2248.8,0)">
<text x="2212.8" y="2491" font-family="Liberation Serif, serif" font-size="48" font-weight="bold" fill="#000">528</text>
</g>
<line x1="1522.7" y1="2393" x2="1522.7" y2="2410" stroke="#000" stroke-width="10.5" stroke-linecap="round"/>
<line x1="1730.2" y1="2393" x2="1730.2" y2="2410" stroke="#000" stroke-width="10.5" stroke-linecap="round"/>
<line x1="1937.6" y1="2393" x2="1937.6" y2="2410" stroke="#000" stroke-width="10.5" stroke-linecap="round"/>
<line x1="2145" y1="2393" x2="2145" y2="2410" stroke="#000" stroke-width="10.5" stroke-linecap="round"/>
<line x1="2352.5" y1="2393" x2="2352.5" y2="2410" stroke="#000" stroke-width="10.5" stroke-linecap="round"/>
<text x="1534.2" y="2566.5" font-family="Liberation Serif, serif" font-size="74.9" font-weight="bold" fill="#000">Binding energy (eV)</text>
<text transform="translate(1300.8,2092.8) rotate(-90)" x="0" y="0" font-family="Liberation Serif, serif" font-size="75.7" font-weight="bold" fill="#000">Intensity (a.u.)</text>
<polyline points="1368.6,2193.7 1377.6,2197.4 1386.5,2191.6 1391.2,2195.7 1395.5,2199.5 1404.4,2195.2 1411.6,2197.8 1413.2,2199 1421.1,2189.1 1429.1,2189.7 1430,2188 1437.4,2181.5 1445.7,2185.1 1446.4,2181.4 1454.6,2180.3 1463.4,2186.3 1471,2185.5 1472.3,2183.4 1481.3,2186.4 1490.2,2181.1 1491.4,2183.4 1498.8,2188.5 1503.7,2187.5 1505.1,2188.4 1508.3,2203.5 1511.6,2204.5 1514.9,2219.2 1518,2224.4 1518.2,2220.2 1523.9,2219.1 1529.7,2208.7 1530,2210 1538.5,2212.9 1547.5,2208.7 1554.9,2210 1556.5,2211.7 1565.2,2209.9 1574,2217.2 1575,2215 1582.2,2214.5 1590.4,2224.9 1595.8,2224.4 1598.8,2222.5 1607.5,2229.9 1612.2,2228.5 1616.2,2227.7 1624.9,2233.3 1626.5,2232.5 1633.8,2231.5 1642.8,2237.3 1646.9,2234.6 1651.7,2233.6 1660.6,2238.9 1669.5,2236.9 1673.5,2238.7 1678.2,2240.9 1686.9,2233.3 1687.9,2234.6 1695.5,2238.8 1704.2,2235.8 1708.3,2240.7 1712.6,2241.6 1720,2236 1721,2232.2 1729.9,2237 1738.7,2229 1740,2232 1740.8,2225.8 1741.7,2212.7 1742.6,2209.1 1743.1,2201.3 1745.8,2198.6 1747.4,2197 1753.7,2194.6 1762.1,2191.4 1764.6,2190.5 1770.9,2191.4 1779.7,2192.6 1779.7,2192.5 1780.7,2183.6 1781.7,2174.6 1781.9,2173.3 1788.8,2169.9 1790.5,2169 1793.6,2162.7 1796.9,2156 1798.4,2155.8 1807.4,2154.5 1812,2153.9 1813.4,2149.8 1816.2,2141.3 1819.1,2132.7 1821.9,2124.2 1822.8,2121.6 1824.2,2115.5 1826.3,2106.7 1828.3,2098 1830.4,2089.2 1832.4,2080.4 1834.5,2071.7 1836.5,2062.9 1837.9,2057 1838.7,2054.2 1841.3,2045.6 1843.9,2037 1846.5,2028.3 1849.1,2019.7 1850.8,2013.9 1851.2,2011 1852.4,2002.1 1853.6,1993.2 1854.7,1984.2 1855.9,1975.3 1857.1,1966.4 1858.3,1957.5 1859.4,1949.2 1859.5,1948.5 1861,1939.7 1862.5,1930.8 1864,1921.9 1865.4,1913 1866.9,1904.2 1868.4,1895.3 1869.9,1886.4 1870.2,1884.6 1871.2,1877.5 1872.5,1868.6 1873.7,1859.7 1875,1850.8 1876.2,1841.9 1877.5,1832.9 1878.7,1824 1879.2,1820.8 1879.8,1815.1 1880.7,1806.1 1881.5,1797.2 1882.4,1788.2 1883.3,1779.3 1884.2,1770.3 1885.1,1761.4 1885.6,1756.2 1886.1,1752.4 1887.3,1743.5 1888.5,1734.6 1889.7,1725.7 1890.9,1716.7 1892.1,1707.8 1892.1,1707.7 1893,1698.9 1893.9,1689.9 1894.7,1680.9 1895.6,1672 1896.5,1663 1896.9,1659.2 1897.5,1654.1 1898.7,1645.2 1899.8,1636.2 1900.9,1627.3 1902,1618.4 1903.1,1609.4 1904.3,1600.5 1905,1594.6 1905.4,1591.6 1906.5,1582.7 1907.6,1573.7 1908.7,1564.8 1909.9,1555.9 1911,1546.9 1912.1,1538 1913.1,1530 1913.2,1529.1 1914.1,1520.1 1915,1511.2 1915.9,1502.2 1916,1501.6 1917.4,1493.3 1918.9,1484.4 1920.3,1475.6 1921.4,1469.2 1922.2,1466.8 1925.2,1458.3 1928.2,1449.8 1929,1447.7 1929.3,1441 1929.8,1432 1930.2,1423 1930.6,1414 1931.1,1405 1931.1,1404.6 1935.5,1397.2 1937.5,1393.9 1937.9,1399 1938.7,1408 1939.5,1416.9 1940.3,1425.9 1940.8,1431.5 1941.1,1428.1 1941.9,1419.2 1942.7,1410.2 1943.5,1401.2 1944.3,1392.3 1945.1,1383.3 1945.1,1383.1 1946.3,1374.4 1947.5,1365.5 1948.3,1359.4 1948.8,1362.2 1950.5,1371.1 1952.3,1379.9 1953.7,1387.4 1954.6,1386.4 1960.7,1379.8 1966.9,1373.2 1967.7,1372.3 1970.6,1379.5 1972,1383.1 1974.3,1387.7 1978.4,1395.7 1978.5,1396 1985.4,1401.2 1987.1,1402.5 1987.1,1409.4 1987.1,1418.4 1987.1,1427.4 1987.1,1436.4 1987.1,1445.4 1987.1,1447.7 1987.6,1454.4 1988.3,1463.4 1989,1472.3 1989.2,1474.6 1995.1,1477.9 1998.9,1480 1999.8,1484.5 2001.6,1493.4 2003.2,1501.6 2003.3,1502.2 2005.5,1510.9 2007.7,1519.6 2008.6,1523.1 2009.2,1528.5 2010.2,1537.4 2011.2,1546.4 2012.2,1555.3 2013.2,1564.3 2014.1,1573.2 2015.1,1582.2 2016.1,1591.1 2016.5,1594.6 2017.4,1600 2018.9,1608.9 2020.4,1617.8 2021.9,1626.7 2023.3,1635.5 2024.6,1643.1 2024.7,1644.4 2025.6,1653.4 2026.5,1662.3 2027.4,1671.3 2028.3,1680.2 2029.2,1689.2 2029.4,1691.6 2030.2,1698.1 2031.3,1707.1 2032.5,1716 2033.6,1724.9 2034.7,1733.9 2035.8,1742.8 2036.9,1751.7 2037.5,1756.2 2038.2,1760.6 2039.5,1769.5 2040.8,1778.4 2042.2,1787.3 2043.5,1796.2 2044.8,1805.1 2046.2,1814 2047.2,1820.8 2047.5,1822.9 2049,1831.8 2050.4,1840.7 2051.9,1849.6 2053.3,1858.5 2054.8,1867.3 2056.2,1876.2 2057.6,1884.6 2057.7,1885.1 2058.7,1894.1 2059.7,1903 2060.7,1911.9 2061.7,1920.9 2062.8,1929.8 2063.8,1938.8 2064.8,1947.7 2065.8,1956.7 2066.2,1960 2066.8,1965.6 2067.9,1974.5 2068.9,1983.5 2069.9,1992.4 2070.9,2001.4 2071.9,2010.3 2073,2019.2 2074,2028.2 2074.8,2035.4 2075,2037.1 2076.2,2046 2077.4,2055 2078.6,2063.9 2079.8,2072.8 2081,2081.7 2082.2,2090.7 2083.3,2099.6 2083.4,2100 2084.9,2108.4 2086.6,2117.3 2088.2,2126.1 2089.1,2131.2 2089.7,2135 2091,2143.9 2092.4,2152.8 2093.8,2161.7 2094.2,2164.6 2097.6,2169.6 2099.3,2172.1 2099.9,2178.1 2100.8,2187 2101.7,2196 2102.6,2204.9 2103.4,2213 2103.7,2213.8 2106.5,2222.4 2109.4,2230.9 2112.3,2239.4 2113.7,2243.7 2117.7,2245.7 2125.8,2249.7 2125.9,2249.8 2130.3,2257.5 2134.1,2264.2 2134.1,2265.5 2134.1,2274.5 2134.1,2283.5 2134.1,2284.6 2141.2,2284.5 2146.4,2290.8 2147.6,2295.9 2151.2,2299.1 2152.5,2305.1 2157.3,2303.7 2165.2,2295.6 2166.9,2296.9 2173.2,2302.2 2181.2,2302.5 2183.2,2305.1 2189.3,2311.5 2197.5,2309.6 2205.6,2319.6 2213.7,2316.6 2218,2321.5 2222.3,2324.1 2231.3,2317.5 2240.2,2322.8 2244.6,2319.4 2249.1,2318.7 2257.9,2324.5 2266.8,2322 2275.6,2327.9 2284.4,2325.9 2285.5,2327.6 2293.4,2331.1 2302.4,2324.9 2311.4,2329.4 2320.3,2323.8 2326.5,2325.5 2329.3,2329.1 2338.3,2322.4 2347.3,2327.1 2356.3,2321.9 2363.3,2325.5 2365.3,2329.1 2374.3,2320.5 2383.2,2326 2385,2323" fill="none" stroke="#000" stroke-width="10" stroke-linejoin="round" stroke-linecap="round"/>
<polyline points="1360.5,2203.9 1362.5,2203.8 1364.5,2203.8 1366.5,2203.7 1368.5,2203.7 1370.5,2203.6 1372.5,2203.6 1374.5,2203.5 1376.5,2203.5 1378.5,2203.4 1380.5,2203.3 1382.5,2203.3 1384.5,2203.2 1386.5,2203.2 1388.5,2203.1 1390.5,2203 1392.5,2203 1394.5,2202.9 1396.5,2202.8 1398.5,2202.8 1400.5,2202.7 1402.5,2202.7 1404.5,2202.6 1406.5,2202.5 1408.5,2202.5 1410.5,2202.4 1412.5,2202.3 1414.5,2202.3 1416.5,2202.2 1418.5,2202.1 1420.5,2202 1422.5,2202 1424.5,2201.9 1426.5,2201.8 1428.5,2201.8 1430.5,2201.7 1432.5,2201.6 1434.5,2201.5 1436.5,2201.5 1438.5,2201.4 1440.5,2201.3 1442.5,2201.3 1444.5,2201.2 1446.5,2201.1 1448.5,2201 1450.5,2200.9 1452.5,2200.9 1454.5,2200.8 1456.5,2200.7 1458.5,2200.6 1460.5,2200.6 1462.5,2200.5 1464.5,2200.4 1466.5,2200.3 1468.5,2200.2 1470.5,2200.2 1472.5,2200.1 1474.5,2200 1476.5,2199.9 1478.5,2199.8 1480.5,2199.8 1482.5,2199.7 1484.5,2199.6 1486.5,2199.5 1488.5,2199.4 1490.5,2199.4 1492.5,2199.3 1494.5,2199.2 1496.5,2199.1 1498.5,2199 1500.5,2198.9 1502.5,2198.9 1504.5,2198.8 1506.5,2198.7 1508.5,2198.6 1510.5,2198.5 1512.5,2198.4 1514.5,2198.4 1516.5,2198.3 1518.5,2198.2 1520.5,2198.1 1522.5,2198 1524.5,2197.9 1526.5,2197.9 1528.5,2197.8 1530.5,2197.7 1532.5,2197.6 1534.5,2197.5 1536.5,2197.4 1538.5,2197.4 1540.5,2197.3 1542.5,2197.2 1544.5,2197.1 1546.5,2197 1548.5,2196.9 1550.5,2196.8 1552.5,2196.7 1554.5,2196.6 1556.5,2196.5 1558.5,2196.4 1560.5,2196.3 1562.5,2196.2 1564.5,2196.1 1566.5,2196 1568.5,2195.8 1570.5,2195.7 1572.5,2195.6 1574.5,2195.5 1576.5,2195.3 1578.5,2195.2 1580.5,2195.1 1582.5,2194.9 1584.5,2194.8 1586.5,2194.6 1588.5,2194.5 1590.5,2194.3 1592.5,2194.1 1594.5,2193.9 1596.5,2193.7 1598.5,2193.5 1600.5,2193.3 1602.5,2193.1 1604.5,2192.9 1606.5,2192.6 1608.5,2192.4 1610.5,2192.1 1612.5,2191.9 1614.5,2191.6 1616.5,2191.3 1618.5,2191.1 1620.5,2190.8 1622.5,2190.5 1624.5,2190.2 1626.5,2189.9 1628.5,2189.6 1630.5,2189.2 1632.5,2188.9 1634.5,2188.6 1636.5,2188.3 1638.5,2187.9 1640.5,2187.6 1642.5,2187.3 1644.5,2186.9 1646.5,2186.6 1648.5,2186.2 1650.5,2185.8 1652.5,2185.5 1654.5,2185.1 1656.5,2184.6 1658.5,2184.2 1660.5,2183.8 1662.5,2183.3 1664.5,2182.9 1666.5,2182.4 1668.5,2181.9 1670.5,2181.4 1672.5,2180.9 1674.5,2180.4 1676.5,2179.9 1678.5,2179.3 1680.5,2178.8 1682.5,2178.2 1684.5,2177.7 1686.5,2177.1 1688.5,2176.6 1690.5,2176 1692.5,2175.5 1694.5,2174.9 1696.5,2174.3 1698.5,2173.7 1700.5,2173.2 1702.5,2172.6 1704.5,2172 1706.5,2171.4 1708.5,2170.8 1710.5,2170.1 1712.5,2169.5 1714.5,2168.9 1716.5,2168.2 1718.5,2167.5 1720.5,2166.8 1722.5,2166.1 1724.5,2165.4 1726.5,2164.7 1728.5,2164 1730.5,2163.2 1732.5,2162.4 1734.5,2161.6 1736.5,2160.8 1738.5,2160 1740.5,2159.2 1742.5,2158.4 1744.5,2157.6 1746.5,2156.7 1748.5,2155.8 1750.5,2154.9 1752.5,2153.9 1754.5,2152.9 1756.5,2151.9 1758.5,2150.9 1760.5,2149.8 1762.5,2148.6 1764.5,2147.5 1766.5,2146.2 1768.5,2144.8 1770.5,2143.4 1772.5,2141.8 1774.5,2140.2 1776.5,2138.5 1778.5,2136.8 1780.5,2135 1782.5,2133.2 1784.5,2131.4 1786.5,2129.6 1788.5,2127.7 1790.5,2125.9 1792.5,2124.1 1794.5,2122.3 1796.5,2120.4 1798.5,2118.6 1800.5,2116.6 1802.5,2114.6 1804.5,2112.5 1806.5,2110.3 1808.5,2108 1810.5,2105.4 1812.5,2102.7 1814.5,2099.7 1816.5,2096.6 1818.5,2093.2 1820.5,2089.5 1822.5,2085.5 1824.5,2081.2 1826.5,2076.5 1828.5,2071.6 1830.5,2066.6 1832.5,2061.2 1834.5,2055.5 1836.5,2049.5 1838.5,2043.2 1840.5,2036.5 1842.5,2029.2 1844.5,2021.5 1846.5,2013.6 1848.5,2005.6 1850.5,1997.5 1852.5,1989.3 1854.5,1980.9 1856.5,1972.2 1858.5,1963.1 1860.5,1953.6 1862.5,1944 1864.5,1933.9 1866.5,1923.2 1868.5,1911.6 1870.5,1898.8 1872.5,1883.7 1874.5,1866.6 1876.5,1848.7 1878.5,1831.1 1880.5,1814.3 1882.5,1797.7 1884.5,1781 1886.5,1764 1888.5,1746.7 1890.5,1728.8 1892.5,1710.2 1894.5,1691.3 1896.5,1672.5 1898.5,1654.2 1900.5,1636.8 1902.5,1619.9 1904.5,1603.4 1906.5,1587.2 1908.5,1571 1910.5,1554.9 1912.5,1538.5 1914.5,1521.5 1916.5,1504.2 1918.5,1487 1920.5,1470.7 1922.5,1455.9 1924.5,1442.5 1926.5,1429.4 1928.5,1417 1930.5,1405.7 1932.5,1396 1934.5,1388.3 1936.5,1381.5 1938.5,1374.9 1940.5,1369.4 1942.5,1365.6 1944.5,1364.2 1946.5,1364.8 1948.5,1366.5 1950.5,1369 1952.5,1371.9 1954.5,1375 1956.5,1378.7 1958.5,1383.5 1960.5,1389 1962.5,1394.6 1964.5,1399.7 1966.5,1404.5 1968.5,1409.6 1970.5,1414.4 1972.5,1418 1974.5,1419.8 1976.5,1420.8 1978.5,1421.5 1980.5,1422.1 1982.5,1422.6 1984.5,1422.8 1986.5,1422.9 1988.5,1422.9 1990.5,1422.9 1992.5,1422.9 1994.5,1422.9 1996.5,1422.9 1998.5,1424.1 2000.5,1428.1 2002.5,1434.3 2004.5,1441.8 2006.5,1449.9 2008.5,1460.3 2010.5,1474.4 2012.5,1491 2014.5,1509 2016.5,1527.3 2018.5,1545.8 2020.5,1565.8 2022.5,1587 2024.5,1609 2026.5,1631.6 2028.5,1654.3 2030.5,1678.1 2032.5,1702.6 2034.5,1727.6 2036.5,1752.6 2038.5,1777.1 2040.5,1801.8 2042.5,1826.6 2044.5,1851.1 2046.5,1874.5 2048.5,1896.4 2050.5,1917.4 2052.5,1937.7 2054.5,1956.9 2056.5,1974.7 2058.5,1990.8 2060.5,2005.6 2062.5,2019.5 2064.5,2032.6 2066.5,2045.1 2068.5,2057.1 2070.5,2068.7 2072.5,2079.9 2074.5,2090.6 2076.5,2100.6 2078.5,2109.7 2080.5,2118.1 2082.5,2125.9 2084.5,2133.3 2086.5,2140.2 2088.5,2146.6 2090.5,2152.7 2092.5,2158.4 2094.5,2163.7 2096.5,2168.8 2098.5,2173.7 2100.5,2178.4 2102.5,2183 2104.5,2187.5 2106.5,2191.8 2108.5,2195.8 2110.5,2199.5 2112.5,2202.9 2114.5,2206 2116.5,2209 2118.5,2211.8 2120.5,2214.6 2122.5,2217.4 2124.5,2220.2 2126.5,2223 2128.5,2225.8 2130.5,2228.5 2132.5,2231.2 2134.5,2233.7 2136.5,2236 2138.5,2238.2 2140.5,2240.2 2142.5,2241.9 2144.5,2243.4 2146.5,2244.9 2148.5,2246.3 2150.5,2247.7 2152.5,2249 2154.5,2250.3 2156.5,2251.5 2158.5,2252.7 2160.5,2253.8 2162.5,2254.9 2164.5,2255.9 2166.5,2256.9 2168.5,2257.9 2170.5,2258.8 2172.5,2259.7 2174.5,2260.6 2176.5,2261.5 2178.5,2262.3 2180.5,2263.1 2182.5,2263.9 2184.5,2264.7 2186.5,2265.5 2188.5,2266.3 2190.5,2267 2192.5,2267.7 2194.5,2268.5 2196.5,2269.2 2198.5,2269.9 2200.5,2270.6 2202.5,2271.3 2204.5,2271.9 2206.5,2272.6 2208.5,2273.2 2210.5,2273.9 2212.5,2274.5 2214.5,2275.1 2216.5,2275.7 2218.5,2276.3 2220.5,2276.8 2222.5,2277.4 2224.5,2277.9 2226.5,2278.4 2228.5,2279 2230.5,2279.5 2232.5,2279.9 2234.5,2280.4 2236.5,2280.9 2238.5,2281.3 2240.5,2281.8 2242.5,2282.2 2244.5,2282.6 2246.5,2283 2248.5,2283.4 2250.5,2283.7 2252.5,2284.1 2254.5,2284.5 2256.5,2284.8 2258.5,2285.2 2260.5,2285.5 2262.5,2285.8 2264.5,2286.2 2266.5,2286.5 2268.5,2286.8 2270.5,2287.1 2272.5,2287.4 2274.5,2287.7 2276.5,2288 2278.5,2288.3 2280.5,2288.6 2282.5,2288.8 2284.5,2289.1 2286.5,2289.4 2288.5,2289.6 2290.5,2289.9 2292.5,2290.1 2294.5,2290.4 2296.5,2290.6 2298.5,2290.9 2300.5,2291.1 2302.5,2291.4 2304.5,2291.6 2306.5,2291.9 2308.5,2292.1 2310.5,2292.3 2312.5,2292.5 2314.5,2292.7 2316.5,2292.9 2318.5,2293.1 2320.5,2293.3 2322.5,2293.5 2324.5,2293.7 2326.5,2293.9 2328.5,2294.1 2330.5,2294.3 2332.5,2294.4 2334.5,2294.6 2336.5,2294.8 2338.5,2295 2340.5,2295.1 2342.5,2295.3 2344.5,2295.5 2346.5,2295.7 2348.5,2295.9 2350.5,2296 2352.5,2296.2 2354.5,2296.4 2356.5,2296.6 2358.5,2296.9 2360.5,2297.1 2362.5,2297.3 2364.5,2297.5 2366.5,2297.8 2368.5,2298 2370.5,2298.3 2372.5,2298.6 2374.5,2298.9 2376.5,2299.2 2378.5,2299.5 2380.5,2299.8 2382.5,2300.1 2384.5,2300.4 2386.5,2300.8 2388.5,2301.1 2390.5,2301.5 2392.5,2301.8 2394.5,2302.2 2396.5,2302.6 2398.5,2302.9 2400.5,2303.3 2402.5,2303.7 2404.2,2304" fill="none" stroke="#000" stroke-width="2.2" stroke-linejoin="round"/>
<g fill="#FF0000"><circle cx="1819.5" cy="2091.4" r="9.8"/><circle cx="1829.2" cy="2069.9" r="9.8"/><circle cx="1838.9" cy="2041.9" r="9.8"/><circle cx="1848.6" cy="2005.2" r="9.8"/><circle cx="1859.4" cy="1958.9" r="9.8"/><circle cx="1870.2" cy="1900.8" r="9.8"/><circle cx="1878.8" cy="1828.6" r="9.8"/><circle cx="1888.9" cy="1743.2" r="9.8"/><circle cx="1899.4" cy="1646.3" r="9.8"/><circle cx="1912.2" cy="1541" r="9.8"/><circle cx="1923" cy="1452.5" r="9.8"/><circle cx="1934.3" cy="1389" r="9.8"/><circle cx="1944.5" cy="1364.2" r="9.8"/><circle cx="1954.8" cy="1375.5" r="9.8"/><circle cx="1965" cy="1400.9" r="9.8"/><circle cx="1974.2" cy="1419.7" r="9.8"/><circle cx="1986" cy="1422.9" r="9.8"/><circle cx="1996.8" cy="1422.9" r="9.8"/><circle cx="2006.5" cy="1449.9" r="9.8"/><circle cx="2016.8" cy="1530" r="9.8"/><circle cx="2027.8" cy="1646.3" r="9.8"/><circle cx="2038.3" cy="1774.7" r="9.8"/><circle cx="2047.9" cy="1890" r="9.8"/><circle cx="2057.6" cy="1983.7" r="9.8"/><circle cx="2068.3" cy="2055.9" r="9.8"/><circle cx="2078.5" cy="2109.7" r="9.8"/><circle cx="2089.1" cy="2148.5" r="9.8"/><circle cx="2100.4" cy="2178.2" r="9.8"/><circle cx="2110.6" cy="2199.7" r="9.8"/><circle cx="2120.8" cy="2215" r="9.8"/><circle cx="1809" cy="2107.4" r="9.8"/><circle cx="1798.5" cy="2118.6" r="9.8"/><circle cx="1788" cy="2128.2" r="9.8"/><circle cx="1777.5" cy="2137.7" r="9.8"/><circle cx="1767" cy="2145.9" r="9.8"/><circle cx="1756.5" cy="2151.9" r="9.8"/><circle cx="1746" cy="2156.9" r="9.8"/><circle cx="1735.5" cy="2161.2" r="9.8"/><circle cx="1725" cy="2165.2" r="9.8"/><circle cx="1714.5" cy="2168.9" r="9.8"/><circle cx="1704" cy="2172.1" r="9.8"/><circle cx="1693.5" cy="2175.2" r="9.8"/><circle cx="1683" cy="2178.1" r="9.8"/><circle cx="1672.5" cy="2180.9" r="9.8"/><circle cx="1662" cy="2183.4" r="9.8"/><circle cx="1651.5" cy="2185.7" r="9.8"/><circle cx="1641" cy="2187.5" r="9.8"/><circle cx="1630.5" cy="2189.2" r="9.8"/><circle cx="1620" cy="2190.8" r="9.8"/><circle cx="1609.5" cy="2192.3" r="9.8"/><circle cx="1599" cy="2193.5" r="9.8"/><circle cx="1588.5" cy="2194.5" r="9.8"/><circle cx="1578" cy="2195.2" r="9.8"/><circle cx="1567.5" cy="2195.9" r="9.8"/><circle cx="1557" cy="2196.5" r="9.8"/><circle cx="1546.5" cy="2197" r="9.8"/><circle cx="1536" cy="2197.5" r="9.8"/><circle cx="1525.5" cy="2197.9" r="9.8"/><circle cx="1515" cy="2198.3" r="9.8"/><circle cx="1504.5" cy="2198.8" r="9.8"/><circle cx="1494" cy="2199.2" r="9.8"/><circle cx="1483.5" cy="2199.6" r="9.8"/><circle cx="1473" cy="2200.1" r="9.8"/><circle cx="1462.5" cy="2200.5" r="9.8"/><circle cx="1452" cy="2200.9" r="9.8"/><circle cx="1441.5" cy="2201.3" r="9.8"/><circle cx="1431" cy="2201.7" r="9.8"/><circle cx="1420.5" cy="2202" r="9.8"/><circle cx="1410" cy="2202.4" r="9.8"/><circle cx="1399.5" cy="2202.8" r="9.8"/><circle cx="1389" cy="2203.1" r="9.8"/><circle cx="1378.5" cy="2203.4" r="9.8"/><circle cx="1368" cy="2203.7" r="9.8"/><circle cx="2131.3" cy="2229.6" r="9.8"/><circle cx="2141.8" cy="2241.3" r="9.8"/><circle cx="2152.3" cy="2248.9" r="9.8"/><circle cx="2162.8" cy="2255" r="9.8"/><circle cx="2173.3" cy="2260.1" r="9.8"/><circle cx="2183.8" cy="2264.4" r="9.8"/><circle cx="2194.3" cy="2268.4" r="9.8"/><circle cx="2204.8" cy="2272" r="9.8"/><circle cx="2215.3" cy="2275.3" r="9.8"/><circle cx="2225.8" cy="2278.3" r="9.8"/><circle cx="2236.3" cy="2280.8" r="9.8"/><circle cx="2246.8" cy="2283" r="9.8"/><circle cx="2257.3" cy="2285" r="9.8"/><circle cx="2267.8" cy="2286.7" r="9.8"/><circle cx="2278.3" cy="2288.2" r="9.8"/><circle cx="2288.8" cy="2289.7" r="9.8"/><circle cx="2299.3" cy="2291" r="9.8"/><circle cx="2309.8" cy="2292.2" r="9.8"/><circle cx="2320.3" cy="2293.3" r="9.8"/><circle cx="2330.8" cy="2294.3" r="9.8"/><circle cx="2341.3" cy="2295.2" r="9.8"/><circle cx="2351.8" cy="2296.2" r="9.8"/><circle cx="2362.3" cy="2297.3" r="9.8"/><circle cx="2372.8" cy="2298.6" r="9.8"/><circle cx="2383.3" cy="2300.2" r="9.8"/><circle cx="2393.8" cy="2302.1" r="9.8"/><circle cx="2404.3" cy="2304" r="9.8"/></g>
<polyline points="1360.5,2219.2 1362,2219.2 1363.5,2219.2 1365,2219.2 1366.5,2219.2 1368,2219.2 1369.5,2219.2 1371,2219.2 1372.5,2219.2 1374,2219.2 1375.5,2219.2 1377,2219.2 1378.5,2219.2 1380,2219.2 1381.5,2219.2 1383,2219.2 1384.5,2219.2 1386,2219.2 1387.5,2219.2 1389,2219.2 1390.5,2219.2 1392,2219.2 1393.5,2219.2 1395,2219.2 1396.5,2219.2 1398,2219.2 1399.5,2219.2 1401,2219.2 1402.5,2219.2 1404,2219.2 1405.5,2219.2 1407,2219.2 1408.5,2219.2 1410,2219.2 1411.5,2219.2 1413,2219.2 1414.5,2219.2 1416,2219.2 1417.5,2219.2 1419,2219.2 1420.5,2219.2 1422,2219.2 1423.5,2219.2 1425,2219.2 1426.5,2219.2 1428,2219.2 1429.5,2219.2 1431,2219.2 1432.5,2219.2 1434,2219.2 1435.5,2219.2 1437,2219.2 1438.5,2219.2 1440,2219.2 1441.5,2219.2 1443,2219.2 1444.5,2219.2 1446,2219.2 1447.5,2219.2 1449,2219.2 1450.5,2219.2 1452,2219.2 1453.5,2219.2 1455,2219.2 1456.5,2219.2 1458,2219.2 1459.5,2219.2 1461,2219.2 1462.5,2219.2 1464,2219.2 1465.5,2219.2 1467,2219.2 1468.5,2219.2 1470,2219.2 1471.5,2219.2 1473,2219.2 1474.5,2219.2 1476,2219.2 1477.5,2219.2 1479,2219.2 1480.5,2219.2 1482,2219.2 1483.5,2219.2 1485,2219.2 1486.5,2219.2 1488,2219.2 1489.5,2219.2 1491,2219.2 1492.5,2219.2 1494,2219.2 1495.5,2219.2 1497,2219.2 1498.5,2219.2 1500,2219.2 1501.5,2219.2 1503,2219.2 1504.5,2219.2 1506,2219.2 1507.5,2219.2 1509,2219.2 1510.5,2219.2 1512,2219.2 1513.5,2219.2 1515,2219.2 1516.5,2219.2 1518,2219.2 1519.5,2219.2 1521,2219.2 1522.5,2219.2 1524,2219.2 1525.5,2219.2 1527,2219.2 1528.5,2219.2 1530,2219.2 1531.5,2219.2 1533,2219.2 1534.5,2219.2 1536,2219.2 1537.5,2219.2 1539,2219.2 1540.5,2219.2 1542,2219.2 1543.5,2219.2 1545,2219.2 1546.5,2219.2 1548,2219.2 1549.5,2219.2 1551,2219.2 1552.5,2219.2 1554,2219.2 1555.5,2219.2 1557,2219.2 1558.5,2219.2 1560,2219.1 1561.5,2219.1 1563,2219.1 1564.5,2219.1 1566,2219.1 1567.5,2219.1 1569,2219.1 1570.5,2219.1 1572,2219 1573.5,2219 1575,2219 1576.5,2219 1578,2219 1579.5,2219 1581,2218.9 1582.5,2218.9 1584,2218.9 1585.5,2218.9 1587,2218.9 1588.5,2218.8 1590,2218.8 1591.5,2218.8 1593,2218.8 1594.5,2218.8 1596,2218.7 1597.5,2218.7 1599,2218.7 1600.5,2218.7 1602,2218.7 1603.5,2218.6 1605,2218.6 1606.5,2218.6 1608,2218.6 1609.5,2218.6 1611,2218.5 1612.5,2218.5 1614,2218.5 1615.5,2218.5 1617,2218.5 1618.5,2218.4 1620,2218.4 1621.5,2218.4 1623,2218.4 1624.5,2218.4 1626,2218.4 1627.5,2218.3 1629,2218.3 1630.5,2218.3 1632,2218.3 1633.5,2218.3 1635,2218.3 1636.5,2218.3 1638,2218.2 1639.5,2218.2 1641,2218.2 1642.5,2218.2 1644,2218.2 1645.5,2218.2 1647,2218.2 1648.5,2218.2 1650,2218.2 1651.5,2218.2 1653,2218.2 1654.5,2218.2 1656,2218.2 1657.5,2218.2 1659,2218.2 1660.5,2218.1 1662,2218.1 1663.5,2218.1 1665,2218.1 1666.5,2218.1 1668,2218.1 1669.5,2218.1 1671,2218.1 1672.5,2218.1 1674,2218.1 1675.5,2218.1 1677,2218.1 1678.5,2218.1 1680,2218.1 1681.5,2218.1 1683,2218.1 1684.5,2218.1 1686,2218.1 1687.5,2218.1 1689,2218.1 1690.5,2218.1 1692,2218 1693.5,2218 1695,2218 1696.5,2218 1698,2218 1699.5,2218 1701,2218 1702.5,2218 1704,2218 1705.5,2218 1707,2218 1708.5,2218 1710,2218 1711.5,2218 1713,2218 1714.5,2218 1716,2218 1717.5,2218 1719,2218 1720.5,2218 1722,2218 1723.5,2218 1725,2218 1726.5,2218 1728,2218 1729.5,2218 1731,2217.9 1732.5,2217.9 1734,2217.9 1735.5,2217.9 1737,2217.9 1738.5,2217.9 1740,2217.9 1741.5,2217.9 1743,2217.9 1744.5,2217.9 1746,2217.9 1747.5,2217.9 1749,2217.9 1750.5,2217.9 1752,2217.9 1753.5,2217.9 1755,2217.9 1756.5,2217.9 1758,2217.9 1759.5,2217.9 1761,2217.9 1762.5,2217.9 1764,2217.9 1765.5,2217.9 1767,2217.9 1768.5,2217.9 1770,2217.9 1771.5,2217.9 1773,2217.9 1774.5,2217.9 1776,2217.9 1777.5,2217.9 1779,2217.9 1780.5,2217.9 1782,2217.9 1783.5,2217.9 1785,2217.9 1786.5,2217.9 1788,2218 1789.5,2218 1791,2218 1792.5,2218.1 1794,2218.1 1795.5,2218.1 1797,2218.2 1798.5,2218.2 1800,2218.3 1801.5,2218.3 1803,2218.4 1804.5,2218.4 1806,2218.5 1807.5,2218.5 1809,2218.6 1810.5,2218.6 1812,2218.7 1813.5,2218.7 1815,2218.8 1816.5,2218.9 1818,2219 1819.5,2219 1821,2219.1 1822.5,2219.2 1824,2219.3 1825.5,2219.4 1827,2219.5 1828.5,2219.6 1830,2219.7 1831.5,2219.9 1833,2220 1834.5,2220.1 1836,2220.2 1837.5,2220.4 1839,2220.5 1840.5,2220.7 1842,2220.8 1843.5,2221 1845,2221.1 1846.5,2221.3 1848,2221.5 1849.5,2221.7 1851,2222 1852.5,2222.2 1854,2222.5 1855.5,2222.7 1857,2223 1858.5,2223.3 1860,2223.6 1861.5,2224 1863,2224.3 1864.5,2224.6 1866,2225 1867.5,2225.3 1869,2225.7 1870.5,2226 1872,2226.4 1873.5,2226.7 1875,2227.1 1876.5,2227.4 1878,2227.8 1879.5,2228.1 1881,2228.5 1882.5,2228.8 1884,2229.2 1885.5,2229.6 1887,2229.9 1888.5,2230.3 1890,2230.7 1891.5,2231.1 1893,2231.5 1894.5,2231.9 1896,2232.3 1897.5,2232.8 1899,2233.2 1900.5,2233.7 1902,2234.1 1903.5,2234.6 1905,2235 1906.5,2235.5 1908,2236 1909.5,2236.5 1911,2237 1912.5,2237.5 1914,2238.1 1915.5,2238.7 1917,2239.2 1918.5,2239.8 1920,2240.4 1921.5,2241.1 1923,2241.7 1924.5,2242.3 1926,2243 1927.5,2243.6 1929,2244.3 1930.5,2245 1932,2245.7 1933.5,2246.4 1935,2247.1 1936.5,2247.8 1938,2248.5 1939.5,2249.2 1941,2249.9 1942.5,2250.6 1944,2251.4 1945.5,2252.1 1947,2252.9 1948.5,2253.7 1950,2254.5 1951.5,2255.3 1953,2256.1 1954.5,2256.9 1956,2257.8 1957.5,2258.6 1959,2259.5 1960.5,2260.3 1962,2261.2 1963.5,2262 1965,2262.9 1966.5,2263.7 1968,2264.6 1969.5,2265.4 1971,2266.3 1972.5,2267.1 1974,2268 1975.5,2268.8 1977,2269.6 1978.5,2270.5 1980,2271.3 1981.5,2272.2 1983,2273 1984.5,2273.9 1986,2274.7 1987.5,2275.6 1989,2276.4 1990.5,2277.3 1992,2278.1 1993.5,2279 1995,2279.8 1996.5,2280.6 1998,2281.4 1999.5,2282.2 2001,2283 2002.5,2283.8 2004,2284.6 2005.5,2285.4 2007,2286.1 2008.5,2286.8 2010,2287.6 2011.5,2288.3 2013,2289 2014.5,2289.8 2016,2290.5 2017.5,2291.2 2019,2291.9 2020.5,2292.6 2022,2293.3 2023.5,2293.9 2025,2294.6 2026.5,2295.3 2028,2295.9 2029.5,2296.6 2031,2297.2 2032.5,2297.8 2034,2298.4 2035.5,2299 2037,2299.6 2038.5,2300.2 2040,2300.8 2041.5,2301.3 2043,2301.9 2044.5,2302.5 2046,2303 2047.5,2303.6 2049,2304.1 2050.5,2304.6 2052,2305.2 2053.5,2305.7 2055,2306.2 2056.5,2306.7 2058,2307.2 2059.5,2307.7 2061,2308.1 2062.5,2308.6 2064,2309 2065.5,2309.4 2067,2309.8 2068.5,2310.2 2070,2310.5 2071.5,2310.9 2073,2311.2 2074.5,2311.5 2076,2311.8 2077.5,2312.1 2079,2312.4 2080.5,2312.6 2082,2312.9 2083.5,2313.2 2085,2313.4 2086.5,2313.7 2088,2313.9 2089.5,2314.1 2091,2314.3 2092.5,2314.6 2094,2314.8 2095.5,2315 2097,2315.1 2098.5,2315.3 2100,2315.5 2101.5,2315.7 2103,2315.8 2104.5,2316 2106,2316.2 2107.5,2316.3 2109,2316.5 2110.5,2316.6 2112,2316.8 2113.5,2316.9 2115,2317 2116.5,2317.2 2118,2317.2 2119.5,2317.3 2121,2317.4 2122.5,2317.4 2124,2317.5 2125.5,2317.5 2127,2317.5 2128.5,2317.6 2130,2317.6 2131.5,2317.6 2133,2317.7 2134.5,2317.7 2136,2317.7 2137.5,2317.7 2139,2317.8 2140.5,2317.8 2142,2317.8 2143.5,2317.8 2145,2317.9 2146.5,2317.9 2148,2317.9 2149.5,2317.9 2151,2317.9 2152.5,2318 2154,2318 2155.5,2318 2157,2318 2158.5,2318 2160,2318 2161.5,2318.1 2163,2318.1 2164.5,2318.1 2166,2318.1 2167.5,2318.1 2169,2318.1 2170.5,2318.2 2172,2318.2 2173.5,2318.2 2175,2318.2 2176.5,2318.2 2178,2318.2 2179.5,2318.2 2181,2318.2 2182.5,2318.2 2184,2318.3 2185.5,2318.3 2187,2318.3 2188.5,2318.3 2190,2318.3 2191.5,2318.3 2193,2318.3 2194.5,2318.3 2196,2318.3 2197.5,2318.4 2199,2318.4 2200.5,2318.4 2202,2318.4 2203.5,2318.4 2205,2318.4 2206.5,2318.4 2208,2318.4 2209.5,2318.4 2211,2318.5 2212.5,2318.5 2214,2318.5 2215.5,2318.5 2217,2318.5 2218.5,2318.5 2220,2318.5 2221.5,2318.5 2223,2318.5 2224.5,2318.6 2226,2318.6 2227.5,2318.6 2229,2318.6 2230.5,2318.6 2232,2318.6 2233.5,2318.6 2235,2318.6 2236.5,2318.6 2238,2318.7 2239.5,2318.7 2241,2318.7 2242.5,2318.7 2244,2318.7 2245.5,2318.7 2247,2318.7 2248.5,2318.7 2250,2318.7 2251.5,2318.8 2253,2318.8 2254.5,2318.8 2256,2318.8 2257.5,2318.8 2259,2318.8 2260.5,2318.8 2262,2318.8 2263.5,2318.8 2265,2318.9 2266.5,2318.9 2268,2318.9 2269.5,2318.9 2271,2318.9 2272.5,2318.9 2274,2318.9 2275.5,2318.9 2277,2318.9 2278.5,2318.9 2280,2319 2281.5,2319 2283,2319 2284.5,2319 2286,2319 2287.5,2319 2289,2319 2290.5,2319 2292,2319 2293.5,2319 2295,2319 2296.5,2319.1 2298,2319.1 2299.5,2319.1 2301,2319.1 2302.5,2319.1 2304,2319.1 2305.5,2319.1 2307,2319.1 2308.5,2319.1 2310,2319.1 2311.5,2319.1 2313,2319.1 2314.5,2319.2 2316,2319.2 2317.5,2319.2 2319,2319.2 2320.5,2319.2 2322,2319.2 2323.5,2319.2 2325,2319.2 2326.5,2319.2 2328,2319.2 2329.5,2319.2 2331,2319.2 2332.5,2319.2 2334,2319.2 2335.5,2319.3 2337,2319.3 2338.5,2319.3 2340,2319.3 2341.5,2319.3 2343,2319.3 2344.5,2319.3 2346,2319.3 2347.5,2319.3 2349,2319.3 2350.5,2319.3 2352,2319.3 2353.5,2319.3 2355,2319.3 2356.5,2319.3 2358,2319.3 2359.5,2319.3 2361,2319.3 2362.5,2319.3 2364,2319.4 2365.5,2319.4 2367,2319.4 2368.5,2319.4 2370,2319.4 2371.5,2319.4 2373,2319.4 2374.5,2319.4 2376,2319.4 2377.5,2319.4 2379,2319.4 2380.5,2319.4 2382,2319.4 2383.5,2319.4 2385,2319.4 2386.5,2319.4 2388,2319.4 2389.5,2319.4 2391,2319.4 2392.5,2319.4 2394,2319.4 2395.5,2319.4 2397,2319.4 2398.5,2319.4 2400,2319.4 2400.1,2319.4" fill="none" stroke="#00FF00" stroke-width="7.5" stroke-linejoin="round" stroke-linecap="round"/>
<polyline points="1360.5,2208 1362,2208 1363.5,2208 1365,2208 1366.5,2207.9 1368,2207.9 1369.5,2207.9 1371,2207.9 1372.5,2207.9 1374,2207.9 1375.5,2207.9 1377,2207.8 1378.5,2207.8 1380,2207.8 1381.5,2207.8 1383,2207.8 1384.5,2207.8 1386,2207.7 1387.5,2207.7 1389,2207.7 1390.5,2207.7 1392,2207.7 1393.5,2207.7 1395,2207.6 1396.5,2207.6 1398,2207.6 1399.5,2207.6 1401,2207.6 1402.5,2207.6 1404,2207.5 1405.5,2207.5 1407,2207.5 1408.5,2207.5 1410,2207.5 1411.5,2207.4 1413,2207.4 1414.5,2207.4 1416,2207.4 1417.5,2207.3 1419,2207.3 1420.5,2207.3 1422,2207.3 1423.5,2207.3 1425,2207.2 1426.5,2207.2 1428,2207.2 1429.5,2207.2 1431,2207.2 1432.5,2207.1 1434,2207.1 1435.5,2207.1 1437,2207.1 1438.5,2207 1440,2207 1441.5,2207 1443,2207 1444.5,2206.9 1446,2206.9 1447.5,2206.9 1449,2206.9 1450.5,2206.8 1452,2206.8 1453.5,2206.8 1455,2206.8 1456.5,2206.7 1458,2206.7 1459.5,2206.7 1461,2206.7 1462.5,2206.6 1464,2206.6 1465.5,2206.6 1467,2206.6 1468.5,2206.5 1470,2206.5 1471.5,2206.5 1473,2206.5 1474.5,2206.4 1476,2206.4 1477.5,2206.4 1479,2206.4 1480.5,2206.3 1482,2206.3 1483.5,2206.3 1485,2206.2 1486.5,2206.2 1488,2206.2 1489.5,2206.2 1491,2206.1 1492.5,2206.1 1494,2206.1 1495.5,2206.1 1497,2206 1498.5,2206 1500,2206 1501.5,2205.9 1503,2205.9 1504.5,2205.9 1506,2205.9 1507.5,2205.8 1509,2205.8 1510.5,2205.8 1512,2205.7 1513.5,2205.7 1515,2205.7 1516.5,2205.7 1518,2205.6 1519.5,2205.6 1521,2205.6 1522.5,2205.6 1524,2205.5 1525.5,2205.5 1527,2205.5 1528.5,2205.5 1530,2205.4 1531.5,2205.4 1533,2205.4 1534.5,2205.3 1536,2205.3 1537.5,2205.3 1539,2205.3 1540.5,2205.2 1542,2205.2 1543.5,2205.2 1545,2205.1 1546.5,2205.1 1548,2205.1 1549.5,2205 1551,2205 1552.5,2205 1554,2204.9 1555.5,2204.9 1557,2204.8 1558.5,2204.8 1560,2204.8 1561.5,2204.7 1563,2204.7 1564.5,2204.6 1566,2204.6 1567.5,2204.5 1569,2204.5 1570.5,2204.5 1572,2204.4 1573.5,2204.4 1575,2204.3 1576.5,2204.2 1578,2204.2 1579.5,2204.1 1581,2204.1 1582.5,2204 1584,2204 1585.5,2203.9 1587,2203.8 1588.5,2203.7 1590,2203.7 1591.5,2203.6 1593,2203.4 1594.5,2203.3 1596,2203.2 1597.5,2203 1599,2202.9 1600.5,2202.7 1602,2202.6 1603.5,2202.4 1605,2202.2 1606.5,2202 1608,2201.8 1609.5,2201.6 1611,2201.4 1612.5,2201.2 1614,2201 1615.5,2200.8 1617,2200.6 1618.5,2200.4 1620,2200.1 1621.5,2199.9 1623,2199.7 1624.5,2199.5 1626,2199.3 1627.5,2199.1 1629,2198.9 1630.5,2198.6 1632,2198.4 1633.5,2198.2 1635,2198 1636.5,2197.9 1638,2197.7 1639.5,2197.5 1641,2197.3 1642.5,2197.1 1644,2197 1645.5,2196.8 1647,2196.7 1648.5,2196.6 1650,2196.4 1651.5,2196.3 1653,2196.2 1654.5,2196.1 1656,2196 1657.5,2195.8 1659,2195.7 1660.5,2195.6 1662,2195.5 1663.5,2195.4 1665,2195.4 1666.5,2195.3 1668,2195.2 1669.5,2195.1 1671,2195 1672.5,2194.9 1674,2194.8 1675.5,2194.7 1677,2194.6 1678.5,2194.5 1680,2194.4 1681.5,2194.3 1683,2194.2 1684.5,2194.1 1686,2194 1687.5,2193.8 1689,2193.7 1690.5,2193.6 1692,2193.4 1693.5,2193.3 1695,2193.2 1696.5,2193 1698,2192.8 1699.5,2192.7 1701,2192.5 1702.5,2192.3 1704,2192 1705.5,2191.8 1707,2191.5 1708.5,2191.2 1710,2190.9 1711.5,2190.6 1713,2190.3 1714.5,2189.9 1716,2189.6 1717.5,2189.2 1719,2188.9 1720.5,2188.5 1722,2188.2 1723.5,2187.8 1725,2187.5 1726.5,2187.1 1728,2186.8 1729.5,2186.4 1731,2186 1732.5,2185.7 1734,2185.3 1735.5,2184.9 1737,2184.5 1738.5,2184.1 1740,2183.7 1741.5,2183.3 1743,2182.9 1744.5,2182.4 1746,2182 1747.5,2181.5 1749,2181.1 1750.5,2180.6 1752,2180.1 1753.5,2179.6 1755,2179.1 1756.5,2178.6 1758,2178 1759.5,2177.4 1761,2176.9 1762.5,2176.3 1764,2175.7 1765.5,2175 1767,2174.3 1768.5,2173.6 1770,2172.9 1771.5,2172.1 1773,2171.3 1774.5,2170.4 1776,2169.6 1777.5,2168.6 1779,2167.7 1780.5,2166.7 1782,2165.7 1783.5,2164.6 1785,2163.6 1786.5,2162.4 1788,2161.3 1789.5,2160.1 1791,2158.9 1792.5,2157.7 1794,2156.4 1795.5,2155.1 1797,2153.8 1798.5,2152.4 1800,2151 1801.5,2149.5 1803,2148 1804.5,2146.3 1806,2144.7 1807.5,2142.9 1809,2141.1 1810.5,2139.2 1812,2137.3 1813.5,2135.3 1815,2133.3 1816.5,2131.2 1818,2129 1819.5,2126.7 1821,2124.4 1822.5,2122.1 1824,2119.7 1825.5,2117.2 1827,2114.6 1828.5,2112 1830,2109.4 1831.5,2106.5 1833,2103.5 1834.5,2100.3 1836,2096.9 1837.5,2093.4 1839,2089.8 1840.5,2086 1842,2082.1 1843.5,2078 1845,2073.9 1846.5,2069.7 1848,2065.3 1849.5,2060.9 1851,2056.4 1852.5,2051.8 1854,2047.1 1855.5,2042.2 1857,2037.2 1858.5,2031.9 1860,2026.4 1861.5,2020.7 1863,2014.7 1864.5,2008.4 1866,2001.7 1867.5,1994.7 1869,1987.3 1870.5,1979.2 1872,1970.5 1873.5,1961.2 1875,1951.2 1876.5,1940.7 1878,1929.5 1879.5,1917.7 1881,1905.3 1882.5,1890.9 1884,1874.2 1885.5,1856.8 1887,1840 1888.5,1825.4 1890,1812 1891.5,1799.4 1893,1787.3 1894.5,1775.4 1896,1763.5 1897.5,1751.3 1899,1739.1 1900.5,1727 1902,1714.9 1903.5,1703.1 1905,1691.6 1906.5,1680.5 1908,1669.8 1909.5,1659.4 1911,1649 1912.5,1638.6 1914,1627.9 1915.5,1616.9 1917,1605.2 1918.5,1591.8 1920,1577.5 1921.5,1563.2 1923,1549.8 1924.5,1538.5 1926,1530 1927.5,1523.6 1929,1518 1930.5,1513.3 1932,1509.7 1933.5,1507.3 1935,1505.3 1936.5,1503.7 1938,1502.5 1939.5,1502 1941,1502.8 1942.5,1505.4 1944,1509.1 1945.5,1513.8 1947,1522.1 1948.5,1533.1 1950,1544.8 1951.5,1558.8 1953,1574.2 1954.5,1589.1 1956,1602.3 1957.5,1614.6 1959,1626.5 1960.5,1638.1 1962,1649.7 1963.5,1661.6 1965,1673.8 1966.5,1686.1 1968,1698.4 1969.5,1710.5 1971,1722.3 1972.5,1733.3 1974,1743.3 1975.5,1753.7 1977,1765.7 1978.5,1781.9 1980,1804.5 1981.5,1825 1983,1839.9 1984.5,1852.9 1986,1864.7 1987.5,1876.1 1989,1887.8 1990.5,1899.5 1992,1911 1993.5,1922.3 1995,1933.2 1996.5,1943.8 1998,1953.8 1999.5,1963.4 2001,1972.6 2002.5,1981.6 2004,1990.4 2005.5,1999.1 2007,2007.9 2008.5,2016.9 2010,2026.3 2011.5,2036 2013,2045.7 2014.5,2055.1 2016,2064 2017.5,2072.2 2019,2079.4 2020.5,2086 2022,2092.2 2023.5,2098.1 2025,2103.7 2026.5,2109.1 2028,2114.2 2029.5,2119.1 2031,2123.7 2032.5,2128.2 2034,2132.6 2035.5,2136.5 2037,2140.1 2038.5,2143.7 2040,2147.5 2041.5,2151.9 2043,2156.6 2044.5,2161.6 2046,2166.5 2047.5,2171.2 2049,2175.4 2050.5,2179.2 2052,2182.7 2053.5,2186.1 2055,2189.4 2056.5,2192.7 2058,2196.2 2059.5,2199.7 2061,2203.1 2062.5,2206.5 2064,2209.7 2065.5,2212.7 2067,2215.4 2068.5,2218 2070,2220.4 2071.5,2222.8 2073,2225.1 2074.5,2227.2 2076,2229.3 2077.5,2231.3 2079,2233.2 2080.5,2235 2082,2236.8 2083.5,2238.5 2085,2240.2 2086.5,2241.8 2088,2243.5 2089.5,2245 2091,2246.6 2092.5,2248.1 2094,2249.6 2095.5,2251 2097,2252.4 2098.5,2253.8 2100,2255.2 2101.5,2256.5 2103,2257.7 2104.5,2258.9 2106,2260.1 2107.5,2261.3 2109,2262.4 2110.5,2263.4 2112,2264.5 2113.5,2265.5 2115,2266.5 2116.5,2267.5 2118,2268.4 2119.5,2269.4 2121,2270.3 2122.5,2271.2 2124,2272.1 2125.5,2273 2127,2273.8 2128.5,2274.6 2130,2275.4 2131.5,2276.1 2133,2276.9 2134.5,2277.5 2136,2278.2 2137.5,2278.8 2139,2279.4 2140.5,2279.9 2142,2280.4 2143.5,2280.9 2145,2281.3 2146.5,2281.7 2148,2282.2 2149.5,2282.6 2151,2283 2152.5,2283.4 2154,2283.8 2155.5,2284.2 2157,2284.5 2158.5,2284.9 2160,2285.2 2161.5,2285.6 2163,2285.9 2164.5,2286.2 2166,2286.6 2167.5,2286.9 2169,2287.2 2170.5,2287.5 2172,2287.8 2173.5,2288.1 2175,2288.3 2176.5,2288.6 2178,2288.9 2179.5,2289.1 2181,2289.4 2182.5,2289.6 2184,2289.9 2185.5,2290.1 2187,2290.4 2188.5,2290.6 2190,2290.8 2191.5,2291.1 2193,2291.3 2194.5,2291.5 2196,2291.7 2197.5,2291.9 2199,2292.2 2200.5,2292.4 2202,2292.6 2203.5,2292.8 2205,2293 2206.5,2293.2 2208,2293.4 2209.5,2293.6 2211,2293.8 2212.5,2294 2214,2294.1 2215.5,2294.3 2217,2294.5 2218.5,2294.7 2220,2294.9 2221.5,2295.1 2223,2295.2 2224.5,2295.4 2226,2295.6 2227.5,2295.8 2229,2295.9 2230.5,2296.1 2232,2296.3 2233.5,2296.4 2235,2296.6 2236.5,2296.7 2238,2296.9 2239.5,2297.1 2241,2297.2 2242.5,2297.4 2244,2297.5 2245.5,2297.7 2247,2297.8 2248.5,2297.9 2250,2298.1 2251.5,2298.2 2253,2298.4 2254.5,2298.5 2256,2298.6 2257.5,2298.8 2259,2298.9 2260.5,2299 2262,2299.2 2263.5,2299.3 2265,2299.4 2266.5,2299.5 2268,2299.7 2269.5,2299.8 2271,2299.9 2272.5,2300 2274,2300.1 2275.5,2300.3 2277,2300.4 2278.5,2300.5 2280,2300.6 2281.5,2300.7 2283,2300.8 2284.5,2300.9 2286,2301 2287.5,2301.1 2289,2301.2 2290.5,2301.4 2292,2301.5 2293.5,2301.6 2295,2301.7 2296.5,2301.8 2298,2301.9 2299.5,2302 2301,2302.1 2302.5,2302.2 2304,2302.3 2305.5,2302.4 2307,2302.5 2308.5,2302.6 2310,2302.7 2311.5,2302.8 2313,2302.9 2314.5,2303 2316,2303.1 2317.5,2303.2 2319,2303.3 2320.5,2303.4 2322,2303.5 2323.5,2303.6 2325,2303.6 2326.5,2303.7 2328,2303.8 2329.5,2303.9 2331,2304 2332.5,2304.1 2334,2304.2 2335.5,2304.3 2337,2304.4 2338.5,2304.5 2340,2304.5 2341.5,2304.6 2343,2304.7 2344.5,2304.8 2346,2304.9 2347.5,2305 2349,2305 2350.5,2305.1 2352,2305.2 2353.5,2305.3 2355,2305.3 2356.5,2305.4 2358,2305.5 2359.5,2305.6 2361,2305.6 2362.5,2305.7 2364,2305.8 2365.5,2305.8 2367,2305.9 2368.5,2306 2370,2306 2371.5,2306.1 2373,2306.2 2374.5,2306.2 2376,2306.3 2377.5,2306.4 2379,2306.4 2380.5,2306.5 2382,2306.5 2383.5,2306.6 2385,2306.6 2386.5,2306.7 2388,2306.7 2389.5,2306.8 2391,2306.8 2392.5,2306.9 2394,2306.9 2395.5,2307 2397,2307 2398.5,2307.1 2400,2307.1 2400.1,2307.1" fill="none" stroke="#FF6600" stroke-width="9.5" stroke-linejoin="round" stroke-linecap="round"/>
<polyline points="1360.5,2213.1 1362,2213.1 1363.5,2213.1 1365,2213.2 1366.5,2213.2 1368,2213.2 1369.5,2213.2 1371,2213.3 1372.5,2213.3 1374,2213.3 1375.5,2213.3 1377,2213.3 1378.5,2213.4 1380,2213.4 1381.5,2213.4 1383,2213.4 1384.5,2213.4 1386,2213.4 1387.5,2213.5 1389,2213.5 1390.5,2213.5 1392,2213.5 1393.5,2213.5 1395,2213.5 1396.5,2213.6 1398,2213.6 1399.5,2213.6 1401,2213.6 1402.5,2213.6 1404,2213.6 1405.5,2213.7 1407,2213.7 1408.5,2213.7 1410,2213.7 1411.5,2213.7 1413,2213.7 1414.5,2213.7 1416,2213.7 1417.5,2213.8 1419,2213.8 1420.5,2213.8 1422,2213.8 1423.5,2213.8 1425,2213.8 1426.5,2213.8 1428,2213.8 1429.5,2213.9 1431,2213.9 1432.5,2213.9 1434,2213.9 1435.5,2213.9 1437,2213.9 1438.5,2213.9 1440,2213.9 1441.5,2213.9 1443,2213.9 1444.5,2213.9 1446,2214 1447.5,2214 1449,2214 1450.5,2214 1452,2214 1453.5,2214 1455,2214 1456.5,2214 1458,2214 1459.5,2214 1461,2214 1462.5,2214 1464,2214 1465.5,2214 1467,2214 1468.5,2214 1470,2214.1 1471.5,2214.1 1473,2214.1 1474.5,2214.1 1476,2214.1 1477.5,2214.1 1479,2214.1 1480.5,2214.1 1482,2214.1 1483.5,2214.1 1485,2214.1 1486.5,2214.1 1488,2214.1 1489.5,2214.1 1491,2214.1 1492.5,2214.1 1494,2214.1 1495.5,2214.1 1497,2214.1 1498.5,2214.1 1500,2214.1 1501.5,2214.1 1503,2214.1 1504.5,2214.1 1506,2214.1 1507.5,2214.1 1509,2214.1 1510.5,2214.1 1512,2214.1 1513.5,2214.1 1515,2214.1 1516.5,2214.1 1518,2214.1 1519.5,2214.1 1521,2214.1 1522.5,2214.1 1524,2214.1 1525.5,2214.1 1527,2214.1 1528.5,2214.1 1530,2214.1 1531.5,2214 1533,2214 1534.5,2214 1536,2214 1537.5,2214 1539,2214 1540.5,2214 1542,2214 1543.5,2214 1545,2214 1546.5,2214 1548,2214 1549.5,2214 1551,2213.9 1552.5,2213.9 1554,2213.9 1555.5,2213.9 1557,2213.9 1558.5,2213.9 1560,2213.9 1561.5,2213.9 1563,2213.9 1564.5,2213.8 1566,2213.8 1567.5,2213.8 1569,2213.8 1570.5,2213.8 1572,2213.8 1573.5,2213.8 1575,2213.8 1576.5,2213.7 1578,2213.7 1579.5,2213.7 1581,2213.7 1582.5,2213.7 1584,2213.7 1585.5,2213.6 1587,2213.6 1588.5,2213.6 1590,2213.6 1591.5,2213.6 1593,2213.6 1594.5,2213.5 1596,2213.5 1597.5,2213.5 1599,2213.5 1600.5,2213.5 1602,2213.5 1603.5,2213.4 1605,2213.4 1606.5,2213.4 1608,2213.4 1609.5,2213.4 1611,2213.3 1612.5,2213.3 1614,2213.3 1615.5,2213.3 1617,2213.2 1618.5,2213.2 1620,2213.2 1621.5,2213.2 1623,2213.2 1624.5,2213.1 1626,2213.1 1627.5,2213.1 1629,2213 1630.5,2213 1632,2213 1633.5,2212.9 1635,2212.8 1636.5,2212.7 1638,2212.7 1639.5,2212.6 1641,2212.5 1642.5,2212.4 1644,2212.3 1645.5,2212.1 1647,2212 1648.5,2211.9 1650,2211.8 1651.5,2211.6 1653,2211.5 1654.5,2211.3 1656,2211.2 1657.5,2211 1659,2210.9 1660.5,2210.7 1662,2210.6 1663.5,2210.4 1665,2210.3 1666.5,2210.1 1668,2209.9 1669.5,2209.8 1671,2209.6 1672.5,2209.5 1674,2209.3 1675.5,2209.1 1677,2209 1678.5,2208.8 1680,2208.7 1681.5,2208.5 1683,2208.4 1684.5,2208.2 1686,2208.1 1687.5,2208 1689,2207.8 1690.5,2207.7 1692,2207.6 1693.5,2207.4 1695,2207.3 1696.5,2207.2 1698,2207.1 1699.5,2207 1701,2206.9 1702.5,2206.9 1704,2206.8 1705.5,2206.7 1707,2206.6 1708.5,2206.5 1710,2206.5 1711.5,2206.4 1713,2206.3 1714.5,2206.3 1716,2206.2 1717.5,2206.1 1719,2206.1 1720.5,2206 1722,2205.9 1723.5,2205.9 1725,2205.8 1726.5,2205.8 1728,2205.7 1729.5,2205.7 1731,2205.6 1732.5,2205.5 1734,2205.5 1735.5,2205.4 1737,2205.4 1738.5,2205.3 1740,2205.3 1741.5,2205.2 1743,2205.2 1744.5,2205.1 1746,2205 1747.5,2205 1749,2204.9 1750.5,2204.9 1752,2204.8 1753.5,2204.7 1755,2204.7 1756.5,2204.6 1758,2204.6 1759.5,2204.5 1761,2204.4 1762.5,2204.3 1764,2204.3 1765.5,2204.2 1767,2204.1 1768.5,2204 1770,2203.9 1771.5,2203.9 1773,2203.8 1774.5,2203.7 1776,2203.6 1777.5,2203.5 1779,2203.4 1780.5,2203.3 1782,2203.1 1783.5,2203 1785,2202.9 1786.5,2202.8 1788,2202.6 1789.5,2202.5 1791,2202.3 1792.5,2202.1 1794,2201.9 1795.5,2201.8 1797,2201.6 1798.5,2201.4 1800,2201.2 1801.5,2201 1803,2200.8 1804.5,2200.6 1806,2200.3 1807.5,2200.1 1809,2199.9 1810.5,2199.7 1812,2199.4 1813.5,2199.2 1815,2199 1816.5,2198.7 1818,2198.5 1819.5,2198.3 1821,2198 1822.5,2197.8 1824,2197.5 1825.5,2197.3 1827,2197 1828.5,2196.8 1830,2196.6 1831.5,2196.3 1833,2196.1 1834.5,2195.8 1836,2195.6 1837.5,2195.3 1839,2195.1 1840.5,2194.8 1842,2194.5 1843.5,2194.3 1845,2194 1846.5,2193.7 1848,2193.4 1849.5,2193.1 1851,2192.8 1852.5,2192.5 1854,2192.2 1855.5,2191.9 1857,2191.6 1858.5,2191.3 1860,2190.9 1861.5,2190.6 1863,2190.2 1864.5,2189.9 1866,2189.5 1867.5,2189.2 1869,2188.8 1870.5,2188.4 1872,2188 1873.5,2187.6 1875,2187.2 1876.5,2186.8 1878,2186.4 1879.5,2185.9 1881,2185.5 1882.5,2185 1884,2184.5 1885.5,2184 1887,2183.5 1888.5,2183 1890,2182.4 1891.5,2181.8 1893,2181.2 1894.5,2180.6 1896,2180 1897.5,2179.3 1899,2178.6 1900.5,2177.9 1902,2177.1 1903.5,2176.3 1905,2175.4 1906.5,2174.4 1908,2173.4 1909.5,2172.2 1911,2171 1912.5,2169.7 1914,2168.2 1915.5,2166.6 1917,2164.9 1918.5,2162.8 1920,2160.3 1921.5,2157.2 1923,2153.7 1924.5,2149.9 1926,2145.7 1927.5,2141.3 1929,2136.6 1930.5,2131.8 1932,2126.9 1933.5,2122 1935,2117.2 1936.5,2112.4 1938,2107.7 1939.5,2102.9 1941,2097.9 1942.5,2092.9 1944,2087.7 1945.5,2082.3 1947,2076.8 1948.5,2071.1 1950,2065.2 1951.5,2059.1 1953,2052.7 1954.5,2046.1 1956,2039.2 1957.5,2032.1 1959,2024.6 1960.5,2016.9 1962,2008.9 1963.5,2000.7 1965,1992.3 1966.5,1983.6 1968,1974.5 1969.5,1965 1971,1955.2 1972.5,1945.1 1974,1934.6 1975.5,1923.9 1977,1912.9 1978.5,1901.6 1980,1889 1981.5,1875.5 1983,1861.7 1984.5,1848 1986,1835.1 1987.5,1823.5 1989,1813.9 1990.5,1805.2 1992,1794.6 1993.5,1782.5 1995,1770.5 1996.5,1759.8 1998,1751.3 1999.5,1743.6 2001,1737.2 2002.5,1732.6 2004,1728.6 2005.5,1725.5 2007,1724.5 2008.5,1725.5 2010,1727.6 2011.5,1730.2 2013,1732.8 2014.5,1736.1 2016,1740.3 2017.5,1746.4 2019,1755.6 2020.5,1767.1 2022,1779.8 2023.5,1793.1 2025,1809.1 2026.5,1825 2028,1838.9 2029.5,1852.2 2031,1865 2032.5,1877.5 2034,1889.8 2035.5,1902.1 2037,1914.5 2038.5,1926.8 2040,1939 2041.5,1951.1 2043,1963.1 2044.5,1974.8 2046,1986.3 2047.5,1997.5 2049,2008.6 2050.5,2019.7 2052,2030.5 2053.5,2041 2055,2051.2 2056.5,2060.9 2058,2070.1 2059.5,2078.9 2061,2087.4 2062.5,2095.6 2064,2103.5 2065.5,2111.3 2067,2118.8 2068.5,2126.1 2070,2133.2 2071.5,2140.2 2073,2147.2 2074.5,2154 2076,2160.7 2077.5,2167.1 2079,2173.2 2080.5,2178.8 2082,2184 2083.5,2188.7 2085,2193.1 2086.5,2197.3 2088,2201.2 2089.5,2205 2091,2208.7 2092.5,2212.3 2094,2215.8 2095.5,2219.4 2097,2222.6 2098.5,2225.5 2100,2228.2 2101.5,2231 2103,2233.7 2104.5,2236.3 2106,2238.8 2107.5,2241.3 2109,2243.7 2110.5,2246 2112,2248.2 2113.5,2250.4 2115,2252.4 2116.5,2254.3 2118,2256.1 2119.5,2257.8 2121,2259.3 2122.5,2260.8 2124,2262.1 2125.5,2263.5 2127,2264.8 2128.5,2266.1 2130,2267.3 2131.5,2268.5 2133,2269.7 2134.5,2270.9 2136,2272 2137.5,2273.1 2139,2274.2 2140.5,2275.2 2142,2276.2 2143.5,2277.2 2145,2278.1 2146.5,2279 2148,2279.9 2149.5,2280.7 2151,2281.5 2152.5,2282.3 2154,2283 2155.5,2283.7 2157,2284.4 2158.5,2285 2160,2285.7 2161.5,2286.2 2163,2286.8 2164.5,2287.3 2166,2287.8 2167.5,2288.3 2169,2288.8 2170.5,2289.3 2172,2289.8 2173.5,2290.2 2175,2290.7 2176.5,2291.1 2178,2291.5 2179.5,2292 2181,2292.4 2182.5,2292.8 2184,2293.2 2185.5,2293.6 2187,2293.9 2188.5,2294.3 2190,2294.7 2191.5,2295 2193,2295.4 2194.5,2295.7 2196,2296 2197.5,2296.3 2199,2296.7 2200.5,2297 2202,2297.3 2203.5,2297.6 2205,2297.8 2206.5,2298.1 2208,2298.4 2209.5,2298.7 2211,2298.9 2212.5,2299.2 2214,2299.4 2215.5,2299.7 2217,2299.9 2218.5,2300.2 2220,2300.4 2221.5,2300.6 2223,2300.8 2224.5,2301 2226,2301.3 2227.5,2301.5 2229,2301.7 2230.5,2301.9 2232,2302.1 2233.5,2302.3 2235,2302.5 2236.5,2302.7 2238,2302.9 2239.5,2303.1 2241,2303.2 2242.5,2303.4 2244,2303.6 2245.5,2303.8 2247,2304 2248.5,2304.1 2250,2304.3 2251.5,2304.5 2253,2304.7 2254.5,2304.8 2256,2305 2257.5,2305.2 2259,2305.3 2260.5,2305.5 2262,2305.6 2263.5,2305.8 2265,2305.9 2266.5,2306.1 2268,2306.2 2269.5,2306.4 2271,2306.5 2272.5,2306.6 2274,2306.8 2275.5,2306.9 2277,2307 2278.5,2307.2 2280,2307.3 2281.5,2307.4 2283,2307.6 2284.5,2307.7 2286,2307.8 2287.5,2307.9 2289,2308 2290.5,2308.1 2292,2308.3 2293.5,2308.4 2295,2308.5 2296.5,2308.6 2298,2308.7 2299.5,2308.8 2301,2308.9 2302.5,2309 2304,2309.1 2305.5,2309.2 2307,2309.3 2308.5,2309.4 2310,2309.4 2311.5,2309.5 2313,2309.6 2314.5,2309.7 2316,2309.8 2317.5,2309.9 2319,2310 2320.5,2310.1 2322,2310.2 2323.5,2310.2 2325,2310.3 2326.5,2310.4 2328,2310.5 2329.5,2310.6 2331,2310.7 2332.5,2310.8 2334,2310.8 2335.5,2310.9 2337,2311 2338.5,2311.1 2340,2311.2 2341.5,2311.2 2343,2311.3 2344.5,2311.4 2346,2311.5 2347.5,2311.5 2349,2311.6 2350.5,2311.7 2352,2311.8 2353.5,2311.8 2355,2311.9 2356.5,2312 2358,2312 2359.5,2312.1 2361,2312.2 2362.5,2312.2 2364,2312.3 2365.5,2312.4 2367,2312.4 2368.5,2312.5 2370,2312.5 2371.5,2312.6 2373,2312.6 2374.5,2312.7 2376,2312.7 2377.5,2312.8 2379,2312.8 2380.5,2312.9 2382,2312.9 2383.5,2313 2385,2313 2386.5,2313 2388,2313.1 2389.5,2313.1 2391,2313.1 2392.5,2313.2 2394,2313.2 2395.5,2313.2 2397,2313.3 2398.5,2313.3 2400,2313.3 2400.1,2313.3" fill="none" stroke="#A466FF" stroke-width="9.5" stroke-linejoin="round" stroke-linecap="round"/>
<line x1="1823.1" y1="1675.4" x2="1906.6" y2="1727.1" stroke="#FF6600" stroke-width="9.5" stroke-linecap="round"/>
<line x1="2122.3" y1="1751.8" x2="2029.4" y2="1811.1" stroke="#A466FF" stroke-width="9.5" stroke-linecap="round"/>
<text transform="translate(1660.2,1669.5) scale(0.9820,1)" x="0" y="0" font-family="Liberation Serif, serif" font-size="91" font-weight="normal" fill="#FF6600">C-O</text>
<text transform="translate(2132,1757) scale(0.9885,1)" x="0" y="0" font-family="Liberation Serif, serif" font-size="90.5" font-weight="normal" fill="#A466FF">C=O</text>
<ellipse cx="1403" cy="1416.8" rx="101.5" ry="98.5" fill="#fff" stroke="#000" stroke-width="11"/>
<text transform="translate(1404.5,1473.5) scale(1.0,0.965)" x="-41.5" y="0" font-family="Liberation Sans, sans-serif" font-size="165" fill="#000" stroke="#000" stroke-width="3" stroke-linejoin="round">c</text>
</svg></body></html>
